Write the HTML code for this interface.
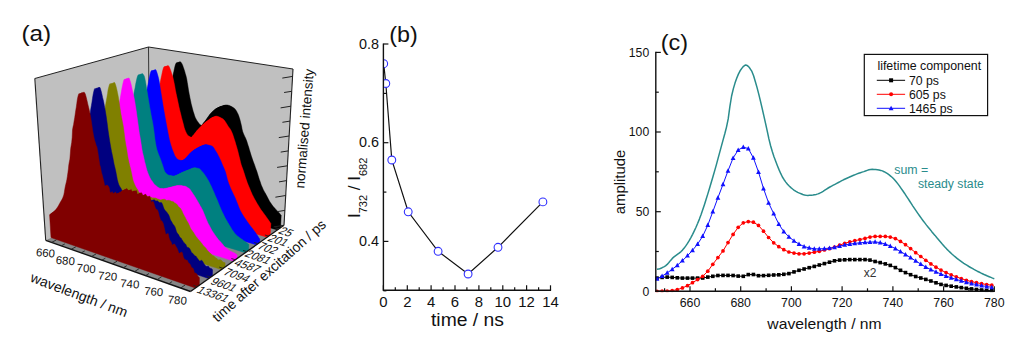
<!DOCTYPE html>
<html><head><meta charset="utf-8"><title>figure</title>
<style>html,body{margin:0;padding:0;background:#fff}svg{display:block}text{font-family:'Liberation Sans', Arial, sans-serif}</style>
</head><body>
<svg width="1024" height="350" viewBox="0 0 1024 350">
<rect width="1024" height="350" fill="#fff"/>
<polygon points="34.8,78.5 148.5,47.0 149.7,188.0 45.7,240.3" fill="#c0c0c0"/>
<polygon points="148.5,47.0 293.0,69.0 284.0,225.3 149.7,188.0" fill="#c0c0c0"/>
<polygon points="45.7,240.3 190.5,291.5 284.0,225.3 149.7,188.0" fill="#868686"/>
<line x1="148.5" y1="47.0" x2="149.7" y2="188.0" stroke="#333" stroke-width="1"/>
<polygon points="145.7,190.0 145.5,169.8 146.1,169.3 146.7,168.9 147.3,168.5 147.9,168.1 148.5,167.7 149.1,167.3 149.7,166.9 150.3,166.4 150.9,165.9 151.6,165.2 152.2,164.6 152.8,163.8 153.4,163.0 154.0,162.2 154.6,161.3 155.2,160.3 155.9,159.4 156.5,158.4 157.1,157.5 157.7,156.6 158.3,155.6 159.0,154.6 159.6,153.3 160.2,151.8 160.8,149.5 161.5,146.6 162.1,144.3 162.7,142.3 163.3,140.3 164.0,137.9 164.6,135.2 165.3,132.1 165.9,128.6 166.5,125.1 167.2,122.5 167.8,119.9 168.5,115.2 169.1,110.5 169.8,107.7 170.4,105.0 171.1,100.5 171.8,94.2 172.4,91.6 173.1,89.2 173.8,86.4 174.5,83.3 175.1,80.2 175.8,77.0 176.5,73.9 177.2,70.5 177.9,67.3 178.6,64.7 179.3,62.7 179.9,61.6 180.6,62.0 181.3,62.8 182.0,63.9 182.7,65.5 183.3,67.3 184.0,69.3 184.7,71.4 185.3,73.7 186.0,76.0 186.7,78.9 187.3,82.7 188.0,86.9 188.6,90.9 189.3,94.4 189.9,97.7 190.6,100.9 191.2,103.9 191.9,106.6 192.5,109.0 193.2,111.4 193.9,113.6 194.5,115.6 195.2,117.4 195.9,118.8 196.5,119.9 197.2,120.9 197.9,121.9 198.5,122.8 199.2,123.7 199.9,124.4 200.6,125.0 201.3,125.4 202.0,125.7 202.6,125.7 203.3,125.4 204.0,124.8 204.8,124.1 205.5,123.2 206.2,122.3 206.9,121.4 207.6,120.5 208.3,119.6 209.0,118.7 209.8,117.7 210.5,116.7 211.2,115.6 211.9,114.6 212.7,113.6 213.4,112.7 214.1,111.9 214.8,111.1 215.6,110.4 216.3,109.7 217.0,109.0 217.8,108.4 218.5,107.8 219.2,107.4 220.0,107.0 220.7,106.7 221.4,106.4 222.1,106.1 222.9,105.9 223.6,105.6 224.3,105.4 225.1,105.2 225.8,105.1 226.5,105.1 227.3,105.1 228.0,105.2 228.7,105.4 229.4,105.6 230.2,105.9 230.9,106.2 231.6,106.6 232.3,107.0 233.1,107.4 233.8,107.9 234.5,108.4 235.2,109.2 235.9,110.2 236.6,111.3 237.3,112.7 238.0,114.1 238.7,115.8 239.4,117.9 240.1,120.3 240.7,122.8 241.4,125.6 242.0,128.9 242.6,131.4 243.3,133.3 244.0,134.9 244.7,136.4 245.4,137.8 246.1,139.4 246.8,141.3 247.4,143.3 248.1,145.4 248.8,147.6 249.4,149.7 250.1,151.9 250.7,154.0 251.4,156.2 252.1,158.2 252.7,160.1 253.4,162.0 254.1,163.8 254.8,165.7 255.4,167.6 256.1,169.4 256.8,171.3 257.4,173.3 258.1,175.5 258.7,177.6 259.4,179.7 260.1,181.6 260.7,183.5 261.4,185.4 262.1,187.0 262.8,188.6 263.4,189.9 264.1,191.2 264.8,192.4 265.5,193.6 266.2,194.9 266.9,196.2 267.6,197.6 268.3,198.9 269.0,200.3 269.7,201.5 270.4,202.6 271.1,203.6 271.8,204.6 272.5,205.5 273.2,206.4 273.9,207.3 274.7,208.1 275.4,208.9 276.1,209.7 276.8,210.5 277.6,211.2 278.3,211.9 279.0,212.7 279.7,213.5 280.4,214.4 281.2,215.2 280.5,227.8" fill="#000000" stroke="#000000" stroke-width="0.5" stroke-linejoin="round"/>
<polygon points="144.9,190.4 144.6,170.1 145.3,169.7 145.9,169.3 146.5,168.9 147.1,168.5 147.7,168.1 148.3,167.7 148.9,167.3 149.5,166.8 150.1,166.2 150.7,165.6 151.3,164.9 152.0,164.2 152.6,163.4 153.2,162.5 153.8,161.6 154.4,160.7 155.0,159.8 155.6,158.8 156.3,157.9 156.9,157.0 157.5,156.0 158.1,154.9 158.8,153.7 159.4,152.2 160.0,149.8 160.6,147.0 161.3,144.6 161.9,142.6 162.5,140.6 163.2,138.3 163.8,135.5 164.4,132.4 165.1,128.9 165.7,125.4 166.3,122.8 167.0,120.2 167.6,115.5 168.3,110.9 168.9,108.1 169.6,105.4 170.3,100.9 170.9,94.5 171.6,91.9 172.3,89.5 172.9,86.6 173.6,83.6 174.3,80.5 175.0,77.3 175.7,74.2 176.3,70.8 177.0,67.6 177.7,65.0 178.4,62.9 179.1,61.9 179.8,62.2 180.5,63.0 181.1,64.2 181.8,65.7 182.5,67.5 183.2,69.5 183.8,71.7 184.5,74.0 185.2,76.3 185.8,79.2 186.5,83.0 187.1,87.2 187.8,91.2 188.4,94.7 189.1,98.0 189.7,101.2 190.4,104.2 191.1,106.9 191.7,109.3 192.4,111.7 193.0,113.9 193.7,116.0 194.4,117.7 195.0,119.1 195.7,120.2 196.4,121.3 197.1,122.3 197.7,123.2 198.4,124.0 199.1,124.8 199.8,125.4 200.5,125.8 201.1,126.0 201.8,126.0 202.5,125.7 203.2,125.2 203.9,124.5 204.6,123.6 205.4,122.7 206.1,121.7 206.8,120.8 207.5,120.0 208.2,119.1 208.9,118.1 209.7,117.0 210.4,116.0 211.1,114.9 211.9,113.9 212.6,113.0 213.3,112.2 214.0,111.5 214.8,110.7 215.5,110.0 216.2,109.3 217.0,108.7 217.7,108.2 218.4,107.7 219.1,107.4 219.9,107.1 220.6,106.8 221.3,106.5 222.1,106.2 222.8,106.0 223.5,105.7 224.3,105.6 225.0,105.5 225.7,105.4 226.4,105.4 227.2,105.5 227.9,105.7 228.6,105.9 229.4,106.2 230.1,106.5 230.8,106.9 231.5,107.3 232.3,107.7 233.0,108.2 233.7,108.7 234.4,109.5 235.1,110.5 235.8,111.7 236.5,113.0 237.2,114.4 237.9,116.1 238.6,118.2 239.3,120.6 239.9,123.2 240.6,126.0 241.2,129.2 241.9,131.8 242.5,133.7 243.2,135.3 243.9,136.7 244.6,138.2 245.3,139.8 246.0,141.7 246.6,143.7 247.3,145.8 248.0,148.0 248.6,150.1 249.3,152.3 250.0,154.4 250.6,156.6 251.3,158.6 252.0,160.6 252.6,162.4 253.3,164.3 254.0,166.1 254.7,168.0 255.3,169.8 256.0,171.7 256.7,173.8 257.3,175.9 258.0,178.1 258.6,180.2 259.3,182.1 260.0,184.0 260.7,185.8 261.3,187.5 262.0,189.0 262.7,190.4 263.4,191.7 264.1,192.9 264.8,194.1 265.5,195.3 266.2,196.7 266.9,198.0 267.6,199.4 268.2,200.7 268.9,202.0 269.7,203.1 270.4,204.1 271.1,205.1 271.8,206.0 272.5,206.9 273.2,207.7 273.9,208.6 274.6,209.4 275.4,210.2 276.1,210.9 276.8,211.7 277.5,212.4 278.3,213.2 279.0,214.0 279.7,214.9 280.4,215.7 279.7,228.3" fill="#000000" stroke="#000000" stroke-width="0.5" stroke-linejoin="round"/>
<polygon points="144.1,190.8 143.8,170.5 144.4,170.1 145.0,169.7 145.6,169.3 146.2,168.9 146.9,168.5 147.5,168.1 148.1,167.6 148.7,167.2 149.3,166.6 149.9,166.0 150.5,165.3 151.1,164.6 151.7,163.8 152.4,162.9 153.0,162.0 153.6,161.1 154.2,160.2 154.8,159.2 155.4,158.2 156.1,157.3 156.7,156.4 157.3,155.3 157.9,154.1 158.6,152.5 159.2,150.2 159.8,147.4 160.4,145.0 161.1,143.0 161.7,141.0 162.3,138.6 163.0,135.9 163.6,132.8 164.2,129.3 164.9,125.7 165.5,123.2 166.2,120.6 166.8,115.9 167.4,111.2 168.1,108.4 168.8,105.7 169.4,101.2 170.1,94.9 170.7,92.2 171.4,89.8 172.1,86.9 172.8,83.9 173.4,80.7 174.1,77.6 174.8,74.5 175.5,71.1 176.2,67.9 176.9,65.3 177.5,63.2 178.2,62.2 178.9,62.5 179.6,63.3 180.3,64.5 181.0,66.0 181.6,67.8 182.3,69.8 183.0,72.0 183.6,74.3 184.3,76.6 185.0,79.5 185.6,83.3 186.3,87.5 186.9,91.5 187.6,95.0 188.3,98.4 188.9,101.6 189.6,104.6 190.2,107.2 190.9,109.7 191.6,112.0 192.2,114.3 192.9,116.3 193.5,118.1 194.2,119.4 194.9,120.5 195.6,121.6 196.2,122.6 196.9,123.5 197.6,124.4 198.3,125.1 199.0,125.7 199.6,126.1 200.3,126.4 201.0,126.4 201.7,126.1 202.4,125.5 203.1,124.8 203.8,123.9 204.5,123.0 205.3,122.1 206.0,121.2 206.7,120.3 207.4,119.4 208.1,118.4 208.9,117.4 209.6,116.3 210.3,115.3 211.0,114.3 211.8,113.4 212.5,112.6 213.2,111.8 214.0,111.1 214.7,110.4 215.4,109.7 216.1,109.1 216.9,108.5 217.6,108.1 218.3,107.7 219.1,107.4 219.8,107.1 220.5,106.8 221.3,106.5 222.0,106.3 222.7,106.1 223.4,105.9 224.2,105.8 224.9,105.8 225.6,105.8 226.4,105.9 227.1,106.0 227.8,106.3 228.6,106.5 229.3,106.9 230.0,107.2 230.7,107.6 231.5,108.1 232.2,108.5 232.9,109.1 233.6,109.9 234.3,110.9 235.0,112.0 235.7,113.3 236.4,114.8 237.1,116.5 237.8,118.6 238.5,121.0 239.1,123.6 239.8,126.3 240.4,129.6 241.1,132.2 241.8,134.1 242.4,135.7 243.1,137.1 243.8,138.6 244.5,140.2 245.2,142.0 245.9,144.1 246.5,146.2 247.2,148.4 247.9,150.5 248.5,152.7 249.2,154.8 249.9,157.0 250.5,159.0 251.2,161.0 251.9,162.8 252.6,164.7 253.2,166.6 253.9,168.4 254.6,170.3 255.2,172.2 255.9,174.2 256.6,176.4 257.2,178.5 257.9,180.6 258.6,182.5 259.2,184.4 259.9,186.3 260.6,187.9 261.3,189.5 262.0,190.8 262.6,192.1 263.3,193.3 264.0,194.5 264.7,195.8 265.4,197.1 266.1,198.5 266.8,199.9 267.5,201.2 268.2,202.4 268.9,203.5 269.6,204.6 270.3,205.5 271.0,206.5 271.8,207.4 272.5,208.2 273.2,209.1 273.9,209.9 274.6,210.7 275.4,211.4 276.1,212.2 276.8,212.9 277.5,213.7 278.3,214.5 279.0,215.4 279.7,216.2 279.0,228.8" fill="#000000" stroke="#000000" stroke-width="0.5" stroke-linejoin="round"/>
<polygon points="143.2,191.3 143.0,170.9 143.6,170.5 144.2,170.1 144.8,169.7 145.4,169.3 146.0,168.9 146.6,168.5 147.2,168.0 147.9,167.6 148.5,167.0 149.1,166.4 149.7,165.7 150.3,165.0 150.9,164.2 151.5,163.3 152.1,162.4 152.8,161.5 153.4,160.5 154.0,159.6 154.6,158.6 155.2,157.7 155.9,156.8 156.5,155.7 157.1,154.4 157.7,152.9 158.3,150.6 159.0,147.7 159.6,145.4 160.2,143.4 160.9,141.3 161.5,139.0 162.1,136.2 162.7,133.1 163.4,129.6 164.0,126.1 164.7,123.5 165.3,120.9 166.0,116.2 166.6,111.5 167.3,108.7 167.9,106.0 168.6,101.5 169.2,95.2 169.9,92.5 170.6,90.1 171.2,87.2 171.9,84.2 172.6,81.0 173.3,77.9 173.9,74.8 174.6,71.4 175.3,68.1 176.0,65.5 176.7,63.5 177.4,62.4 178.1,62.8 178.7,63.6 179.4,64.8 180.1,66.3 180.8,68.1 181.5,70.1 182.1,72.3 182.8,74.6 183.5,76.9 184.1,79.8 184.8,83.6 185.5,87.8 186.1,91.8 186.8,95.3 187.4,98.7 188.1,101.9 188.7,104.9 189.4,107.6 190.1,110.0 190.7,112.4 191.4,114.6 192.1,116.6 192.7,118.4 193.4,119.8 194.1,120.9 194.7,121.9 195.4,123.0 196.1,123.9 196.8,124.7 197.5,125.5 198.1,126.1 198.8,126.5 199.5,126.8 200.2,126.8 200.9,126.4 201.6,125.9 202.3,125.2 203.0,124.3 203.7,123.4 204.4,122.4 205.2,121.5 205.9,120.7 206.6,119.8 207.3,118.8 208.0,117.7 208.8,116.7 209.5,115.6 210.2,114.6 211.0,113.7 211.7,112.9 212.4,112.1 213.1,111.4 213.9,110.7 214.6,110.0 215.3,109.4 216.1,108.9 216.8,108.4 217.5,108.0 218.2,107.7 219.0,107.4 219.7,107.1 220.4,106.9 221.2,106.6 221.9,106.4 222.6,106.3 223.4,106.1 224.1,106.1 224.8,106.1 225.6,106.2 226.3,106.4 227.0,106.6 227.7,106.9 228.5,107.2 229.2,107.6 229.9,108.0 230.7,108.4 231.4,108.9 232.1,109.4 232.8,110.2 233.5,111.2 234.2,112.4 234.9,113.7 235.6,115.1 236.3,116.8 237.0,119.0 237.7,121.4 238.3,123.9 239.0,126.7 239.6,130.0 240.3,132.6 241.0,134.5 241.7,136.1 242.4,137.5 243.0,139.0 243.7,140.6 244.4,142.4 245.1,144.5 245.8,146.6 246.4,148.8 247.1,150.9 247.8,153.1 248.4,155.2 249.1,157.4 249.8,159.4 250.4,161.4 251.1,163.3 251.8,165.1 252.5,167.0 253.1,168.8 253.8,170.7 254.5,172.6 255.2,174.6 255.8,176.8 256.5,179.0 257.1,181.0 257.8,183.0 258.5,184.9 259.1,186.7 259.8,188.4 260.5,189.9 261.2,191.3 261.9,192.6 262.6,193.8 263.3,195.0 264.0,196.3 264.7,197.6 265.4,199.0 266.1,200.4 266.8,201.7 267.5,202.9 268.2,204.0 268.9,205.0 269.6,206.0 270.3,207.0 271.0,207.8 271.7,208.7 272.5,209.6 273.2,210.4 273.9,211.2 274.6,211.9 275.4,212.7 276.1,213.4 276.8,214.2 277.5,215.0 278.3,215.9 279.0,216.7 278.3,229.3" fill="#000000" stroke="#000000" stroke-width="0.5" stroke-linejoin="round"/>
<polygon points="142.4,191.7 142.2,171.3 142.8,170.9 143.4,170.5 144.0,170.1 144.6,169.7 145.2,169.3 145.8,168.9 146.4,168.4 147.0,167.9 147.6,167.4 148.2,166.8 148.9,166.1 149.5,165.3 150.1,164.5 150.7,163.7 151.3,162.8 151.9,161.9 152.5,160.9 153.2,160.0 153.8,159.0 154.4,158.1 155.0,157.1 155.6,156.1 156.3,154.8 156.9,153.3 157.5,151.0 158.1,148.1 158.8,145.7 159.4,143.7 160.0,141.7 160.6,139.3 161.3,136.6 161.9,133.5 162.5,130.0 163.2,126.4 163.8,123.9 164.5,121.3 165.1,116.5 165.8,111.8 166.4,109.0 167.1,106.3 167.7,101.8 168.4,95.5 169.0,92.8 169.7,90.4 170.4,87.5 171.1,84.5 171.7,81.3 172.4,78.2 173.1,75.0 173.8,71.7 174.5,68.4 175.1,65.8 175.8,63.8 176.5,62.7 177.2,63.0 177.9,63.8 178.6,65.0 179.2,66.6 179.9,68.4 180.6,70.4 181.3,72.6 181.9,74.8 182.6,77.2 183.3,80.1 184.0,83.9 184.6,88.1 185.3,92.2 185.9,95.7 186.6,99.0 187.2,102.2 187.9,105.2 188.6,107.9 189.2,110.3 189.9,112.7 190.6,114.9 191.2,117.0 191.9,118.7 192.6,120.1 193.2,121.2 193.9,122.3 194.6,123.3 195.3,124.2 195.9,125.1 196.6,125.8 197.3,126.4 198.0,126.9 198.7,127.1 199.4,127.1 200.1,126.8 200.8,126.3 201.5,125.5 202.2,124.7 202.9,123.7 203.6,122.8 204.3,121.9 205.1,121.0 205.8,120.1 206.5,119.1 207.2,118.1 208.0,117.0 208.7,116.0 209.4,115.0 210.1,114.0 210.9,113.2 211.6,112.5 212.3,111.7 213.1,111.0 213.8,110.4 214.5,109.7 215.2,109.2 216.0,108.7 216.7,108.4 217.4,108.1 218.2,107.8 218.9,107.5 219.6,107.2 220.4,107.0 221.1,106.8 221.8,106.6 222.6,106.5 223.3,106.4 224.0,106.5 224.8,106.5 225.5,106.7 226.2,106.9 226.9,107.2 227.7,107.5 228.4,107.9 229.1,108.3 229.8,108.8 230.6,109.2 231.3,109.8 232.0,110.6 232.7,111.6 233.4,112.7 234.1,114.1 234.8,115.5 235.5,117.2 236.2,119.3 236.9,121.7 237.5,124.3 238.2,127.1 238.8,130.3 239.5,132.9 240.2,134.8 240.9,136.4 241.6,137.9 242.3,139.4 243.0,141.0 243.6,142.8 244.3,144.9 245.0,147.0 245.6,149.2 246.3,151.3 247.0,153.5 247.7,155.7 248.3,157.8 249.0,159.9 249.7,161.8 250.3,163.7 251.0,165.5 251.7,167.4 252.4,169.3 253.0,171.1 253.7,173.0 254.4,175.1 255.0,177.2 255.7,179.4 256.4,181.5 257.0,183.4 257.7,185.3 258.4,187.2 259.1,188.9 259.8,190.4 260.4,191.8 261.1,193.0 261.8,194.3 262.5,195.5 263.2,196.7 263.9,198.1 264.6,199.4 265.3,200.8 266.0,202.2 266.7,203.4 267.4,204.5 268.1,205.5 268.8,206.5 269.6,207.4 270.3,208.3 271.0,209.2 271.7,210.1 272.4,210.9 273.2,211.7 273.9,212.4 274.6,213.2 275.3,213.9 276.1,214.7 276.8,215.5 277.5,216.4 278.2,217.2 277.6,229.9" fill="#000000" stroke="#000000" stroke-width="0.5" stroke-linejoin="round"/>
<polygon points="134.2,195.8 133.8,175.2 134.4,174.8 135.0,174.4 135.6,174.0 136.2,173.6 136.8,173.2 137.5,172.8 138.1,172.3 138.7,171.8 139.3,171.3 139.9,170.7 140.5,170.0 141.1,169.2 141.7,168.4 142.4,167.5 143.0,166.6 143.6,165.7 144.2,164.7 144.8,163.8 145.4,162.8 146.0,161.9 146.7,160.9 147.3,159.8 147.9,158.6 148.5,157.0 149.1,154.7 149.8,151.8 150.4,149.4 151.0,147.4 151.6,145.3 152.2,142.9 152.9,140.1 153.5,137.0 154.1,133.5 154.7,129.9 155.4,127.3 156.0,124.6 156.6,119.9 157.3,115.1 157.9,112.3 158.6,109.5 159.2,105.0 159.8,98.6 160.5,95.8 161.2,93.5 161.8,90.6 162.5,87.5 163.1,84.3 163.8,81.1 164.5,77.9 165.2,74.5 165.8,71.2 166.5,68.6 167.2,66.5 167.9,65.4 168.6,65.9 169.3,66.9 169.9,68.4 170.6,70.2 171.3,72.3 172.0,74.5 172.7,76.7 173.4,79.5 174.1,82.9 174.8,86.5 175.4,90.2 176.1,93.6 176.8,96.8 177.5,100.1 178.2,103.2 178.8,106.3 179.5,109.2 180.2,112.0 180.9,114.8 181.5,117.4 182.2,120.0 182.9,122.6 183.6,125.2 184.2,127.7 184.9,129.8 185.6,131.4 186.3,132.9 187.0,134.2 187.6,135.2 188.3,135.7 189.0,136.2 189.7,136.6 190.4,137.0 191.1,137.3 191.8,137.5 192.5,137.6 193.2,137.3 193.9,136.7 194.6,136.0 195.3,135.2 196.0,134.5 196.7,133.7 197.4,132.8 198.2,131.8 198.9,130.9 199.6,130.0 200.3,129.1 201.0,128.3 201.8,127.6 202.5,126.8 203.2,126.0 204.0,125.3 204.7,124.5 205.4,123.8 206.1,123.1 206.9,122.5 207.6,121.8 208.3,121.2 209.1,120.7 209.8,120.1 210.6,119.6 211.3,119.0 212.0,118.5 212.8,117.9 213.5,117.4 214.3,116.9 215.0,116.6 215.7,116.3 216.5,116.2 217.2,116.3 217.9,116.5 218.7,116.8 219.4,117.1 220.1,117.4 220.9,117.8 221.6,118.2 222.3,118.6 223.1,119.0 223.8,119.7 224.5,120.5 225.2,121.6 226.0,122.7 226.7,123.9 227.4,125.1 228.1,126.2 228.8,127.2 229.6,128.2 230.3,129.2 231.0,130.4 231.7,131.9 232.4,133.6 233.1,135.6 233.8,137.8 234.5,139.9 235.2,142.1 235.8,144.3 236.5,146.5 237.2,148.9 237.9,151.4 238.5,154.1 239.2,156.8 239.9,159.5 240.5,162.2 241.2,164.7 241.9,166.8 242.6,168.6 243.3,170.5 243.9,172.4 244.6,174.6 245.3,176.9 246.0,179.0 246.7,181.0 247.3,182.8 248.0,184.5 248.7,186.2 249.4,187.8 250.1,189.5 250.8,191.2 251.5,192.8 252.2,194.4 252.9,195.8 253.6,197.2 254.3,198.5 255.0,199.8 255.7,201.0 256.4,202.2 257.1,203.5 257.9,204.7 258.6,205.9 259.3,207.1 260.0,208.2 260.7,209.3 261.4,210.3 262.2,211.3 262.9,212.3 263.6,213.2 264.3,214.2 265.1,215.2 265.8,216.2 266.5,217.2 267.2,218.2 267.9,219.2 268.7,220.3 269.4,221.3 270.1,222.4 270.8,223.4 270.2,235.0" fill="#ff0000" stroke="#ff0000" stroke-width="0.5" stroke-linejoin="round"/>
<polygon points="133.3,196.2 133.0,175.6 133.6,175.2 134.2,174.8 134.8,174.4 135.4,174.0 136.0,173.6 136.6,173.2 137.2,172.7 137.8,172.2 138.4,171.7 139.0,171.1 139.7,170.4 140.3,169.6 140.9,168.8 141.5,167.9 142.1,167.0 142.7,166.1 143.3,165.1 144.0,164.2 144.6,163.2 145.2,162.3 145.8,161.3 146.4,160.2 147.1,159.0 147.7,157.4 148.3,155.1 148.9,152.2 149.5,149.8 150.1,147.7 150.8,145.7 151.4,143.3 152.0,140.5 152.6,137.4 153.2,133.8 153.9,130.2 154.5,127.6 155.1,125.0 155.8,120.2 156.4,115.5 157.0,112.6 157.7,109.9 158.3,105.3 159.0,98.9 159.6,96.1 160.3,93.8 160.9,90.9 161.6,87.8 162.3,84.6 162.9,81.4 163.6,78.2 164.3,74.8 164.9,71.5 165.6,68.8 166.3,66.8 167.0,65.7 167.7,66.1 168.4,67.2 169.1,68.7 169.8,70.5 170.4,72.6 171.1,74.8 171.8,77.0 172.5,79.8 173.2,83.2 173.9,86.8 174.6,90.5 175.2,93.9 175.9,97.1 176.6,100.4 177.3,103.6 178.0,106.6 178.6,109.5 179.3,112.4 180.0,115.1 180.7,117.8 181.4,120.4 182.0,122.9 182.7,125.5 183.4,128.0 184.1,130.1 184.7,131.8 185.4,133.3 186.1,134.6 186.8,135.5 187.5,136.1 188.2,136.6 188.9,137.0 189.5,137.4 190.2,137.7 190.9,137.9 191.6,138.0 192.3,137.7 193.0,137.1 193.7,136.4 194.5,135.6 195.2,134.9 195.9,134.1 196.6,133.2 197.3,132.2 198.0,131.2 198.8,130.3 199.5,129.5 200.2,128.7 200.9,127.9 201.7,127.1 202.4,126.4 203.1,125.6 203.8,124.9 204.6,124.2 205.3,123.5 206.0,122.8 206.8,122.2 207.5,121.6 208.2,121.0 209.0,120.5 209.7,120.0 210.5,119.4 211.2,118.8 211.9,118.3 212.7,117.7 213.4,117.3 214.2,116.9 214.9,116.7 215.6,116.6 216.4,116.7 217.1,116.9 217.8,117.1 218.6,117.4 219.3,117.8 220.0,118.1 220.8,118.5 221.5,119.0 222.2,119.4 223.0,120.0 223.7,120.9 224.4,121.9 225.1,123.1 225.9,124.3 226.6,125.4 227.3,126.5 228.0,127.5 228.7,128.5 229.5,129.6 230.2,130.8 230.9,132.2 231.6,134.0 232.3,136.0 233.0,138.2 233.7,140.3 234.3,142.4 235.0,144.7 235.7,147.0 236.4,149.3 237.1,151.8 237.7,154.5 238.4,157.2 239.1,159.9 239.7,162.6 240.4,165.1 241.1,167.2 241.8,169.1 242.5,170.9 243.2,172.9 243.8,175.1 244.5,177.3 245.2,179.5 245.9,181.4 246.6,183.2 247.3,185.0 247.9,186.6 248.6,188.3 249.3,190.0 250.0,191.6 250.7,193.3 251.4,194.8 252.1,196.3 252.8,197.7 253.5,199.0 254.2,200.2 255.0,201.5 255.7,202.7 256.4,204.0 257.1,205.2 257.8,206.4 258.5,207.6 259.2,208.7 259.9,209.8 260.7,210.8 261.4,211.8 262.1,212.8 262.8,213.7 263.6,214.7 264.3,215.7 265.0,216.7 265.7,217.7 266.5,218.7 267.2,219.7 267.9,220.8 268.6,221.8 269.4,222.9 270.1,223.9 269.5,235.6" fill="#ff0000" stroke="#ff0000" stroke-width="0.5" stroke-linejoin="round"/>
<polygon points="132.5,196.7 132.1,176.0 132.7,175.6 133.3,175.2 133.9,174.8 134.5,174.4 135.1,174.0 135.7,173.6 136.4,173.1 137.0,172.6 137.6,172.1 138.2,171.5 138.8,170.8 139.4,170.0 140.0,169.2 140.6,168.3 141.3,167.4 141.9,166.5 142.5,165.5 143.1,164.6 143.7,163.6 144.3,162.7 145.0,161.7 145.6,160.6 146.2,159.4 146.8,157.8 147.4,155.4 148.0,152.5 148.7,150.2 149.3,148.1 149.9,146.1 150.5,143.7 151.1,140.9 151.8,137.7 152.4,134.2 153.0,130.6 153.6,128.0 154.3,125.3 154.9,120.6 155.5,115.8 156.2,113.0 156.8,110.2 157.4,105.6 158.1,99.2 158.7,96.5 159.4,94.1 160.1,91.2 160.7,88.1 161.4,84.9 162.0,81.7 162.7,78.5 163.4,75.1 164.1,71.8 164.7,69.1 165.4,67.0 166.1,66.0 166.8,66.4 167.5,67.5 168.2,68.9 168.9,70.8 169.6,72.9 170.3,75.0 170.9,77.3 171.6,80.1 172.3,83.5 173.0,87.1 173.7,90.8 174.4,94.2 175.1,97.5 175.7,100.7 176.4,103.9 177.1,106.9 177.8,109.9 178.5,112.7 179.1,115.4 179.8,118.1 180.5,120.7 181.2,123.3 181.9,125.9 182.5,128.4 183.2,130.5 183.9,132.1 184.6,133.7 185.3,134.9 185.9,135.9 186.6,136.5 187.3,137.0 188.0,137.4 188.7,137.8 189.4,138.1 190.1,138.3 190.8,138.4 191.5,138.1 192.2,137.5 192.9,136.8 193.6,136.0 194.3,135.2 195.0,134.5 195.8,133.6 196.5,132.6 197.2,131.6 197.9,130.7 198.6,129.9 199.4,129.1 200.1,128.3 200.8,127.5 201.5,126.7 202.3,126.0 203.0,125.3 203.7,124.5 204.5,123.9 205.2,123.2 205.9,122.6 206.7,121.9 207.4,121.4 208.1,120.8 208.9,120.3 209.6,119.8 210.4,119.2 211.1,118.6 211.8,118.1 212.6,117.6 213.3,117.3 214.1,117.0 214.8,117.0 215.5,117.1 216.3,117.3 217.0,117.5 217.7,117.8 218.5,118.1 219.2,118.5 219.9,118.9 220.7,119.3 221.4,119.8 222.1,120.4 222.9,121.3 223.6,122.3 224.3,123.5 225.0,124.6 225.7,125.8 226.5,126.9 227.2,127.9 227.9,128.9 228.6,130.0 229.4,131.2 230.1,132.6 230.8,134.4 231.5,136.4 232.2,138.6 232.8,140.7 233.5,142.8 234.2,145.1 234.9,147.4 235.6,149.7 236.3,152.2 236.9,154.9 237.6,157.7 238.3,160.3 238.9,163.0 239.6,165.5 240.3,167.6 241.0,169.5 241.7,171.4 242.4,173.3 243.0,175.5 243.7,177.8 244.4,179.9 245.1,181.9 245.8,183.7 246.5,185.4 247.2,187.1 247.9,188.7 248.5,190.4 249.2,192.1 249.9,193.7 250.6,195.3 251.3,196.8 252.0,198.1 252.8,199.4 253.5,200.7 254.2,202.0 254.9,203.2 255.6,204.5 256.3,205.7 257.0,206.9 257.7,208.1 258.5,209.2 259.2,210.3 259.9,211.3 260.6,212.3 261.4,213.3 262.1,214.2 262.8,215.2 263.5,216.2 264.3,217.2 265.0,218.2 265.7,219.2 266.4,220.3 267.2,221.3 267.9,222.3 268.6,223.4 269.3,224.5 268.7,236.1" fill="#ff0000" stroke="#ff0000" stroke-width="0.5" stroke-linejoin="round"/>
<polygon points="131.6,197.1 131.2,176.4 131.8,176.0 132.4,175.6 133.1,175.2 133.7,174.8 134.3,174.4 134.9,174.0 135.5,173.5 136.1,173.0 136.7,172.5 137.3,171.9 137.9,171.2 138.6,170.4 139.2,169.6 139.8,168.7 140.4,167.8 141.0,166.9 141.6,165.9 142.2,165.0 142.9,164.0 143.5,163.1 144.1,162.1 144.7,161.0 145.3,159.7 146.0,158.2 146.6,155.8 147.2,152.9 147.8,150.5 148.4,148.5 149.0,146.4 149.7,144.1 150.3,141.2 150.9,138.1 151.5,134.5 152.1,130.9 152.8,128.3 153.4,125.7 154.0,120.9 154.6,116.1 155.3,113.3 155.9,110.5 156.6,106.0 157.2,99.5 157.8,96.8 158.5,94.4 159.2,91.5 159.8,88.4 160.5,85.2 161.2,82.0 161.8,78.8 162.5,75.4 163.2,72.1 163.8,69.4 164.5,67.3 165.2,66.3 165.9,66.7 166.6,67.7 167.3,69.2 168.0,71.1 168.7,73.2 169.4,75.3 170.1,77.6 170.7,80.4 171.4,83.8 172.1,87.4 172.8,91.1 173.5,94.5 174.2,97.8 174.9,101.0 175.6,104.2 176.2,107.3 176.9,110.2 177.6,113.0 178.3,115.8 179.0,118.5 179.6,121.1 180.3,123.7 181.0,126.2 181.7,128.8 182.4,130.9 183.0,132.5 183.7,134.0 184.4,135.3 185.1,136.3 185.8,136.9 186.5,137.3 187.2,137.8 187.9,138.1 188.5,138.5 189.2,138.7 189.9,138.7 190.6,138.4 191.4,137.9 192.1,137.1 192.8,136.4 193.5,135.6 194.2,134.8 194.9,133.9 195.6,133.0 196.4,132.0 197.1,131.1 197.8,130.2 198.5,129.5 199.2,128.7 200.0,127.9 200.7,127.1 201.4,126.4 202.2,125.6 202.9,124.9 203.6,124.2 204.4,123.6 205.1,122.9 205.8,122.3 206.6,121.7 207.3,121.2 208.0,120.7 208.8,120.1 209.5,119.6 210.3,119.0 211.0,118.5 211.7,118.0 212.5,117.6 213.2,117.4 214.0,117.3 214.7,117.4 215.4,117.6 216.2,117.9 216.9,118.2 217.6,118.5 218.4,118.9 219.1,119.3 219.8,119.7 220.6,120.1 221.3,120.8 222.0,121.6 222.8,122.7 223.5,123.8 224.2,125.0 224.9,126.2 225.6,127.3 226.4,128.3 227.1,129.3 227.8,130.4 228.5,131.6 229.2,133.0 230.0,134.8 230.6,136.8 231.3,139.0 232.0,141.1 232.7,143.2 233.4,145.5 234.1,147.8 234.8,150.1 235.5,152.7 236.1,155.3 236.8,158.1 237.5,160.8 238.1,163.5 238.8,166.0 239.5,168.1 240.2,170.0 240.9,171.8 241.6,173.8 242.2,176.0 242.9,178.2 243.6,180.4 244.3,182.3 245.0,184.1 245.7,185.9 246.4,187.5 247.1,189.2 247.8,190.9 248.5,192.6 249.2,194.2 249.9,195.8 250.6,197.2 251.3,198.6 252.0,199.9 252.7,201.2 253.4,202.4 254.1,203.7 254.8,204.9 255.5,206.2 256.3,207.4 257.0,208.6 257.7,209.7 258.4,210.8 259.1,211.8 259.9,212.8 260.6,213.8 261.3,214.7 262.0,215.7 262.8,216.7 263.5,217.7 264.2,218.7 264.9,219.7 265.7,220.8 266.4,221.8 267.1,222.9 267.8,223.9 268.6,225.0 268.0,236.6" fill="#ff0000" stroke="#ff0000" stroke-width="0.5" stroke-linejoin="round"/>
<polygon points="130.8,197.5 130.4,176.8 131.0,176.4 131.6,176.0 132.2,175.6 132.8,175.2 133.4,174.8 134.0,174.4 134.6,173.9 135.2,173.4 135.9,172.9 136.5,172.3 137.1,171.6 137.7,170.8 138.3,170.0 138.9,169.1 139.5,168.2 140.1,167.3 140.8,166.3 141.4,165.3 142.0,164.4 142.6,163.5 143.2,162.5 143.8,161.4 144.5,160.1 145.1,158.6 145.7,156.2 146.3,153.3 146.9,150.9 147.5,148.9 148.2,146.8 148.8,144.4 149.4,141.6 150.0,138.5 150.6,134.9 151.3,131.3 151.9,128.7 152.5,126.0 153.1,121.3 153.8,116.5 154.4,113.6 155.0,110.9 155.7,106.3 156.3,99.8 157.0,97.1 157.6,94.7 158.3,91.8 158.9,88.7 159.6,85.5 160.3,82.3 160.9,79.1 161.6,75.7 162.3,72.4 162.9,69.7 163.6,67.6 164.3,66.5 165.0,67.0 165.7,68.0 166.4,69.5 167.1,71.4 167.8,73.4 168.5,75.6 169.2,77.9 169.9,80.7 170.6,84.1 171.2,87.8 171.9,91.4 172.6,94.8 173.3,98.1 174.0,101.4 174.7,104.6 175.4,107.6 176.1,110.5 176.7,113.4 177.4,116.1 178.1,118.8 178.8,121.5 179.5,124.0 180.1,126.6 180.8,129.1 181.5,131.2 182.2,132.9 182.9,134.4 183.5,135.7 184.2,136.7 184.9,137.2 185.6,137.7 186.3,138.1 187.0,138.5 187.7,138.8 188.4,139.1 189.1,139.1 189.8,138.8 190.5,138.3 191.2,137.5 191.9,136.7 192.6,136.0 193.3,135.2 194.1,134.3 194.8,133.3 195.5,132.4 196.2,131.4 197.0,130.6 197.7,129.8 198.4,129.0 199.1,128.3 199.9,127.5 200.6,126.7 201.3,126.0 202.0,125.3 202.8,124.6 203.5,123.9 204.2,123.3 205.0,122.7 205.7,122.1 206.5,121.6 207.2,121.1 207.9,120.5 208.7,119.9 209.4,119.3 210.2,118.8 210.9,118.4 211.6,118.0 212.4,117.8 213.1,117.7 213.9,117.8 214.6,118.0 215.3,118.2 216.1,118.5 216.8,118.8 217.5,119.2 218.3,119.6 219.0,120.1 219.7,120.5 220.5,121.1 221.2,122.0 221.9,123.0 222.6,124.2 223.4,125.4 224.1,126.6 224.8,127.7 225.5,128.7 226.3,129.7 227.0,130.8 227.7,132.0 228.4,133.4 229.1,135.2 229.8,137.2 230.5,139.3 231.2,141.5 231.9,143.6 232.6,145.9 233.3,148.2 234.0,150.6 234.6,153.1 235.3,155.8 236.0,158.5 236.7,161.2 237.3,163.9 238.0,166.4 238.7,168.5 239.4,170.4 240.1,172.2 240.8,174.2 241.4,176.4 242.1,178.7 242.8,180.8 243.5,182.8 244.2,184.6 244.9,186.3 245.6,188.0 246.3,189.7 247.0,191.4 247.7,193.0 248.4,194.7 249.1,196.3 249.8,197.7 250.5,199.1 251.2,200.4 251.9,201.7 252.6,202.9 253.3,204.2 254.0,205.4 254.8,206.7 255.5,207.9 256.2,209.1 256.9,210.2 257.6,211.3 258.4,212.3 259.1,213.3 259.8,214.3 260.5,215.2 261.3,216.2 262.0,217.2 262.7,218.2 263.4,219.2 264.2,220.2 264.9,221.3 265.6,222.3 266.4,223.4 267.1,224.4 267.8,225.5 267.2,237.2" fill="#ff0000" stroke="#ff0000" stroke-width="0.5" stroke-linejoin="round"/>
<polygon points="122.2,201.8 121.7,180.9 122.3,180.5 122.9,180.0 123.5,179.6 124.1,179.2 124.8,178.8 125.4,178.4 126.0,178.0 126.6,177.5 127.2,176.9 127.8,176.3 128.4,175.6 129.0,174.8 129.6,174.0 130.3,173.1 130.9,172.2 131.5,171.3 132.1,170.3 132.7,169.3 133.3,168.3 133.9,167.4 134.6,166.4 135.2,165.3 135.8,164.0 136.4,162.5 137.0,160.1 137.6,157.1 138.2,154.7 138.8,152.6 139.4,150.6 140.1,148.2 140.7,145.3 141.3,142.1 141.9,138.5 142.5,134.9 143.1,132.3 143.7,129.6 144.3,124.7 144.9,119.9 145.6,117.0 146.2,114.2 146.8,109.6 147.4,103.1 148.1,100.3 148.7,97.9 149.4,94.9 150.0,91.8 150.7,88.5 151.3,85.3 152.0,82.1 152.6,78.6 153.3,75.3 154.0,72.6 154.6,70.5 155.3,69.4 156.0,70.1 156.7,71.8 157.4,74.1 158.1,76.5 158.9,79.8 159.6,84.0 160.3,88.6 161.0,93.0 161.7,97.3 162.4,101.6 163.1,105.9 163.8,110.1 164.5,114.1 165.2,118.0 165.9,121.8 166.6,125.5 167.3,129.2 168.0,132.9 168.7,136.5 169.4,139.7 170.1,142.4 170.8,144.9 171.5,147.1 172.2,149.2 172.9,151.0 173.6,152.7 174.3,154.4 174.9,155.9 175.6,157.1 176.3,158.0 177.0,158.7 177.7,159.3 178.4,159.8 179.1,160.0 179.8,160.2 180.5,160.3 181.2,160.5 181.9,160.6 182.6,160.6 183.3,160.4 184.0,160.1 184.7,159.7 185.4,159.4 186.1,159.0 186.8,158.5 187.5,158.0 188.2,157.4 189.0,156.7 189.7,155.9 190.4,155.1 191.1,154.3 191.8,153.5 192.6,152.7 193.3,151.9 194.0,151.2 194.7,150.5 195.5,149.9 196.2,149.4 196.9,148.9 197.7,148.4 198.4,147.9 199.1,147.4 199.9,147.0 200.6,146.7 201.3,146.4 202.1,146.0 202.8,145.6 203.5,145.3 204.3,145.0 205.0,144.8 205.8,144.6 206.5,144.6 207.2,144.8 208.0,144.9 208.7,145.1 209.4,145.3 210.2,145.5 210.9,145.7 211.7,145.9 212.4,146.2 213.1,147.0 213.9,148.1 214.6,149.3 215.3,150.5 216.0,151.6 216.8,152.8 217.5,154.1 218.2,155.4 218.9,156.8 219.6,158.3 220.4,159.9 221.1,161.5 221.8,163.3 222.5,165.0 223.2,166.5 223.9,168.1 224.6,169.7 225.3,171.5 226.0,173.9 226.7,176.8 227.4,179.6 228.1,181.8 228.8,183.7 229.5,185.5 230.2,187.3 230.9,188.9 231.6,190.4 232.3,191.9 233.0,193.4 233.7,194.9 234.5,196.5 235.2,198.1 235.9,199.8 236.6,201.5 237.3,203.2 238.0,205.0 238.7,206.9 239.4,208.6 240.1,210.2 240.8,211.5 241.5,212.8 242.2,214.1 243.0,215.3 243.7,216.4 244.4,217.5 245.1,218.6 245.9,219.6 246.6,220.7 247.3,221.7 248.1,222.8 248.8,223.8 249.5,224.8 250.2,225.7 251.0,226.7 251.7,227.6 252.5,228.6 253.2,229.5 253.9,230.5 254.7,231.5 255.4,232.5 256.1,233.6 256.9,234.7 257.6,235.8 258.3,236.8 259.0,238.0 259.8,239.1 259.6,242.6" fill="#0000ff" stroke="#0000ff" stroke-width="0.5" stroke-linejoin="round"/>
<polygon points="121.3,202.3 120.8,181.3 121.4,180.9 122.0,180.5 122.6,180.0 123.3,179.6 123.9,179.2 124.5,178.8 125.1,178.4 125.7,177.9 126.3,177.3 126.9,176.7 127.5,176.0 128.1,175.2 128.8,174.4 129.4,173.5 130.0,172.6 130.6,171.7 131.2,170.7 131.8,169.7 132.4,168.7 133.1,167.8 133.7,166.8 134.3,165.7 134.9,164.4 135.5,162.9 136.1,160.5 136.7,157.5 137.3,155.1 137.9,153.0 138.5,151.0 139.2,148.5 139.8,145.7 140.4,142.5 141.0,138.9 141.6,135.3 142.2,132.6 142.8,129.9 143.4,125.1 144.0,120.2 144.7,117.4 145.3,114.6 145.9,109.9 146.5,103.4 147.1,100.6 147.8,98.2 148.4,95.2 149.1,92.1 149.7,88.8 150.4,85.6 151.0,82.4 151.7,78.9 152.4,75.6 153.0,72.9 153.7,70.8 154.4,69.7 155.1,70.4 155.8,72.1 156.5,74.4 157.2,76.8 157.9,80.1 158.7,84.4 159.4,88.9 160.1,93.4 160.8,97.6 161.5,101.9 162.2,106.3 162.9,110.4 163.6,114.4 164.4,118.3 165.1,122.2 165.8,125.9 166.5,129.6 167.2,133.2 167.8,136.9 168.5,140.1 169.2,142.8 169.9,145.3 170.6,147.5 171.3,149.6 172.0,151.4 172.7,153.1 173.4,154.8 174.1,156.3 174.8,157.5 175.5,158.4 176.1,159.1 176.8,159.7 177.5,160.2 178.2,160.4 178.9,160.6 179.6,160.7 180.3,160.9 181.0,161.0 181.7,161.0 182.4,160.8 183.1,160.5 183.8,160.2 184.5,159.8 185.2,159.4 186.0,158.9 186.7,158.4 187.4,157.8 188.1,157.1 188.8,156.3 189.5,155.5 190.3,154.7 191.0,153.9 191.7,153.1 192.4,152.3 193.2,151.6 193.9,150.9 194.6,150.3 195.3,149.8 196.1,149.3 196.8,148.8 197.5,148.3 198.3,147.8 199.0,147.4 199.7,147.1 200.5,146.8 201.2,146.4 201.9,146.1 202.7,145.7 203.4,145.4 204.2,145.2 204.9,145.0 205.6,145.0 206.4,145.2 207.1,145.3 207.9,145.5 208.6,145.7 209.3,145.9 210.1,146.1 210.8,146.3 211.6,146.6 212.3,147.4 213.0,148.5 213.7,149.8 214.5,150.9 215.2,152.0 215.9,153.3 216.6,154.5 217.4,155.9 218.1,157.3 218.8,158.7 219.5,160.3 220.2,162.0 220.9,163.7 221.6,165.4 222.4,167.0 223.1,168.5 223.8,170.1 224.5,172.0 225.2,174.3 225.9,177.3 226.5,180.0 227.2,182.2 227.9,184.2 228.7,186.0 229.4,187.7 230.1,189.4 230.8,190.9 231.5,192.4 232.2,193.8 232.9,195.4 233.6,197.0 234.3,198.6 235.1,200.3 235.8,201.9 236.5,203.7 237.2,205.5 237.9,207.4 238.6,209.1 239.3,210.7 240.0,212.1 240.7,213.4 241.4,214.6 242.2,215.8 242.9,216.9 243.6,218.0 244.3,219.1 245.1,220.2 245.8,221.2 246.5,222.3 247.3,223.3 248.0,224.3 248.7,225.3 249.5,226.3 250.2,227.2 250.9,228.2 251.7,229.1 252.4,230.1 253.1,231.1 253.9,232.1 254.6,233.1 255.3,234.1 256.1,235.2 256.8,236.3 257.5,237.4 258.3,238.5 259.0,239.6 258.8,243.1" fill="#0000ff" stroke="#0000ff" stroke-width="0.5" stroke-linejoin="round"/>
<polygon points="120.4,202.7 119.9,181.7 120.5,181.3 121.2,180.9 121.8,180.5 122.4,180.0 123.0,179.6 123.6,179.2 124.2,178.8 124.8,178.3 125.4,177.7 126.0,177.1 126.6,176.4 127.3,175.6 127.9,174.8 128.5,173.9 129.1,173.0 129.7,172.1 130.3,171.1 130.9,170.1 131.5,169.1 132.2,168.2 132.8,167.2 133.4,166.1 134.0,164.8 134.6,163.3 135.2,160.9 135.8,157.9 136.4,155.5 137.0,153.4 137.7,151.3 138.3,148.9 138.9,146.1 139.5,142.9 140.1,139.3 140.7,135.6 141.3,133.0 141.9,130.3 142.5,125.4 143.1,120.6 143.7,117.7 144.4,114.9 145.0,110.3 145.6,103.7 146.2,100.9 146.9,98.5 147.5,95.6 148.2,92.4 148.8,89.2 149.5,85.9 150.1,82.7 150.8,79.2 151.4,75.9 152.1,73.2 152.8,71.0 153.5,70.0 154.2,70.7 154.9,72.4 155.6,74.7 156.3,77.1 157.0,80.4 157.7,84.7 158.5,89.3 159.2,93.7 159.9,97.9 160.6,102.3 161.3,106.6 162.0,110.8 162.7,114.8 163.5,118.7 164.2,122.5 164.9,126.3 165.6,129.9 166.3,133.6 167.0,137.2 167.7,140.5 168.4,143.2 169.0,145.7 169.7,147.9 170.4,150.0 171.1,151.8 171.8,153.5 172.5,155.2 173.2,156.7 173.9,158.0 174.6,158.8 175.3,159.5 176.0,160.1 176.7,160.6 177.4,160.8 178.0,161.0 178.7,161.2 179.4,161.3 180.1,161.4 180.8,161.4 181.5,161.2 182.3,160.9 183.0,160.6 183.7,160.2 184.4,159.8 185.1,159.3 185.8,158.8 186.5,158.2 187.2,157.5 187.9,156.8 188.7,156.0 189.4,155.1 190.1,154.3 190.8,153.5 191.6,152.7 192.3,152.0 193.0,151.3 193.7,150.7 194.5,150.2 195.2,149.7 195.9,149.2 196.7,148.7 197.4,148.3 198.1,147.8 198.9,147.5 199.6,147.2 200.3,146.8 201.1,146.5 201.8,146.1 202.6,145.8 203.3,145.6 204.0,145.4 204.8,145.4 205.5,145.6 206.3,145.7 207.0,145.9 207.7,146.1 208.5,146.3 209.2,146.5 210.0,146.7 210.7,147.0 211.4,147.8 212.2,148.9 212.9,150.2 213.6,151.3 214.3,152.5 215.1,153.7 215.8,155.0 216.5,156.3 217.2,157.7 217.9,159.1 218.7,160.7 219.4,162.4 220.1,164.1 220.8,165.8 221.5,167.4 222.2,169.0 223.0,170.6 223.7,172.4 224.4,174.8 225.0,177.7 225.7,180.5 226.4,182.7 227.1,184.7 227.8,186.5 228.5,188.2 229.2,189.8 230.0,191.4 230.7,192.8 231.4,194.3 232.1,195.8 232.8,197.4 233.5,199.1 234.2,200.7 234.9,202.4 235.6,204.2 236.4,206.0 237.1,207.9 237.8,209.6 238.5,211.2 239.2,212.6 239.9,213.9 240.6,215.1 241.4,216.3 242.1,217.4 242.8,218.5 243.5,219.6 244.3,220.7 245.0,221.7 245.7,222.8 246.5,223.8 247.2,224.9 247.9,225.8 248.7,226.8 249.4,227.8 250.1,228.7 250.9,229.7 251.6,230.6 252.3,231.6 253.1,232.6 253.8,233.6 254.5,234.7 255.3,235.8 256.0,236.8 256.7,237.9 257.5,239.1 258.2,240.2 258.0,243.7" fill="#0000ff" stroke="#0000ff" stroke-width="0.5" stroke-linejoin="round"/>
<polygon points="119.6,203.2 119.0,182.1 119.7,181.7 120.3,181.3 120.9,180.9 121.5,180.5 122.1,180.1 122.7,179.6 123.3,179.2 123.9,178.7 124.5,178.2 125.1,177.5 125.8,176.8 126.4,176.1 127.0,175.2 127.6,174.4 128.2,173.4 128.8,172.5 129.4,171.5 130.0,170.5 130.7,169.6 131.3,168.6 131.9,167.6 132.5,166.5 133.1,165.2 133.7,163.7 134.3,161.3 134.9,158.3 135.5,155.9 136.1,153.8 136.8,151.7 137.4,149.3 138.0,146.4 138.6,143.3 139.2,139.7 139.8,136.0 140.4,133.3 141.0,130.7 141.6,125.8 142.2,120.9 142.8,118.1 143.5,115.3 144.1,110.6 144.7,104.1 145.3,101.3 146.0,98.8 146.6,95.9 147.2,92.7 147.9,89.5 148.5,86.2 149.2,83.0 149.9,79.5 150.5,76.2 151.2,73.5 151.9,71.3 152.5,70.3 153.2,71.0 153.9,72.7 154.7,75.0 155.4,77.4 156.1,80.8 156.8,85.0 157.5,89.6 158.3,94.0 159.0,98.3 159.7,102.6 160.4,106.9 161.1,111.1 161.8,115.1 162.6,119.1 163.3,122.9 164.0,126.6 164.7,130.3 165.4,134.0 166.1,137.6 166.8,140.9 167.5,143.6 168.2,146.1 168.9,148.3 169.5,150.4 170.2,152.2 170.9,154.0 171.6,155.6 172.3,157.1 173.0,158.4 173.7,159.3 174.4,159.9 175.1,160.5 175.8,161.0 176.5,161.3 177.2,161.4 177.9,161.6 178.6,161.7 179.3,161.8 180.0,161.9 180.7,161.7 181.4,161.4 182.1,161.0 182.8,160.6 183.5,160.2 184.2,159.8 184.9,159.2 185.6,158.6 186.4,157.9 187.1,157.2 187.8,156.4 188.5,155.5 189.2,154.7 190.0,153.9 190.7,153.1 191.4,152.4 192.1,151.7 192.9,151.2 193.6,150.6 194.3,150.1 195.1,149.6 195.8,149.1 196.5,148.7 197.3,148.3 198.0,147.9 198.7,147.6 199.5,147.2 200.2,146.9 201.0,146.5 201.7,146.2 202.4,146.0 203.2,145.9 203.9,145.8 204.7,146.0 205.4,146.1 206.1,146.3 206.9,146.5 207.6,146.7 208.4,146.9 209.1,147.1 209.8,147.4 210.6,148.2 211.3,149.4 212.0,150.6 212.8,151.7 213.5,152.9 214.2,154.1 214.9,155.4 215.7,156.7 216.4,158.1 217.1,159.6 217.8,161.1 218.5,162.8 219.2,164.6 220.0,166.3 220.7,167.9 221.4,169.4 222.1,171.0 222.8,172.9 223.5,175.2 224.2,178.2 224.9,181.0 225.6,183.1 226.3,185.1 227.0,186.9 227.7,188.7 228.4,190.3 229.1,191.9 229.8,193.3 230.6,194.8 231.3,196.3 232.0,197.9 232.7,199.6 233.4,201.2 234.1,202.9 234.8,204.7 235.5,206.5 236.2,208.4 236.9,210.1 237.7,211.7 238.4,213.1 239.1,214.4 239.8,215.6 240.5,216.8 241.3,217.9 242.0,219.1 242.7,220.1 243.5,221.2 244.2,222.3 244.9,223.3 245.7,224.4 246.4,225.4 247.1,226.4 247.9,227.3 248.6,228.3 249.3,229.2 250.1,230.2 250.8,231.1 251.5,232.1 252.3,233.1 253.0,234.2 253.7,235.2 254.5,236.3 255.2,237.4 256.0,238.5 256.7,239.6 257.4,240.7 257.3,244.2" fill="#0000ff" stroke="#0000ff" stroke-width="0.5" stroke-linejoin="round"/>
<polygon points="118.7,203.6 118.1,182.6 118.8,182.1 119.4,181.7 120.0,181.3 120.6,180.9 121.2,180.5 121.8,180.1 122.4,179.6 123.0,179.1 123.6,178.6 124.2,177.9 124.9,177.2 125.5,176.5 126.1,175.6 126.7,174.8 127.3,173.8 127.9,172.9 128.5,171.9 129.1,170.9 129.8,170.0 130.4,169.0 131.0,168.0 131.6,166.9 132.2,165.6 132.8,164.1 133.4,161.7 134.0,158.7 134.6,156.3 135.2,154.2 135.8,152.1 136.5,149.7 137.1,146.8 137.7,143.6 138.3,140.0 138.9,136.4 139.5,133.7 140.1,131.0 140.7,126.2 141.3,121.3 141.9,118.4 142.6,115.6 143.2,110.9 143.7,104.4 144.4,101.6 145.0,99.2 145.7,96.2 146.3,93.0 147.0,89.8 147.6,86.5 148.3,83.3 148.9,79.8 149.6,76.5 150.2,73.8 150.9,71.6 151.6,70.5 152.3,71.3 153.0,73.0 153.7,75.3 154.4,77.7 155.2,81.1 155.9,85.3 156.6,89.9 157.3,94.3 158.1,98.6 158.8,102.9 159.5,107.3 160.2,111.5 160.9,115.5 161.6,119.4 162.4,123.2 163.1,127.0 163.8,130.7 164.5,134.4 165.2,138.0 165.9,141.2 166.6,144.0 167.3,146.5 168.0,148.7 168.7,150.8 169.4,152.6 170.0,154.4 170.7,156.0 171.4,157.5 172.1,158.8 172.8,159.7 173.5,160.3 174.2,161.0 174.9,161.4 175.6,161.7 176.3,161.8 177.0,162.0 177.7,162.1 178.4,162.2 179.1,162.3 179.8,162.1 180.5,161.8 181.2,161.4 181.9,161.1 182.6,160.7 183.3,160.2 184.1,159.6 184.8,159.0 185.5,158.3 186.2,157.6 186.9,156.8 187.6,156.0 188.4,155.1 189.1,154.3 189.8,153.5 190.5,152.8 191.3,152.1 192.0,151.6 192.7,151.0 193.5,150.5 194.2,150.0 194.9,149.5 195.7,149.1 196.4,148.7 197.1,148.3 197.9,148.0 198.6,147.6 199.3,147.3 200.1,146.9 200.8,146.6 201.6,146.4 202.3,146.3 203.1,146.2 203.8,146.4 204.5,146.5 205.3,146.7 206.0,146.9 206.8,147.1 207.5,147.3 208.2,147.5 209.0,147.9 209.7,148.7 210.4,149.8 211.2,151.0 211.9,152.1 212.6,153.3 213.3,154.5 214.1,155.8 214.8,157.1 215.5,158.5 216.2,160.0 217.0,161.6 217.7,163.3 218.4,165.0 219.1,166.7 219.8,168.3 220.6,169.8 221.3,171.5 222.0,173.3 222.7,175.7 223.4,178.6 224.0,181.4 224.7,183.6 225.5,185.6 226.2,187.4 226.9,189.1 227.6,190.8 228.3,192.3 229.0,193.8 229.7,195.3 230.5,196.8 231.2,198.4 231.9,200.0 232.6,201.7 233.3,203.4 234.0,205.2 234.7,207.0 235.4,208.9 236.1,210.7 236.8,212.2 237.6,213.6 238.3,214.9 239.0,216.1 239.7,217.3 240.5,218.5 241.2,219.6 241.9,220.7 242.7,221.7 243.4,222.8 244.1,223.8 244.8,224.9 245.6,225.9 246.3,226.9 247.1,227.9 247.8,228.8 248.5,229.8 249.3,230.7 250.0,231.7 250.7,232.7 251.5,233.7 252.2,234.7 253.0,235.8 253.7,236.8 254.4,237.9 255.2,239.0 255.9,240.2 256.6,241.3 256.5,244.8" fill="#0000ff" stroke="#0000ff" stroke-width="0.5" stroke-linejoin="round"/>
<polygon points="109.8,208.1 109.2,186.8 109.8,186.3 110.4,185.9 111.0,185.5 111.6,185.1 112.2,184.7 112.8,184.3 113.4,183.8 114.0,183.3 114.7,182.8 115.3,182.1 115.9,181.4 116.5,180.6 117.1,179.8 117.7,178.9 118.3,178.0 118.9,177.0 119.5,176.0 120.1,175.0 120.8,174.1 121.4,173.1 122.0,172.1 122.6,171.0 123.2,169.7 123.8,168.1 124.4,165.7 125.0,162.7 125.6,160.2 126.2,158.1 126.8,156.0 127.4,153.6 128.0,150.7 128.6,147.5 129.2,143.8 129.7,140.1 130.3,137.4 131.0,134.7 131.5,129.8 132.1,124.8 132.7,121.9 133.3,119.1 133.9,114.4 134.5,107.7 135.1,104.9 135.8,102.5 136.4,99.5 137.0,96.3 137.7,93.0 138.3,89.7 138.9,86.4 139.6,82.9 140.2,79.5 140.9,76.7 141.5,74.6 142.2,73.5 142.9,74.0 143.6,74.9 144.4,76.4 145.1,79.6 145.9,84.1 146.6,88.8 147.4,93.1 148.1,97.6 148.9,102.2 149.6,106.7 150.4,111.0 151.1,114.9 151.8,118.6 152.6,122.4 153.3,126.7 154.0,131.8 154.8,138.4 155.5,143.1 156.2,146.8 156.9,149.8 157.7,152.1 158.4,154.0 159.1,155.7 159.8,157.4 160.5,159.3 161.2,161.3 161.9,163.3 162.6,165.3 163.3,167.5 164.0,169.8 164.7,171.6 165.4,172.5 166.1,173.2 166.8,173.9 167.5,174.5 168.2,174.9 168.9,175.2 169.6,175.4 170.3,175.5 171.0,175.6 171.7,175.8 172.4,175.9 173.1,176.0 173.8,176.0 174.6,176.0 175.3,175.8 176.0,175.6 176.7,175.3 177.4,175.0 178.1,174.8 178.8,174.4 179.6,174.1 180.3,173.7 181.0,173.3 181.7,172.9 182.4,172.5 183.2,172.2 183.9,171.9 184.6,171.6 185.3,171.3 186.1,171.0 186.8,170.7 187.5,170.4 188.3,170.1 189.0,169.9 189.7,169.6 190.5,169.3 191.2,169.0 191.9,168.6 192.7,168.3 193.4,168.0 194.2,167.8 194.9,167.7 195.6,167.8 196.4,168.0 197.1,168.2 197.9,168.3 198.6,168.5 199.3,168.7 200.1,169.2 200.8,170.0 201.5,170.9 202.3,171.8 203.0,172.6 203.8,173.5 204.5,174.5 205.2,175.6 206.0,176.7 206.7,177.8 207.4,179.0 208.2,180.3 208.9,181.6 209.6,183.0 210.3,184.5 211.1,186.0 211.8,187.6 212.5,189.2 213.2,190.8 214.0,192.6 214.7,194.3 215.4,196.0 216.1,197.6 216.9,199.3 217.6,201.0 218.3,202.7 219.0,204.5 219.7,206.3 220.5,208.1 221.2,209.7 221.9,211.3 222.6,212.8 223.4,214.3 224.1,215.8 224.8,217.2 225.5,218.5 226.3,219.9 227.0,221.1 227.7,222.4 228.5,223.6 229.2,224.9 229.9,226.1 230.7,227.3 231.4,228.5 232.1,229.7 232.9,230.8 233.6,231.8 234.3,232.8 235.1,233.7 235.8,234.5 236.6,235.3 237.3,235.9 238.1,236.6 238.9,237.1 239.6,237.7 240.4,238.2 241.1,238.8 241.9,239.3 242.7,239.8 243.4,240.4 244.2,240.9 245.0,241.5 245.7,242.1 246.5,242.6 247.3,243.2 248.0,243.8 248.8,244.3 248.5,250.4" fill="#008080" stroke="#008080" stroke-width="0.5" stroke-linejoin="round"/>
<polygon points="108.9,208.5 108.2,187.2 108.9,186.8 109.5,186.3 110.1,185.9 110.7,185.5 111.3,185.1 111.9,184.7 112.5,184.2 113.1,183.7 113.7,183.2 114.3,182.5 115.0,181.8 115.6,181.1 116.2,180.2 116.8,179.3 117.4,178.4 118.0,177.5 118.6,176.5 119.2,175.5 119.8,174.5 120.4,173.5 121.1,172.5 121.7,171.4 122.3,170.1 122.9,168.5 123.5,166.1 124.1,163.1 124.7,160.6 125.3,158.5 125.9,156.4 126.5,154.0 127.1,151.1 127.6,147.8 128.2,144.2 128.8,140.5 129.4,137.8 130.0,135.1 130.6,130.1 131.2,125.2 131.8,122.3 132.4,119.4 133.0,114.7 133.5,108.1 134.2,105.3 134.8,102.8 135.4,99.8 136.1,96.6 136.7,93.3 137.3,90.0 138.0,86.7 138.6,83.2 139.3,79.8 139.9,77.1 140.6,74.9 141.3,73.8 142.0,74.3 142.7,75.2 143.4,76.7 144.1,80.0 144.9,84.4 145.7,89.1 146.4,93.4 147.2,97.9 147.9,102.5 148.7,107.1 149.4,111.3 150.2,115.2 150.9,118.9 151.6,122.8 152.4,127.0 153.1,132.2 153.9,138.8 154.6,143.5 155.3,147.3 156.0,150.2 156.7,152.5 157.5,154.4 158.2,156.1 158.9,157.8 159.6,159.7 160.3,161.7 161.0,163.7 161.7,165.7 162.4,168.0 163.1,170.2 163.8,172.0 164.5,172.9 165.2,173.7 165.9,174.3 166.6,174.9 167.3,175.3 168.0,175.6 168.7,175.8 169.4,175.9 170.1,176.1 170.8,176.2 171.5,176.3 172.2,176.4 173.0,176.5 173.7,176.4 174.4,176.3 175.1,176.0 175.8,175.8 176.5,175.5 177.2,175.2 177.9,174.9 178.7,174.5 179.4,174.1 180.1,173.7 180.8,173.3 181.5,173.0 182.3,172.6 183.0,172.3 183.7,172.0 184.4,171.7 185.2,171.4 185.9,171.1 186.6,170.8 187.4,170.6 188.1,170.3 188.8,170.0 189.6,169.8 190.3,169.4 191.0,169.1 191.8,168.7 192.5,168.4 193.3,168.2 194.0,168.2 194.7,168.3 195.5,168.4 196.2,168.6 197.0,168.8 197.7,168.9 198.5,169.2 199.2,169.7 199.9,170.4 200.7,171.3 201.4,172.2 202.1,173.1 202.9,174.0 203.6,175.0 204.4,176.0 205.1,177.1 205.8,178.3 206.6,179.5 207.3,180.7 208.0,182.1 208.7,183.5 209.5,184.9 210.2,186.5 210.9,188.0 211.7,189.6 212.4,191.3 213.1,193.0 213.8,194.8 214.6,196.5 215.3,198.1 216.0,199.8 216.7,201.5 217.4,203.2 218.2,205.0 218.9,206.8 219.6,208.6 220.3,210.2 221.1,211.8 221.8,213.3 222.5,214.8 223.2,216.3 224.0,217.7 224.7,219.1 225.4,220.4 226.2,221.7 226.9,222.9 227.6,224.2 228.4,225.4 229.1,226.6 229.8,227.9 230.6,229.1 231.3,230.2 232.0,231.3 232.8,232.4 233.5,233.4 234.3,234.3 235.0,235.1 235.8,235.8 236.5,236.5 237.3,237.1 238.0,237.7 238.8,238.3 239.6,238.8 240.3,239.3 241.1,239.9 241.8,240.4 242.6,240.9 243.4,241.5 244.1,242.1 244.9,242.6 245.7,243.2 246.4,243.8 247.2,244.3 248.0,244.9 247.7,251.0" fill="#008080" stroke="#008080" stroke-width="0.5" stroke-linejoin="round"/>
<polygon points="108.0,209.0 107.3,187.6 107.9,187.2 108.5,186.8 109.1,186.3 109.8,185.9 110.4,185.5 111.0,185.1 111.6,184.7 112.2,184.2 112.8,183.6 113.4,183.0 114.0,182.3 114.6,181.5 115.2,180.6 115.9,179.8 116.5,178.8 117.1,177.9 117.7,176.9 118.3,175.9 118.9,174.9 119.5,173.9 120.1,173.0 120.7,171.8 121.4,170.5 122.0,169.0 122.6,166.5 123.1,163.5 123.7,161.1 124.3,158.9 124.9,156.8 125.5,154.4 126.1,151.5 126.7,148.2 127.3,144.6 127.9,140.9 128.5,138.2 129.1,135.4 129.6,130.5 130.2,125.6 130.8,122.6 131.4,119.8 132.0,115.1 132.6,108.4 133.2,105.6 133.9,103.1 134.5,100.1 135.1,96.9 135.7,93.6 136.4,90.3 137.0,87.0 137.6,83.5 138.3,80.1 138.9,77.4 139.6,75.2 140.3,74.1 141.0,74.6 141.7,75.5 142.4,77.0 143.2,80.3 143.9,84.7 144.7,89.4 145.5,93.7 146.2,98.2 147.0,102.9 147.7,107.4 148.5,111.7 149.2,115.6 149.9,119.3 150.7,123.2 151.4,127.4 152.2,132.5 152.9,139.2 153.7,143.9 154.4,147.7 155.1,150.6 155.8,152.9 156.5,154.8 157.2,156.5 157.9,158.2 158.7,160.2 159.4,162.1 160.1,164.1 160.8,166.1 161.5,168.4 162.2,170.7 162.9,172.4 163.6,173.4 164.3,174.1 165.0,174.8 165.7,175.3 166.4,175.8 167.1,176.1 167.8,176.2 168.5,176.4 169.2,176.5 169.9,176.6 170.6,176.8 171.3,176.8 172.1,176.9 172.8,176.9 173.5,176.7 174.2,176.5 174.9,176.2 175.6,175.9 176.3,175.6 177.0,175.3 177.8,175.0 178.5,174.6 179.2,174.2 179.9,173.8 180.6,173.4 181.4,173.1 182.1,172.8 182.8,172.5 183.5,172.2 184.3,171.9 185.0,171.6 185.7,171.3 186.5,171.0 187.2,170.7 187.9,170.5 188.7,170.2 189.4,169.9 190.2,169.5 190.9,169.2 191.6,168.9 192.4,168.7 193.1,168.6 193.9,168.7 194.6,168.9 195.3,169.0 196.1,169.2 196.8,169.4 197.6,169.6 198.3,170.1 199.0,170.9 199.8,171.8 200.5,172.7 201.3,173.5 202.0,174.4 202.7,175.4 203.5,176.5 204.2,177.6 204.9,178.8 205.7,180.0 206.4,181.2 207.1,182.5 207.9,183.9 208.6,185.4 209.3,187.0 210.1,188.5 210.8,190.1 211.5,191.8 212.2,193.5 213.0,195.3 213.7,196.9 214.4,198.6 215.1,200.3 215.9,202.0 216.6,203.7 217.3,205.5 218.0,207.3 218.8,209.1 219.5,210.8 220.2,212.3 220.9,213.8 221.7,215.3 222.4,216.8 223.1,218.2 223.8,219.6 224.6,220.9 225.3,222.2 226.0,223.4 226.8,224.7 227.5,225.9 228.2,227.2 229.0,228.4 229.7,229.6 230.5,230.8 231.2,231.9 231.9,232.9 232.7,233.9 233.4,234.8 234.2,235.6 234.9,236.4 235.7,237.0 236.4,237.7 237.2,238.3 238.0,238.8 238.7,239.4 239.5,239.9 240.3,240.4 241.0,240.9 241.8,241.5 242.5,242.0 243.3,242.6 244.1,243.2 244.8,243.8 245.6,244.3 246.4,244.9 247.2,245.5 246.9,251.6" fill="#008080" stroke="#008080" stroke-width="0.5" stroke-linejoin="round"/>
<polygon points="107.1,209.4 106.4,188.1 107.0,187.6 107.6,187.2 108.2,186.8 108.8,186.4 109.4,186.0 110.1,185.5 110.7,185.1 111.3,184.6 111.9,184.0 112.5,183.4 113.1,182.7 113.7,181.9 114.3,181.1 114.9,180.2 115.5,179.3 116.1,178.3 116.8,177.3 117.4,176.3 118.0,175.3 118.6,174.4 119.2,173.4 119.8,172.3 120.4,171.0 121.0,169.4 121.6,166.9 122.2,163.9 122.8,161.5 123.4,159.4 124.0,157.2 124.6,154.8 125.2,151.9 125.8,148.6 126.3,145.0 126.9,141.2 127.5,138.6 128.1,135.8 128.7,130.9 129.3,125.9 129.9,123.0 130.5,120.2 131.1,115.4 131.6,108.8 132.3,105.9 132.9,103.5 133.5,100.5 134.2,97.3 134.8,93.9 135.4,90.6 136.0,87.4 136.7,83.8 137.3,80.4 138.0,77.7 138.6,75.5 139.3,74.4 140.0,74.9 140.7,75.8 141.5,77.3 142.2,80.6 143.0,85.0 143.7,89.7 144.5,94.1 145.3,98.6 146.0,103.2 146.8,107.8 147.5,112.1 148.3,115.9 149.0,119.7 149.7,123.5 150.5,127.8 151.2,132.9 152.0,139.6 152.7,144.3 153.5,148.1 154.2,151.0 154.9,153.3 155.6,155.2 156.3,156.9 157.0,158.7 157.7,160.6 158.4,162.6 159.2,164.6 159.9,166.6 160.6,168.8 161.3,171.1 162.0,172.9 162.7,173.8 163.4,174.6 164.1,175.2 164.8,175.8 165.5,176.2 166.2,176.5 166.9,176.7 167.6,176.8 168.3,177.0 169.0,177.1 169.7,177.2 170.4,177.3 171.2,177.4 171.9,177.3 172.6,177.2 173.3,176.9 174.0,176.7 174.7,176.4 175.4,176.1 176.1,175.8 176.9,175.4 177.6,175.0 178.3,174.6 179.0,174.2 179.7,173.9 180.5,173.5 181.2,173.2 181.9,172.9 182.7,172.6 183.4,172.3 184.1,172.0 184.8,171.7 185.6,171.5 186.3,171.2 187.0,170.9 187.8,170.7 188.5,170.3 189.3,170.0 190.0,169.6 190.7,169.3 191.5,169.1 192.2,169.1 193.0,169.2 193.7,169.3 194.4,169.5 195.2,169.7 195.9,169.8 196.7,170.1 197.4,170.6 198.2,171.3 198.9,172.2 199.6,173.1 200.4,174.0 201.1,174.9 201.9,175.9 202.6,177.0 203.3,178.1 204.1,179.2 204.8,180.4 205.5,181.7 206.3,183.0 207.0,184.4 207.7,185.9 208.5,187.4 209.2,189.0 209.9,190.6 210.6,192.3 211.4,194.0 212.1,195.7 212.8,197.4 213.6,199.1 214.3,200.8 215.0,202.5 215.7,204.2 216.4,206.0 217.2,207.8 217.9,209.6 218.6,211.3 219.3,212.8 220.1,214.4 220.8,215.9 221.5,217.3 222.3,218.7 223.0,220.1 223.7,221.4 224.5,222.7 225.2,224.0 225.9,225.2 226.7,226.5 227.4,227.7 228.1,228.9 228.9,230.1 229.6,231.3 230.4,232.4 231.1,233.5 231.8,234.5 232.6,235.4 233.3,236.2 234.1,236.9 234.8,237.6 235.6,238.2 236.4,238.8 237.1,239.4 237.9,239.9 238.7,240.5 239.4,241.0 240.2,241.5 241.0,242.1 241.7,242.6 242.5,243.2 243.3,243.8 244.0,244.3 244.8,244.9 245.6,245.5 246.3,246.1 246.1,252.1" fill="#008080" stroke="#008080" stroke-width="0.5" stroke-linejoin="round"/>
<polygon points="106.1,209.9 105.5,188.5 106.1,188.1 106.7,187.6 107.3,187.2 107.9,186.8 108.5,186.4 109.1,186.0 109.7,185.5 110.3,185.0 111.0,184.5 111.6,183.8 112.2,183.1 112.8,182.3 113.4,181.5 114.0,180.6 114.6,179.7 115.2,178.7 115.8,177.7 116.4,176.7 117.0,175.7 117.7,174.8 118.3,173.8 118.9,172.7 119.5,171.4 120.1,169.8 120.7,167.3 121.3,164.3 121.8,161.9 122.4,159.8 123.1,157.6 123.6,155.2 124.2,152.3 124.8,149.0 125.4,145.3 126.0,141.6 126.6,138.9 127.2,136.2 127.7,131.2 128.3,126.3 128.9,123.4 129.5,120.5 130.1,115.8 130.7,109.1 131.3,106.3 131.9,103.8 132.6,100.8 133.2,97.6 133.8,94.3 134.4,91.0 135.1,87.7 135.7,84.1 136.4,80.7 137.0,78.0 137.7,75.8 138.4,74.7 139.1,75.2 139.8,76.1 140.5,77.6 141.3,80.9 142.0,85.3 142.8,90.1 143.5,94.4 144.3,98.9 145.1,103.6 145.8,108.1 146.6,112.4 147.3,116.3 148.1,120.0 148.8,123.9 149.5,128.2 150.3,133.3 151.1,140.0 151.8,144.7 152.5,148.5 153.3,151.4 154.0,153.7 154.7,155.6 155.4,157.3 156.1,159.1 156.8,161.0 157.5,163.0 158.2,165.0 159.0,167.0 159.7,169.3 160.4,171.5 161.1,173.3 161.8,174.2 162.5,175.0 163.2,175.7 163.9,176.2 164.6,176.7 165.3,177.0 166.0,177.1 166.7,177.3 167.4,177.4 168.1,177.5 168.8,177.6 169.5,177.7 170.2,177.8 171.0,177.8 171.7,177.6 172.4,177.4 173.1,177.1 173.8,176.8 174.5,176.5 175.2,176.2 176.0,175.9 176.7,175.5 177.4,175.1 178.1,174.7 178.8,174.3 179.6,174.0 180.3,173.7 181.0,173.4 181.8,173.1 182.5,172.8 183.2,172.5 183.9,172.2 184.7,171.9 185.4,171.6 186.1,171.4 186.9,171.1 187.6,170.8 188.4,170.4 189.1,170.1 189.8,169.8 190.6,169.6 191.3,169.5 192.1,169.6 192.8,169.8 193.6,169.9 194.3,170.1 195.0,170.3 195.8,170.5 196.5,171.0 197.3,171.8 198.0,172.7 198.7,173.6 199.5,174.4 200.2,175.4 201.0,176.4 201.7,177.4 202.4,178.5 203.2,179.7 203.9,180.9 204.7,182.1 205.4,183.5 206.1,184.9 206.9,186.4 207.6,187.9 208.3,189.5 209.0,191.1 209.8,192.8 210.5,194.5 211.2,196.2 212.0,197.9 212.7,199.6 213.4,201.3 214.1,203.0 214.9,204.7 215.6,206.5 216.3,208.3 217.0,210.1 217.8,211.8 218.5,213.4 219.2,214.9 219.9,216.4 220.7,217.8 221.4,219.3 222.1,220.6 222.9,222.0 223.6,223.3 224.3,224.5 225.1,225.8 225.8,227.0 226.6,228.3 227.3,229.5 228.0,230.7 228.8,231.8 229.5,233.0 230.3,234.0 231.0,235.0 231.8,235.9 232.5,236.7 233.3,237.5 234.0,238.2 234.8,238.8 235.5,239.4 236.3,239.9 237.1,240.5 237.8,241.0 238.6,241.5 239.4,242.1 240.1,242.6 240.9,243.2 241.7,243.8 242.4,244.3 243.2,244.9 244.0,245.5 244.7,246.1 245.5,246.6 245.3,252.7" fill="#008080" stroke="#008080" stroke-width="0.5" stroke-linejoin="round"/>
<polygon points="96.9,214.5 96.1,192.9 96.7,192.4 97.4,192.0 98.0,191.6 98.6,191.2 99.2,190.7 99.8,190.3 100.4,189.9 101.0,189.4 101.6,188.8 102.2,188.2 102.8,187.5 103.5,186.7 104.1,185.8 104.7,184.9 105.3,184.0 105.9,183.0 106.5,182.0 107.1,181.0 107.7,180.0 108.3,179.0 108.9,178.0 109.5,176.9 110.1,175.6 110.7,174.0 111.3,171.5 111.9,168.5 112.4,166.0 113.0,163.8 113.6,161.7 114.2,159.2 114.8,156.3 115.4,153.0 115.9,149.3 116.5,145.5 117.1,142.8 117.7,140.0 118.2,135.0 118.7,130.0 119.3,127.0 120.0,124.2 120.5,119.3 121.0,112.6 121.6,109.7 122.3,107.2 122.9,104.2 123.5,100.9 124.1,97.6 124.7,94.2 125.3,90.9 126.0,87.3 126.6,83.9 127.2,81.1 127.9,78.9 128.6,77.8 129.3,78.6 130.0,80.6 130.8,83.3 131.6,86.6 132.3,90.1 133.1,93.5 133.9,97.0 134.7,101.1 135.4,105.6 136.2,110.5 137.0,116.5 137.9,123.0 138.7,129.0 139.4,133.8 140.2,138.1 141.0,143.2 141.8,148.6 142.5,152.4 143.3,155.6 144.0,158.7 144.7,161.9 145.5,164.8 146.2,167.7 146.9,170.3 147.7,172.5 148.4,174.3 149.1,176.0 149.8,177.4 150.5,178.8 151.2,179.9 152.0,180.9 152.7,181.9 153.4,183.1 154.1,184.0 154.8,184.7 155.5,185.2 156.2,185.8 156.9,186.4 157.6,187.0 158.4,187.5 159.1,187.9 159.8,188.2 160.5,188.5 161.2,188.5 161.9,188.4 162.6,188.5 163.3,188.7 164.1,188.8 164.8,188.5 165.5,188.4 166.2,188.3 166.9,188.2 167.6,188.0 168.4,187.8 169.1,187.6 169.8,187.5 170.5,187.3 171.3,187.1 172.0,186.9 172.7,186.7 173.4,186.5 174.2,186.2 174.9,186.2 175.6,186.0 176.4,185.8 177.1,185.6 177.8,185.5 178.6,185.5 179.3,185.4 180.1,185.4 180.8,185.4 181.5,185.5 182.3,185.7 183.0,185.9 183.8,186.1 184.5,186.1 185.2,186.2 186.0,186.5 186.7,186.9 187.5,187.4 188.2,187.9 189.0,188.3 189.7,189.0 190.5,190.0 191.2,191.2 192.0,192.3 192.7,193.3 193.4,194.4 194.2,195.5 194.9,196.7 195.7,198.0 196.4,199.2 197.2,200.5 197.9,201.7 198.6,203.1 199.4,204.3 200.1,205.7 200.9,206.9 201.6,208.3 202.4,209.7 203.1,211.3 203.8,213.1 204.6,214.9 205.3,216.7 206.0,218.6 206.8,220.4 207.5,222.1 208.2,223.6 209.0,224.9 209.7,226.2 210.5,227.7 211.2,229.1 211.9,230.4 212.7,231.6 213.4,232.7 214.2,233.8 214.9,234.9 215.7,236.0 216.4,237.0 217.2,238.0 217.9,239.1 218.7,240.0 219.4,240.8 220.2,241.5 221.0,242.3 221.7,243.2 222.5,244.1 223.2,245.1 224.0,246.1 224.7,246.9 225.5,247.6 226.3,248.2 227.0,248.7 227.8,249.2 228.6,249.9 229.3,250.6 230.1,251.0 230.9,251.4 231.7,251.7 232.5,252.2 233.2,252.5 234.0,252.8 234.8,253.2 235.6,253.8 236.4,254.4 237.1,254.8 237.0,258.6" fill="#ff00ff" stroke="#ff00ff" stroke-width="0.5" stroke-linejoin="round"/>
<polygon points="96.0,215.0 95.2,193.3 95.8,192.9 96.4,192.5 97.0,192.0 97.6,191.6 98.2,191.2 98.8,190.8 99.5,190.3 100.1,189.8 100.7,189.3 101.3,188.6 101.9,187.9 102.5,187.1 103.1,186.3 103.7,185.4 104.3,184.4 104.9,183.5 105.5,182.5 106.1,181.4 106.7,180.4 107.3,179.5 108.0,178.5 108.6,177.4 109.2,176.0 109.8,174.4 110.3,171.9 110.9,168.9 111.5,166.4 112.1,164.3 112.7,162.1 113.2,159.6 113.8,156.7 114.4,153.4 114.9,149.7 115.5,145.9 116.1,143.2 116.7,140.4 117.2,135.4 117.8,130.4 118.4,127.4 119.0,124.5 119.5,119.7 120.0,113.0 120.6,110.1 121.3,107.6 121.9,104.5 122.5,101.3 123.1,97.9 123.7,94.6 124.3,91.3 125.0,87.7 125.6,84.2 126.2,81.4 126.9,79.2 127.6,78.1 128.3,78.9 129.0,80.9 129.8,83.7 130.6,86.9 131.3,90.4 132.1,93.8 132.9,97.4 133.7,101.4 134.5,105.9 135.2,110.9 136.1,116.9 136.9,123.4 137.7,129.4 138.5,134.2 139.2,138.5 140.0,143.6 140.8,149.0 141.6,152.8 142.3,156.0 143.0,159.1 143.8,162.3 144.5,165.2 145.3,168.2 146.0,170.8 146.7,172.9 147.4,174.7 148.2,176.4 148.9,177.9 149.6,179.2 150.3,180.3 151.0,181.3 151.7,182.4 152.4,183.5 153.2,184.5 153.9,185.1 154.6,185.7 155.3,186.3 156.0,186.9 156.7,187.4 157.4,188.0 158.1,188.4 158.8,188.7 159.6,188.9 160.3,189.0 161.0,188.9 161.7,189.0 162.4,189.2 163.1,189.2 163.8,189.0 164.6,188.8 165.3,188.8 166.0,188.7 166.7,188.5 167.4,188.3 168.2,188.1 168.9,188.0 169.6,187.8 170.3,187.6 171.1,187.4 171.8,187.2 172.5,187.0 173.2,186.7 174.0,186.7 174.7,186.5 175.4,186.3 176.2,186.1 176.9,186.0 177.7,185.9 178.4,185.9 179.1,185.9 179.9,185.9 180.6,186.0 181.4,186.2 182.1,186.4 182.8,186.6 183.6,186.6 184.3,186.6 185.1,187.0 185.8,187.4 186.6,187.9 187.3,188.4 188.1,188.8 188.8,189.5 189.6,190.5 190.3,191.7 191.0,192.7 191.8,193.8 192.5,194.8 193.3,196.0 194.0,197.2 194.8,198.5 195.5,199.7 196.3,201.0 197.0,202.2 197.7,203.6 198.5,204.8 199.2,206.2 200.0,207.5 200.7,208.9 201.5,210.2 202.2,211.8 202.9,213.6 203.7,215.5 204.4,217.2 205.1,219.1 205.9,220.9 206.6,222.6 207.4,224.1 208.1,225.4 208.8,226.8 209.6,228.2 210.3,229.6 211.1,230.9 211.8,232.1 212.6,233.3 213.3,234.4 214.1,235.5 214.8,236.6 215.6,237.6 216.3,238.6 217.1,239.7 217.8,240.6 218.6,241.3 219.3,242.1 220.1,242.9 220.8,243.8 221.6,244.7 222.4,245.7 223.1,246.6 223.9,247.5 224.6,248.2 225.4,248.8 226.2,249.3 226.9,249.8 227.7,250.5 228.5,251.1 229.3,251.6 230.0,252.0 230.8,252.3 231.6,252.7 232.4,253.1 233.2,253.4 233.9,253.8 234.7,254.4 235.5,255.0 236.3,255.4 236.2,259.2" fill="#ff00ff" stroke="#ff00ff" stroke-width="0.5" stroke-linejoin="round"/>
<polygon points="95.1,215.5 94.2,193.8 94.8,193.3 95.4,192.9 96.0,192.5 96.7,192.1 97.3,191.6 97.9,191.2 98.5,190.8 99.1,190.3 99.7,189.7 100.3,189.1 100.9,188.3 101.5,187.6 102.1,186.7 102.7,185.8 103.3,184.9 104.0,183.9 104.6,182.9 105.2,181.9 105.8,180.9 106.4,179.9 107.0,178.9 107.6,177.8 108.2,176.5 108.8,174.9 109.4,172.4 109.9,169.3 110.5,166.8 111.1,164.7 111.7,162.5 112.3,160.0 112.8,157.1 113.4,153.8 114.0,150.1 114.5,146.3 115.1,143.6 115.7,140.8 116.2,135.8 116.8,130.7 117.4,127.8 118.0,124.9 118.5,120.1 119.0,113.3 119.7,110.4 120.3,108.0 120.9,104.9 121.5,101.6 122.1,98.3 122.7,94.9 123.3,91.6 124.0,88.0 124.6,84.5 125.2,81.7 125.9,79.6 126.6,78.4 127.3,79.3 128.0,81.2 128.8,84.0 129.6,87.3 130.3,90.8 131.1,94.1 131.9,97.7 132.7,101.8 133.5,106.3 134.3,111.2 135.1,117.3 135.9,123.8 136.7,129.8 137.5,134.6 138.3,138.9 139.0,144.0 139.8,149.4 140.6,153.3 141.3,156.4 142.1,159.5 142.8,162.7 143.6,165.7 144.3,168.6 145.0,171.2 145.8,173.4 146.5,175.2 147.2,176.9 147.9,178.3 148.7,179.7 149.4,180.8 150.1,181.8 150.8,182.8 151.5,184.0 152.2,184.9 152.9,185.6 153.6,186.1 154.4,186.8 155.1,187.3 155.8,187.9 156.5,188.4 157.2,188.8 157.9,189.2 158.6,189.4 159.3,189.4 160.0,189.4 160.8,189.5 161.5,189.7 162.2,189.7 162.9,189.5 163.6,189.3 164.3,189.2 165.1,189.2 165.8,189.0 166.5,188.7 167.2,188.5 168.0,188.4 168.7,188.3 169.4,188.0 170.1,187.9 170.9,187.7 171.6,187.4 172.3,187.2 173.1,187.1 173.8,187.0 174.5,186.8 175.3,186.5 176.0,186.4 176.7,186.4 177.5,186.4 178.2,186.3 178.9,186.3 179.7,186.5 180.4,186.7 181.2,186.9 181.9,187.1 182.7,187.1 183.4,187.1 184.2,187.4 184.9,187.9 185.7,188.4 186.4,188.8 187.1,189.3 187.9,190.0 188.6,191.0 189.4,192.1 190.1,193.2 190.9,194.3 191.6,195.3 192.4,196.5 193.1,197.7 193.9,199.0 194.6,200.2 195.3,201.5 196.1,202.7 196.8,204.1 197.6,205.3 198.3,206.7 199.1,208.0 199.8,209.4 200.6,210.7 201.3,212.3 202.0,214.1 202.8,216.0 203.5,217.8 204.3,219.7 205.0,221.5 205.7,223.1 206.5,224.7 207.2,226.0 208.0,227.3 208.7,228.7 209.4,230.2 210.2,231.5 210.9,232.7 211.7,233.8 212.4,234.9 213.2,236.1 213.9,237.1 214.7,238.1 215.4,239.2 216.2,240.2 216.9,241.2 217.7,241.9 218.5,242.7 219.2,243.5 220.0,244.3 220.7,245.3 221.5,246.3 222.2,247.2 223.0,248.0 223.8,248.8 224.5,249.3 225.3,249.9 226.1,250.4 226.9,251.1 227.6,251.7 228.4,252.2 229.2,252.6 230.0,252.9 230.7,253.3 231.5,253.7 232.3,254.0 233.1,254.4 233.9,255.0 234.6,255.6 235.4,256.0 235.3,259.8" fill="#ff00ff" stroke="#ff00ff" stroke-width="0.5" stroke-linejoin="round"/>
<polygon points="94.1,216.0 93.3,194.2 93.9,193.8 94.5,193.4 95.1,192.9 95.7,192.5 96.3,192.1 96.9,191.7 97.5,191.2 98.1,190.7 98.7,190.2 99.4,189.5 100.0,188.8 100.6,188.0 101.2,187.2 101.8,186.3 102.4,185.3 103.0,184.3 103.6,183.3 104.2,182.3 104.8,181.3 105.4,180.4 106.0,179.3 106.6,178.2 107.2,176.9 107.8,175.3 108.4,172.8 109.0,169.8 109.5,167.2 110.1,165.1 110.7,162.9 111.3,160.5 111.9,157.5 112.4,154.2 113.0,150.5 113.5,146.7 114.1,144.0 114.7,141.2 115.3,136.2 115.8,131.1 116.4,128.2 117.0,125.3 117.5,120.4 118.0,113.7 118.7,110.8 119.3,108.3 119.9,105.2 120.5,102.0 121.1,98.6 121.7,95.3 122.3,91.9 122.9,88.3 123.6,84.9 124.2,82.1 124.9,79.9 125.5,78.8 126.3,79.6 127.0,81.5 127.8,84.3 128.6,87.6 129.3,91.1 130.1,94.5 130.9,98.1 131.7,102.1 132.5,106.6 133.3,111.6 134.1,117.6 134.9,124.2 135.7,130.2 136.5,134.9 137.3,139.3 138.1,144.4 138.9,149.8 139.6,153.7 140.4,156.9 141.1,160.0 141.9,163.2 142.6,166.1 143.4,169.1 144.1,171.7 144.8,173.8 145.5,175.6 146.3,177.3 147.0,178.8 147.7,180.1 148.4,181.3 149.1,182.2 149.8,183.3 150.6,184.5 151.3,185.4 152.0,186.1 152.7,186.6 153.4,187.2 154.1,187.8 154.8,188.4 155.6,188.9 156.3,189.3 157.0,189.7 157.7,189.9 158.4,189.9 159.1,189.8 159.8,190.0 160.5,190.2 161.3,190.2 162.0,190.0 162.7,189.8 163.4,189.7 164.1,189.6 164.9,189.4 165.6,189.2 166.3,189.0 167.0,188.9 167.7,188.8 168.5,188.5 169.2,188.3 169.9,188.1 170.7,187.9 171.4,187.7 172.1,187.6 172.9,187.4 173.6,187.3 174.3,187.0 175.1,186.9 175.8,186.9 176.5,186.9 177.3,186.8 178.0,186.8 178.8,187.0 179.5,187.1 180.3,187.4 181.0,187.5 181.7,187.6 182.5,187.6 183.2,187.9 184.0,188.4 184.7,188.9 185.5,189.3 186.2,189.8 187.0,190.4 187.7,191.4 188.5,192.6 189.2,193.7 190.0,194.8 190.7,195.8 191.5,197.0 192.2,198.2 192.9,199.5 193.7,200.7 194.4,202.0 195.2,203.3 195.9,204.6 196.7,205.9 197.4,207.2 198.2,208.5 198.9,209.9 199.7,211.2 200.4,212.9 201.1,214.6 201.9,216.5 202.6,218.3 203.4,220.2 204.1,222.0 204.8,223.7 205.6,225.2 206.3,226.5 207.1,227.8 207.8,229.3 208.6,230.7 209.3,232.0 210.0,233.2 210.8,234.4 211.5,235.5 212.3,236.6 213.0,237.7 213.8,238.7 214.6,239.7 215.3,240.8 216.1,241.7 216.8,242.5 217.6,243.3 218.3,244.0 219.1,244.9 219.9,245.9 220.6,246.8 221.4,247.8 222.1,248.6 222.9,249.4 223.7,249.9 224.4,250.4 225.2,251.0 226.0,251.7 226.8,252.3 227.5,252.8 228.3,253.2 229.1,253.5 229.9,253.9 230.7,254.3 231.4,254.6 232.2,255.0 233.0,255.6 233.8,256.2 234.6,256.6 234.4,260.4" fill="#ff00ff" stroke="#ff00ff" stroke-width="0.5" stroke-linejoin="round"/>
<polygon points="93.2,216.4 92.3,194.7 92.9,194.2 93.5,193.8 94.1,193.4 94.7,193.0 95.3,192.5 96.0,192.1 96.6,191.7 97.2,191.2 97.8,190.6 98.4,190.0 99.0,189.2 99.6,188.4 100.2,187.6 100.8,186.7 101.4,185.8 102.0,184.8 102.6,183.8 103.2,182.8 103.8,181.8 104.4,180.8 105.1,179.8 105.7,178.7 106.3,177.3 106.9,175.7 107.4,173.2 108.0,170.2 108.6,167.7 109.2,165.5 109.7,163.4 110.3,160.9 110.9,157.9 111.5,154.6 112.0,150.9 112.6,147.1 113.1,144.4 113.7,141.6 114.3,136.5 114.8,131.5 115.4,128.5 116.0,125.6 116.5,120.8 117.0,114.0 117.7,111.2 118.3,108.7 118.9,105.6 119.5,102.3 120.1,99.0 120.7,95.6 121.3,92.3 121.9,88.6 122.6,85.2 123.2,82.4 123.8,80.2 124.5,79.1 125.2,79.9 126.0,81.9 126.8,84.6 127.5,87.9 128.3,91.4 129.1,94.8 129.9,98.4 130.7,102.5 131.5,107.0 132.3,112.0 133.1,118.0 133.9,124.5 134.7,130.6 135.5,135.3 136.3,139.7 137.1,144.8 137.9,150.2 138.7,154.1 139.4,157.3 140.2,160.4 140.9,163.6 141.7,166.5 142.4,169.5 143.1,172.1 143.9,174.3 144.6,176.1 145.3,177.8 146.0,179.2 146.8,180.6 147.5,181.7 148.2,182.7 148.9,183.7 149.6,184.9 150.3,185.8 151.0,186.5 151.8,187.1 152.5,187.7 153.2,188.3 153.9,188.8 154.6,189.4 155.3,189.8 156.0,190.1 156.7,190.4 157.5,190.4 158.2,190.3 158.9,190.4 159.6,190.6 160.3,190.7 161.0,190.4 161.8,190.3 162.5,190.2 163.2,190.1 163.9,189.9 164.6,189.7 165.4,189.5 166.1,189.4 166.8,189.3 167.5,189.0 168.3,188.8 169.0,188.6 169.7,188.4 170.5,188.2 171.2,188.1 171.9,187.9 172.7,187.7 173.4,187.5 174.1,187.4 174.9,187.4 175.6,187.3 176.4,187.3 177.1,187.3 177.8,187.4 178.6,187.6 179.3,187.8 180.1,188.0 180.8,188.0 181.6,188.1 182.3,188.4 183.1,188.9 183.8,189.3 184.6,189.8 185.3,190.3 186.1,190.9 186.8,191.9 187.5,193.1 188.3,194.2 189.0,195.3 189.8,196.3 190.5,197.5 191.3,198.7 192.0,200.0 192.8,201.2 193.5,202.5 194.3,203.8 195.0,205.1 195.8,206.4 196.5,207.7 197.3,209.0 198.0,210.4 198.8,211.8 199.5,213.4 200.2,215.2 201.0,217.0 201.7,218.8 202.5,220.7 203.2,222.5 203.9,224.2 204.7,225.8 205.4,227.1 206.2,228.4 206.9,229.8 207.7,231.3 208.4,232.6 209.2,233.8 209.9,235.0 210.7,236.0 211.4,237.2 212.2,238.3 212.9,239.2 213.7,240.3 214.4,241.4 215.2,242.3 215.9,243.1 216.7,243.8 217.5,244.6 218.2,245.5 219.0,246.4 219.7,247.4 220.5,248.4 221.3,249.2 222.0,250.0 222.8,250.5 223.6,251.0 224.4,251.6 225.1,252.2 225.9,252.9 226.7,253.4 227.5,253.8 228.2,254.1 229.0,254.5 229.8,254.9 230.6,255.2 231.4,255.6 232.1,256.2 232.9,256.8 233.7,257.2 233.6,261.0" fill="#ff00ff" stroke="#ff00ff" stroke-width="0.5" stroke-linejoin="round"/>
<polygon points="83.6,221.2 82.6,199.2 83.2,198.8 83.8,198.3 84.4,197.9 85.0,197.5 85.6,197.1 86.3,196.6 86.9,196.2 87.5,195.7 88.1,195.1 88.7,194.5 89.3,193.7 89.9,192.9 90.5,192.1 91.1,191.2 91.7,190.2 92.3,189.2 92.9,188.2 93.5,187.2 94.1,186.2 94.7,185.2 95.3,184.2 95.9,183.1 96.5,181.7 97.1,180.1 97.7,177.6 98.2,174.5 98.8,171.9 99.4,169.8 99.9,167.6 100.5,165.1 101.1,162.1 101.6,158.7 102.1,155.0 102.7,151.1 103.2,148.4 103.8,145.5 104.3,140.5 104.8,135.4 105.4,132.3 106.0,129.4 106.5,124.5 107.0,117.7 107.6,114.8 108.2,112.2 108.8,109.1 109.4,105.8 110.0,102.4 110.6,99.0 111.2,95.6 111.8,92.0 112.4,88.5 113.0,85.6 113.6,83.4 114.3,82.3 115.0,83.2 115.8,85.5 116.6,88.6 117.4,92.3 118.2,96.2 119.1,101.8 120.0,108.1 120.8,113.4 121.6,117.6 122.4,121.8 123.3,126.5 124.1,132.4 125.0,139.9 125.8,144.7 126.6,148.9 127.4,154.2 128.2,159.1 129.0,162.6 129.8,166.0 130.6,168.9 131.3,172.2 132.1,176.2 132.9,180.0 133.6,182.0 134.4,184.0 135.1,185.5 135.8,187.1 136.6,188.3 137.3,189.2 138.0,190.3 138.7,191.9 139.5,193.0 140.2,193.4 140.9,193.5 141.6,194.1 142.3,194.9 143.0,195.7 143.8,196.1 144.5,196.5 145.2,196.5 145.9,196.6 146.6,196.4 147.3,196.3 148.0,196.4 148.8,197.1 149.5,197.5 150.2,197.2 150.9,197.2 151.7,197.6 152.4,198.0 153.1,197.9 153.8,197.9 154.5,197.9 155.3,198.0 156.0,198.0 156.7,198.6 157.5,198.9 158.2,199.1 158.9,199.5 159.7,199.7 160.4,200.0 161.1,199.8 161.9,200.1 162.6,199.6 163.3,199.4 164.1,199.2 164.8,199.4 165.5,199.7 166.3,200.4 167.0,200.8 167.8,200.5 168.5,200.3 169.3,200.4 170.0,200.5 170.8,201.0 171.5,201.4 172.3,201.4 173.0,201.4 173.8,202.1 174.5,202.9 175.3,203.2 176.0,203.5 176.8,204.3 177.5,205.1 178.3,206.4 179.0,207.2 179.8,207.8 180.5,208.3 181.3,209.7 182.1,211.2 182.8,213.1 183.6,214.5 184.3,215.9 185.1,217.2 185.8,218.8 186.6,220.3 187.3,221.5 188.1,222.8 188.8,224.3 189.6,226.1 190.3,227.8 191.1,229.3 191.9,230.2 192.6,231.3 193.4,232.2 194.1,233.5 194.9,234.8 195.6,236.1 196.4,237.0 197.2,237.9 197.9,239.0 198.7,239.8 199.5,240.8 200.2,241.5 201.0,242.6 201.7,243.3 202.5,244.5 203.3,245.5 204.0,246.5 204.8,247.1 205.6,247.8 206.3,248.7 207.1,249.9 207.9,251.0 208.6,251.6 209.4,252.4 210.2,253.1 211.0,254.0 211.7,254.6 212.5,255.4 213.3,255.8 214.1,256.3 214.8,257.0 215.6,257.7 216.4,258.1 217.2,259.0 218.0,259.7 218.7,260.0 219.6,259.8 220.4,259.8 221.1,260.1 221.9,260.8 222.7,261.7 223.5,262.3 224.3,262.5 225.1,262.7 225.0,267.1" fill="#808000" stroke="#808000" stroke-width="0.5" stroke-linejoin="round"/>
<polygon points="82.6,221.7 81.6,199.7 82.2,199.2 82.8,198.8 83.4,198.4 84.0,197.9 84.7,197.5 85.3,197.1 85.9,196.7 86.5,196.1 87.1,195.6 87.7,194.9 88.3,194.2 88.9,193.4 89.5,192.5 90.1,191.6 90.7,190.7 91.3,189.7 91.9,188.7 92.5,187.7 93.1,186.6 93.7,185.7 94.3,184.6 94.9,183.5 95.5,182.2 96.1,180.5 96.7,178.0 97.2,174.9 97.8,172.4 98.3,170.2 98.9,168.0 99.5,165.5 100.0,162.5 100.6,159.2 101.1,155.4 101.7,151.5 102.2,148.8 102.8,146.0 103.3,140.9 103.8,135.8 104.4,132.7 105.0,129.8 105.5,124.9 106.0,118.1 106.5,115.1 107.2,112.6 107.7,109.5 108.3,106.2 108.9,102.8 109.5,99.4 110.1,96.0 110.7,92.3 111.3,88.8 111.9,86.0 112.6,83.8 113.3,82.6 114.0,83.6 114.8,85.8 115.6,89.0 116.4,92.6 117.2,96.6 118.1,102.2 118.9,108.5 119.8,113.7 120.6,118.0 121.4,122.2 122.2,126.8 123.1,132.8 124.0,140.4 124.8,145.1 125.6,149.3 126.4,154.6 127.2,159.6 128.0,163.1 128.8,166.5 129.6,169.3 130.3,172.7 131.1,176.7 131.9,180.4 132.7,182.5 133.4,184.5 134.1,186.0 134.9,187.6 135.6,188.8 136.3,189.7 137.0,190.8 137.8,192.3 138.5,193.5 139.2,193.8 139.9,194.0 140.6,194.6 141.4,195.4 142.1,196.2 142.8,196.6 143.5,197.0 144.2,197.0 144.9,197.1 145.6,196.8 146.4,196.8 147.1,196.9 147.8,197.6 148.5,198.0 149.2,197.7 150.0,197.7 150.7,198.1 151.4,198.5 152.1,198.4 152.9,198.4 153.6,198.4 154.3,198.5 155.0,198.5 155.8,199.1 156.5,199.4 157.2,199.6 158.0,200.0 158.7,200.2 159.4,200.5 160.2,200.3 160.9,200.6 161.6,200.1 162.4,199.9 163.1,199.7 163.8,199.9 164.6,200.2 165.3,201.0 166.1,201.3 166.8,201.0 167.6,200.8 168.3,200.9 169.1,201.0 169.8,201.5 170.6,201.9 171.3,201.9 172.1,201.9 172.8,202.6 173.6,203.4 174.3,203.7 175.1,204.0 175.8,204.8 176.6,205.6 177.3,206.9 178.1,207.7 178.8,208.4 179.6,208.8 180.4,210.2 181.1,211.7 181.9,213.6 182.6,215.0 183.4,216.4 184.1,217.7 184.9,219.4 185.6,220.8 186.4,222.0 187.2,223.4 187.9,224.8 188.7,226.7 189.4,228.4 190.2,229.8 190.9,230.8 191.7,231.8 192.5,232.8 193.2,234.1 194.0,235.4 194.7,236.6 195.5,237.6 196.3,238.5 197.0,239.6 197.8,240.4 198.5,241.4 199.3,242.1 200.1,243.2 200.8,243.9 201.6,245.1 202.4,246.0 203.1,247.1 203.9,247.7 204.7,248.4 205.4,249.3 206.2,250.5 207.0,251.6 207.7,252.2 208.5,253.0 209.3,253.7 210.1,254.6 210.8,255.2 211.6,256.0 212.4,256.4 213.2,256.9 213.9,257.6 214.7,258.3 215.5,258.7 216.3,259.6 217.1,260.3 217.9,260.6 218.7,260.4 219.5,260.4 220.3,260.7 221.0,261.4 221.8,262.4 222.6,262.9 223.4,263.1 224.2,263.3 224.1,267.7" fill="#808000" stroke="#808000" stroke-width="0.5" stroke-linejoin="round"/>
<polygon points="81.6,222.2 80.6,200.1 81.2,199.7 81.8,199.3 82.4,198.8 83.0,198.4 83.7,198.0 84.3,197.6 84.9,197.1 85.5,196.6 86.1,196.0 86.7,195.4 87.3,194.7 87.9,193.9 88.5,193.0 89.1,192.1 89.7,191.1 90.3,190.2 90.9,189.1 91.5,188.1 92.1,187.1 92.7,186.1 93.3,185.1 93.9,184.0 94.5,182.6 95.1,181.0 95.7,178.5 96.2,175.4 96.8,172.8 97.3,170.6 97.9,168.5 98.5,165.9 99.0,162.9 99.6,159.6 100.1,155.8 100.6,152.0 101.2,149.2 101.8,146.4 102.3,141.3 102.8,136.1 103.4,133.1 103.9,130.2 104.5,125.3 104.9,118.4 105.5,115.5 106.1,113.0 106.7,109.9 107.3,106.5 107.9,103.1 108.5,99.7 109.1,96.3 109.7,92.7 110.3,89.1 110.9,86.3 111.5,84.1 112.2,83.0 112.9,83.9 113.7,86.1 114.5,89.3 115.3,93.0 116.2,96.9 117.0,102.5 117.9,108.9 118.7,114.1 119.6,118.4 120.4,122.6 121.2,127.2 122.1,133.2 123.0,140.8 123.8,145.5 124.6,149.8 125.4,155.0 126.2,160.0 127.0,163.5 127.8,166.9 128.6,169.8 129.3,173.1 130.1,177.2 130.9,180.9 131.7,183.0 132.4,184.9 133.1,186.5 133.9,188.1 134.6,189.2 135.3,190.2 136.0,191.3 136.8,192.8 137.5,194.0 138.2,194.3 138.9,194.4 139.7,195.1 140.4,195.9 141.1,196.7 141.8,197.0 142.5,197.5 143.2,197.5 144.0,197.6 144.7,197.3 145.4,197.3 146.1,197.4 146.8,198.1 147.6,198.5 148.3,198.2 149.0,198.2 149.7,198.6 150.4,199.0 151.2,198.9 151.9,198.9 152.6,198.9 153.3,199.0 154.1,199.0 154.8,199.6 155.5,199.9 156.3,200.1 157.0,200.5 157.7,200.7 158.5,201.0 159.2,200.8 159.9,201.1 160.7,200.6 161.4,200.4 162.1,200.2 162.9,200.4 163.6,200.7 164.4,201.5 165.1,201.8 165.9,201.5 166.6,201.3 167.4,201.4 168.1,201.6 168.8,202.0 169.6,202.5 170.3,202.4 171.1,202.4 171.9,203.1 172.6,203.9 173.4,204.3 174.1,204.5 174.9,205.3 175.6,206.1 176.4,207.4 177.1,208.3 177.9,208.9 178.7,209.3 179.4,210.8 180.2,212.3 180.9,214.2 181.7,215.5 182.4,217.0 183.2,218.3 184.0,219.9 184.7,221.4 185.5,222.5 186.2,223.9 187.0,225.4 187.7,227.2 188.5,228.9 189.2,230.4 190.0,231.3 190.8,232.4 191.5,233.4 192.3,234.7 193.0,236.0 193.8,237.2 194.6,238.1 195.3,239.1 196.1,240.2 196.9,240.9 197.6,241.9 198.4,242.7 199.2,243.8 199.9,244.5 200.7,245.7 201.4,246.6 202.2,247.7 203.0,248.3 203.8,249.0 204.5,249.9 205.3,251.1 206.1,252.2 206.8,252.8 207.6,253.6 208.4,254.3 209.1,255.2 209.9,255.8 210.7,256.6 211.5,257.0 212.3,257.5 213.0,258.2 213.8,258.9 214.6,259.3 215.4,260.2 216.2,260.9 217.0,261.2 217.8,261.1 218.6,261.0 219.4,261.3 220.1,262.0 220.9,263.0 221.7,263.5 222.5,263.8 223.3,263.9 223.2,268.4" fill="#808000" stroke="#808000" stroke-width="0.5" stroke-linejoin="round"/>
<polygon points="80.6,222.7 79.6,200.6 80.2,200.2 80.8,199.7 81.4,199.3 82.0,198.9 82.7,198.5 83.3,198.0 83.9,197.6 84.5,197.1 85.1,196.5 85.7,195.9 86.3,195.1 86.9,194.3 87.5,193.5 88.1,192.6 88.7,191.6 89.3,190.6 89.9,189.6 90.5,188.6 91.1,187.6 91.7,186.6 92.3,185.6 92.9,184.4 93.5,183.1 94.1,181.4 94.7,178.9 95.2,175.8 95.7,173.3 96.3,171.1 96.9,168.9 97.5,166.4 98.0,163.4 98.6,160.0 99.1,156.2 99.6,152.4 100.2,149.6 100.8,146.8 101.2,141.7 101.7,136.5 102.3,133.5 102.9,130.6 103.4,125.7 103.9,118.8 104.5,115.9 105.1,113.3 105.7,110.2 106.2,106.9 106.8,103.5 107.4,100.1 108.0,96.7 108.6,93.0 109.2,89.5 109.8,86.7 110.5,84.4 111.1,83.3 111.9,84.2 112.7,86.5 113.5,89.7 114.3,93.3 115.1,97.3 116.0,102.9 116.9,109.2 117.7,114.5 118.5,118.8 119.4,123.0 120.2,127.6 121.0,133.6 121.9,141.2 122.8,146.0 123.6,150.2 124.4,155.5 125.2,160.4 126.0,164.0 126.8,167.4 127.6,170.2 128.4,173.6 129.1,177.6 129.9,181.4 130.7,183.4 131.4,185.4 132.2,186.9 132.9,188.6 133.6,189.7 134.3,190.6 135.1,191.8 135.8,193.3 136.5,194.5 137.2,194.8 138.0,194.9 138.7,195.6 139.4,196.4 140.1,197.2 140.8,197.5 141.6,198.0 142.3,198.0 143.0,198.1 143.7,197.8 144.4,197.8 145.1,197.9 145.9,198.6 146.6,199.0 147.3,198.7 148.0,198.7 148.7,199.1 149.5,199.5 150.2,199.4 150.9,199.4 151.6,199.4 152.4,199.5 153.1,199.5 153.8,200.1 154.6,200.4 155.3,200.6 156.0,201.0 156.8,201.2 157.5,201.5 158.2,201.3 159.0,201.6 159.7,201.1 160.4,200.9 161.2,200.7 161.9,200.9 162.7,201.2 163.4,202.0 164.2,202.4 164.9,202.1 165.6,201.8 166.4,201.9 167.1,202.1 167.9,202.5 168.6,203.0 169.4,202.9 170.1,202.9 170.9,203.7 171.7,204.4 172.4,204.8 173.2,205.0 173.9,205.8 174.7,206.7 175.4,208.0 176.2,208.8 176.9,209.4 177.7,209.9 178.5,211.3 179.2,212.8 180.0,214.7 180.7,216.1 181.5,217.5 182.3,218.8 183.0,220.5 183.8,221.9 184.5,223.1 185.3,224.5 186.0,225.9 186.8,227.8 187.6,229.5 188.3,231.0 189.1,231.9 189.8,233.0 190.6,233.9 191.4,235.2 192.1,236.5 192.9,237.8 193.6,238.7 194.4,239.6 195.2,240.8 195.9,241.5 196.7,242.5 197.5,243.3 198.2,244.4 199.0,245.1 199.8,246.3 200.5,247.2 201.3,248.3 202.1,248.9 202.8,249.6 203.6,250.5 204.4,251.7 205.1,252.8 205.9,253.4 206.7,254.2 207.5,254.9 208.2,255.8 209.0,256.5 209.8,257.2 210.6,257.6 211.4,258.1 212.1,258.8 212.9,259.5 213.7,260.0 214.5,260.9 215.3,261.6 216.1,261.9 216.9,261.7 217.7,261.7 218.5,262.0 219.2,262.6 220.0,263.6 220.8,264.2 221.6,264.4 222.4,264.6 222.3,269.0" fill="#808000" stroke="#808000" stroke-width="0.5" stroke-linejoin="round"/>
<polygon points="79.7,223.2 78.6,201.1 79.2,200.6 79.8,200.2 80.4,199.8 81.0,199.3 81.6,198.9 82.3,198.5 82.9,198.1 83.5,197.5 84.1,197.0 84.7,196.3 85.3,195.6 85.9,194.8 86.5,193.9 87.1,193.0 87.7,192.1 88.3,191.1 88.9,190.1 89.5,189.0 90.1,188.0 90.7,187.0 91.3,186.0 91.9,184.9 92.5,183.5 93.1,181.9 93.6,179.4 94.2,176.3 94.7,173.7 95.3,171.5 95.9,169.3 96.4,166.8 97.0,163.8 97.5,160.4 98.1,156.6 98.6,152.8 99.2,150.0 99.7,147.2 100.2,142.1 100.7,136.9 101.3,133.9 101.9,131.0 102.4,126.1 102.8,119.2 103.4,116.2 104.0,113.7 104.6,110.6 105.2,107.3 105.8,103.8 106.4,100.4 107.0,97.0 107.6,93.4 108.1,89.8 108.8,87.0 109.4,84.8 110.1,83.6 110.8,84.6 111.6,86.8 112.4,90.0 113.2,93.7 114.1,97.6 114.9,103.3 115.8,109.6 116.7,114.9 117.5,119.2 118.3,123.4 119.2,128.0 120.0,134.0 120.9,141.6 121.7,146.4 122.6,150.6 123.4,155.9 124.2,160.9 125.0,164.4 125.8,167.8 126.6,170.7 127.3,174.0 128.1,178.1 128.9,181.8 129.7,183.9 130.4,185.9 131.2,187.4 131.9,189.1 132.6,190.2 133.4,191.1 134.1,192.3 134.8,193.8 135.5,195.0 136.3,195.3 137.0,195.4 137.7,196.1 138.4,196.9 139.1,197.7 139.9,198.0 140.6,198.5 141.3,198.5 142.0,198.6 142.7,198.3 143.4,198.3 144.1,198.4 144.9,199.1 145.6,199.5 146.3,199.2 147.0,199.2 147.8,199.6 148.5,200.0 149.2,199.9 149.9,199.9 150.7,199.9 151.4,200.0 152.1,200.0 152.9,200.6 153.6,200.9 154.3,201.1 155.1,201.5 155.8,201.7 156.5,202.0 157.3,201.8 158.0,202.1 158.7,201.6 159.5,201.5 160.2,201.2 161.0,201.4 161.7,201.8 162.4,202.5 163.2,202.9 163.9,202.6 164.7,202.3 165.4,202.4 166.2,202.6 166.9,203.1 167.7,203.5 168.4,203.4 169.2,203.4 169.9,204.2 170.7,204.9 171.4,205.3 172.2,205.5 173.0,206.3 173.7,207.2 174.5,208.5 175.2,209.3 176.0,209.9 176.8,210.4 177.5,211.8 178.3,213.3 179.0,215.3 179.8,216.6 180.5,218.1 181.3,219.4 182.1,221.0 182.8,222.5 183.6,223.6 184.3,225.0 185.1,226.5 185.9,228.3 186.6,230.1 187.4,231.5 188.1,232.5 188.9,233.5 189.7,234.5 190.4,235.8 191.2,237.1 191.9,238.4 192.7,239.3 193.5,240.2 194.2,241.3 195.0,242.1 195.8,243.1 196.5,243.9 197.3,245.0 198.1,245.6 198.8,246.9 199.6,247.8 200.4,248.9 201.2,249.5 201.9,250.2 202.7,251.1 203.5,252.3 204.2,253.4 205.0,254.0 205.8,254.8 206.6,255.5 207.3,256.4 208.1,257.1 208.9,257.8 209.7,258.2 210.5,258.7 211.2,259.4 212.0,260.1 212.8,260.6 213.6,261.5 214.4,262.2 215.2,262.5 216.0,262.3 216.8,262.3 217.6,262.6 218.3,263.3 219.1,264.2 219.9,264.8 220.7,265.0 221.5,265.2 221.4,269.6" fill="#808000" stroke="#808000" stroke-width="0.5" stroke-linejoin="round"/>
<polygon points="69.7,228.2 68.5,205.8 69.1,205.3 69.7,204.9 70.4,204.5 71.0,204.0 71.6,203.6 72.2,203.2 72.8,202.7 73.4,202.2 74.0,201.7 74.6,201.0 75.2,200.3 75.8,199.5 76.4,198.6 77.0,197.7 77.6,196.7 78.2,195.7 78.8,194.7 79.4,193.7 80.0,192.6 80.6,191.6 81.2,190.6 81.8,189.4 82.4,188.1 82.9,186.4 83.5,183.9 84.0,180.7 84.5,178.2 85.1,175.9 85.7,173.7 86.2,171.2 86.7,168.1 87.3,164.7 87.8,160.9 88.3,157.0 88.8,154.2 89.4,151.3 89.8,146.1 90.3,141.0 90.9,137.9 91.4,134.9 91.9,129.9 92.3,123.0 92.9,120.0 93.5,117.4 94.1,114.3 94.6,110.9 95.2,107.4 95.8,104.0 96.3,100.5 96.9,96.8 97.5,93.3 98.1,90.4 98.7,88.1 99.4,87.0 100.2,88.0 101.0,90.5 101.8,93.8 102.6,97.4 103.5,101.1 104.3,105.3 105.2,110.2 106.1,115.8 107.1,122.8 108.0,129.9 108.9,136.1 109.8,141.8 110.7,146.9 111.5,151.4 112.4,155.4 113.2,159.5 114.0,163.9 114.9,167.6 115.7,171.0 116.5,175.2 117.3,179.6 118.1,182.6 118.9,184.9 119.6,186.2 120.4,187.5 121.1,188.6 121.9,190.5 122.6,192.7 123.4,193.9 124.1,193.8 124.8,194.2 125.5,195.2 126.2,195.4 127.0,195.6 127.7,195.6 128.4,196.1 129.1,196.7 129.9,197.1 130.6,196.8 131.3,197.0 132.0,197.4 132.8,198.1 133.5,197.7 134.2,197.9 134.9,197.6 135.7,198.3 136.4,198.0 137.1,197.8 137.8,198.0 138.6,198.1 139.3,198.4 140.0,198.6 140.8,199.1 141.5,199.3 142.2,199.5 143.0,199.2 143.7,198.9 144.4,198.4 145.2,198.5 145.9,199.0 146.7,200.2 147.4,200.8 148.2,200.4 148.9,199.7 149.7,199.9 150.4,199.8 151.2,200.3 151.9,200.9 152.7,201.3 153.4,200.0 154.1,199.4 154.9,200.2 155.7,201.1 156.4,201.1 157.2,200.7 157.9,201.2 158.7,202.1 159.5,202.7 160.2,202.7 161.0,202.5 161.7,202.8 162.5,204.4 163.3,206.8 164.1,208.9 164.8,210.0 165.6,210.9 166.4,211.8 167.2,212.8 167.9,213.8 168.7,215.0 169.5,216.9 170.2,219.2 171.0,220.8 171.8,222.1 172.6,223.5 173.3,224.6 174.1,225.5 174.9,226.7 175.7,229.1 176.4,231.4 177.2,233.3 178.0,233.8 178.7,235.1 179.5,236.5 180.3,237.8 181.1,238.1 181.8,239.4 182.6,240.6 183.4,241.9 184.2,242.9 184.9,243.5 185.7,244.3 186.5,246.1 187.3,247.4 188.0,247.6 188.8,247.7 189.6,248.4 190.4,249.9 191.2,251.8 191.9,252.9 192.7,253.3 193.5,254.2 194.3,255.3 195.1,256.0 195.9,256.1 196.6,257.2 197.4,258.2 198.2,259.5 199.0,260.3 199.8,261.2 200.6,261.0 201.4,260.3 202.2,260.7 203.0,262.1 203.8,263.5 204.5,264.6 205.3,265.5 206.1,266.6 206.9,266.4 207.7,266.3 208.5,266.3 209.3,267.7 210.1,268.2 210.9,268.5 211.7,268.7 212.5,269.7 212.4,276.0" fill="#000080" stroke="#000080" stroke-width="0.5" stroke-linejoin="round"/>
<polygon points="68.7,228.7 67.5,206.3 68.1,205.8 68.7,205.4 69.3,205.0 69.9,204.5 70.5,204.1 71.1,203.7 71.8,203.2 72.4,202.7 73.0,202.1 73.6,201.5 74.2,200.7 74.8,199.9 75.4,199.1 76.0,198.2 76.6,197.2 77.1,196.2 77.7,195.2 78.3,194.1 78.9,193.1 79.5,192.1 80.1,191.1 80.7,189.9 81.3,188.6 81.9,186.9 82.4,184.3 82.9,181.2 83.5,178.6 84.1,176.4 84.6,174.2 85.2,171.6 85.7,168.6 86.2,165.2 86.7,161.3 87.2,157.4 87.8,154.6 88.3,151.7 88.8,146.6 89.2,141.4 89.8,138.3 90.4,135.3 90.8,130.3 91.3,123.4 91.8,120.4 92.4,117.8 93.0,114.7 93.6,111.3 94.1,107.8 94.7,104.4 95.3,100.9 95.8,97.2 96.4,93.6 97.0,90.7 97.6,88.5 98.3,87.3 99.1,88.4 99.9,90.8 100.7,94.2 101.5,97.8 102.4,101.4 103.2,105.7 104.1,110.6 105.0,116.2 106.0,123.2 106.9,130.3 107.9,136.5 108.7,142.3 109.6,147.3 110.5,151.8 111.3,155.8 112.1,159.9 113.0,164.4 113.8,168.1 114.6,171.4 115.4,175.6 116.3,180.1 117.1,183.1 117.9,185.4 118.6,186.7 119.3,188.0 120.1,189.0 120.8,191.0 121.6,193.2 122.3,194.4 123.1,194.3 123.8,194.7 124.5,195.7 125.2,195.9 125.9,196.1 126.7,196.1 127.4,196.7 128.1,197.2 128.8,197.6 129.6,197.3 130.3,197.5 131.0,197.9 131.7,198.6 132.5,198.2 133.2,198.5 133.9,198.1 134.6,198.8 135.4,198.5 136.1,198.3 136.8,198.5 137.5,198.6 138.3,198.9 139.0,199.1 139.8,199.6 140.5,199.9 141.2,200.1 142.0,199.7 142.7,199.4 143.4,198.9 144.2,199.1 144.9,199.5 145.7,200.8 146.4,201.3 147.2,200.9 147.9,200.2 148.6,200.4 149.4,200.4 150.1,200.8 150.9,201.4 151.7,201.8 152.4,200.5 153.1,199.9 153.9,200.7 154.7,201.6 155.4,201.6 156.2,201.2 156.9,201.8 157.7,202.7 158.5,203.3 159.2,203.2 160.0,203.0 160.7,203.3 161.5,204.9 162.3,207.3 163.1,209.4 163.9,210.6 164.6,211.5 165.4,212.4 166.2,213.4 166.9,214.3 167.7,215.6 168.5,217.4 169.3,219.7 170.0,221.3 170.8,222.6 171.6,224.1 172.4,225.1 173.1,226.0 173.9,227.3 174.7,229.6 175.5,232.0 176.2,233.9 177.0,234.4 177.8,235.7 178.5,237.1 179.3,238.4 180.1,238.7 180.9,240.0 181.6,241.2 182.4,242.5 183.2,243.5 184.0,244.1 184.8,244.9 185.5,246.7 186.3,248.0 187.1,248.2 187.9,248.3 188.7,249.0 189.4,250.5 190.2,252.4 191.0,253.5 191.8,253.9 192.6,254.8 193.3,255.9 194.1,256.6 194.9,256.7 195.7,257.8 196.5,258.8 197.3,260.2 198.1,261.0 198.8,261.8 199.6,261.6 200.5,260.9 201.2,261.3 202.0,262.7 202.8,264.1 203.6,265.3 204.4,266.1 205.2,267.2 206.0,267.0 206.8,267.0 207.6,266.9 208.4,268.3 209.2,268.9 210.0,269.1 210.8,269.4 211.6,270.3 211.5,276.6" fill="#000080" stroke="#000080" stroke-width="0.5" stroke-linejoin="round"/>
<polygon points="67.7,229.2 66.5,206.7 67.1,206.3 67.7,205.9 68.3,205.4 68.9,205.0 69.5,204.6 70.1,204.2 70.7,203.7 71.3,203.2 71.9,202.6 72.5,202.0 73.1,201.2 73.7,200.4 74.3,199.6 74.9,198.6 75.5,197.7 76.1,196.7 76.7,195.6 77.3,194.6 77.9,193.6 78.5,192.6 79.1,191.5 79.7,190.4 80.3,189.0 80.9,187.4 81.4,184.8 81.9,181.7 82.4,179.1 83.0,176.9 83.6,174.6 84.1,172.1 84.6,169.0 85.2,165.6 85.7,161.8 86.2,157.9 86.7,155.0 87.3,152.2 87.7,147.0 88.2,141.8 88.7,138.7 89.3,135.7 89.8,130.7 90.2,123.7 90.7,120.8 91.3,118.2 91.9,115.0 92.5,111.7 93.0,108.2 93.6,104.7 94.2,101.3 94.7,97.5 95.3,94.0 95.9,91.1 96.5,88.8 97.2,87.7 98.0,88.7 98.8,91.2 99.6,94.5 100.4,98.2 101.3,101.8 102.2,106.0 103.0,111.0 104.0,116.6 104.9,123.6 105.9,130.7 106.8,136.9 107.7,142.7 108.6,147.8 109.4,152.2 110.3,156.3 111.1,160.4 111.9,164.8 112.8,168.5 113.6,171.9 114.4,176.1 115.2,180.6 116.0,183.6 116.8,185.9 117.6,187.2 118.3,188.4 119.0,189.5 119.8,191.5 120.6,193.7 121.3,194.9 122.0,194.8 122.7,195.2 123.5,196.2 124.2,196.4 124.9,196.6 125.6,196.6 126.4,197.2 127.1,197.7 127.8,198.1 128.5,197.8 129.3,198.0 130.0,198.4 130.7,199.1 131.4,198.7 132.2,199.0 132.9,198.6 133.6,199.3 134.3,199.0 135.1,198.8 135.8,199.0 136.5,199.2 137.3,199.5 138.0,199.6 138.7,200.1 139.5,200.4 140.2,200.6 141.0,200.3 141.7,199.9 142.4,199.5 143.2,199.6 143.9,200.0 144.7,201.3 145.4,201.8 146.2,201.4 146.9,200.8 147.6,200.9 148.4,200.9 149.1,201.4 149.9,201.9 150.6,202.3 151.4,201.0 152.1,200.4 152.9,201.2 153.7,202.1 154.4,202.1 155.2,201.7 155.9,202.3 156.7,203.2 157.5,203.8 158.2,203.7 159.0,203.6 159.7,203.8 160.5,205.4 161.3,207.9 162.1,210.0 162.9,211.1 163.6,212.0 164.4,212.9 165.2,213.9 165.9,214.9 166.7,216.1 167.5,218.0 168.3,220.3 169.1,221.9 169.8,223.2 170.6,224.7 171.4,225.7 172.1,226.6 172.9,227.9 173.7,230.2 174.5,232.6 175.2,234.4 176.0,235.0 176.8,236.3 177.6,237.6 178.4,239.0 179.1,239.3 179.9,240.6 180.7,241.8 181.5,243.1 182.2,244.1 183.0,244.7 183.8,245.5 184.6,247.3 185.3,248.6 186.1,248.8 186.9,248.9 187.7,249.6 188.5,251.1 189.3,253.0 190.0,254.1 190.8,254.5 191.6,255.4 192.4,256.5 193.2,257.2 194.0,257.3 194.8,258.4 195.5,259.4 196.3,260.8 197.1,261.6 197.9,262.5 198.7,262.3 199.5,261.5 200.3,261.9 201.1,263.3 201.9,264.8 202.7,265.9 203.5,266.7 204.2,267.9 205.1,267.6 205.9,267.6 206.7,267.5 207.5,269.0 208.3,269.5 209.1,269.8 209.9,270.0 210.7,271.0 210.6,277.3" fill="#000080" stroke="#000080" stroke-width="0.5" stroke-linejoin="round"/>
<polygon points="66.7,229.8 65.4,207.2 66.0,206.8 66.6,206.4 67.2,205.9 67.8,205.5 68.5,205.1 69.1,204.7 69.7,204.2 70.3,203.7 70.9,203.1 71.5,202.5 72.1,201.7 72.7,200.9 73.3,200.0 73.9,199.1 74.5,198.1 75.1,197.1 75.7,196.1 76.3,195.1 76.8,194.0 77.4,193.1 78.0,192.0 78.6,190.9 79.2,189.5 79.8,187.8 80.3,185.3 80.8,182.1 81.4,179.5 81.9,177.3 82.5,175.1 83.0,172.5 83.6,169.5 84.1,166.1 84.6,162.2 85.1,158.3 85.6,155.5 86.2,152.6 86.6,147.4 87.1,142.2 87.6,139.1 88.2,136.1 88.7,131.1 89.1,124.1 89.6,121.2 90.2,118.6 90.8,115.4 91.4,112.0 91.9,108.6 92.5,105.1 93.1,101.6 93.6,97.9 94.2,94.3 94.8,91.4 95.4,89.2 96.1,88.0 96.9,89.1 97.7,91.5 98.5,94.9 99.3,98.5 100.2,102.2 101.1,106.4 102.0,111.4 102.9,117.0 103.8,124.0 104.8,131.1 105.7,137.4 106.6,143.1 107.5,148.2 108.4,152.7 109.2,156.7 110.0,160.8 110.9,165.3 111.7,169.0 112.5,172.4 113.4,176.6 114.2,181.0 115.0,184.0 115.8,186.4 116.5,187.6 117.3,188.9 118.0,190.0 118.8,192.0 119.5,194.2 120.3,195.4 121.0,195.3 121.7,195.7 122.5,196.7 123.2,196.9 123.9,197.1 124.6,197.2 125.3,197.7 126.1,198.2 126.8,198.6 127.5,198.3 128.2,198.5 129.0,198.9 129.7,199.6 130.4,199.2 131.1,199.5 131.9,199.1 132.6,199.8 133.3,199.6 134.0,199.3 134.8,199.5 135.5,199.7 136.3,200.0 137.0,200.1 137.7,200.6 138.5,200.9 139.2,201.1 139.9,200.8 140.7,200.4 141.4,200.0 142.1,200.1 142.9,200.5 143.7,201.8 144.4,202.4 145.1,201.9 145.9,201.3 146.6,201.5 147.4,201.4 148.1,201.9 148.9,202.4 149.6,202.8 150.4,201.5 151.1,201.0 151.9,201.8 152.7,202.7 153.4,202.7 154.2,202.3 154.9,202.8 155.7,203.7 156.5,204.3 157.2,204.3 158.0,204.1 158.7,204.4 159.5,206.0 160.3,208.4 161.1,210.5 161.9,211.7 162.6,212.5 163.4,213.5 164.2,214.5 165.0,215.4 165.7,216.7 166.5,218.5 167.3,220.8 168.1,222.5 168.8,223.7 169.6,225.2 170.4,226.2 171.2,227.2 171.9,228.4 172.7,230.8 173.5,233.1 174.3,235.0 175.0,235.6 175.8,236.9 176.6,238.2 177.4,239.5 178.2,239.9 178.9,241.2 179.7,242.4 180.5,243.7 181.3,244.7 182.0,245.3 182.8,246.1 183.6,247.9 184.4,249.2 185.2,249.4 186.0,249.5 186.7,250.2 187.5,251.7 188.3,253.6 189.1,254.8 189.9,255.1 190.6,256.0 191.4,257.1 192.2,257.9 193.0,258.0 193.8,259.1 194.6,260.0 195.4,261.4 196.2,262.2 196.9,263.1 197.7,262.9 198.6,262.2 199.4,262.6 200.1,264.0 200.9,265.4 201.7,266.6 202.5,267.4 203.3,268.5 204.1,268.3 204.9,268.3 205.7,268.2 206.5,269.6 207.3,270.2 208.1,270.4 208.9,270.7 209.7,271.6 209.6,278.0" fill="#000080" stroke="#000080" stroke-width="0.5" stroke-linejoin="round"/>
<polygon points="65.6,230.3 64.4,207.7 65.0,207.3 65.6,206.9 66.2,206.4 66.8,206.0 67.4,205.6 68.0,205.1 68.6,204.7 69.2,204.2 69.8,203.6 70.4,202.9 71.0,202.2 71.6,201.4 72.2,200.5 72.8,199.6 73.4,198.6 74.0,197.6 74.6,196.6 75.2,195.6 75.8,194.5 76.4,193.5 77.0,192.5 77.6,191.3 78.2,190.0 78.8,188.3 79.3,185.7 79.8,182.6 80.3,180.0 80.9,177.8 81.4,175.5 82.0,173.0 82.5,169.9 83.0,166.5 83.5,162.6 84.0,158.7 84.6,155.9 85.1,153.0 85.6,147.8 86.0,142.6 86.6,139.5 87.1,136.5 87.6,131.5 88.0,124.5 88.6,121.6 89.1,119.0 89.7,115.8 90.3,112.4 90.8,108.9 91.4,105.5 92.0,102.0 92.5,98.3 93.1,94.7 93.7,91.8 94.3,89.5 95.0,88.4 95.7,89.4 96.6,91.9 97.4,95.2 98.2,98.9 99.1,102.5 100.0,106.8 100.9,111.8 101.8,117.4 102.7,124.4 103.7,131.5 104.6,137.8 105.5,143.5 106.4,148.6 107.3,153.1 108.1,157.2 109.0,161.3 109.8,165.8 110.7,169.5 111.5,172.8 112.3,177.0 113.2,181.5 114.0,184.5 114.7,186.9 115.5,188.1 116.2,189.4 117.0,190.5 117.7,192.5 118.5,194.7 119.3,195.9 120.0,195.8 120.7,196.2 121.4,197.2 122.1,197.4 122.9,197.6 123.6,197.7 124.3,198.2 125.0,198.7 125.8,199.1 126.5,198.8 127.2,199.0 127.9,199.4 128.7,200.1 129.4,199.7 130.1,200.0 130.8,199.6 131.6,200.3 132.3,200.1 133.0,199.9 133.8,200.0 134.5,200.2 135.2,200.5 136.0,200.7 136.7,201.1 137.4,201.4 138.2,201.6 138.9,201.3 139.7,200.9 140.4,200.5 141.1,200.6 141.9,201.1 142.6,202.3 143.4,202.9 144.1,202.4 144.9,201.8 145.6,202.0 146.4,201.9 147.1,202.4 147.9,203.0 148.6,203.3 149.4,202.1 150.1,201.5 150.9,202.3 151.6,203.2 152.4,203.2 153.1,202.8 153.9,203.3 154.7,204.3 155.4,204.9 156.2,204.8 157.0,204.6 157.7,204.9 158.5,206.5 159.3,208.9 160.1,211.1 160.9,212.2 161.6,213.1 162.4,214.0 163.2,215.0 164.0,216.0 164.7,217.2 165.5,219.1 166.3,221.4 167.1,223.0 167.8,224.3 168.6,225.8 169.4,226.8 170.2,227.7 171.0,229.0 171.7,231.3 172.5,233.7 173.3,235.6 174.1,236.2 174.8,237.5 175.6,238.8 176.4,240.1 177.2,240.4 178.0,241.8 178.7,242.9 179.5,244.3 180.3,245.3 181.1,245.9 181.9,246.7 182.6,248.5 183.4,249.8 184.2,250.0 185.0,250.1 185.8,250.8 186.6,252.4 187.3,254.3 188.1,255.4 188.9,255.8 189.7,256.6 190.5,257.7 191.3,258.5 192.1,258.6 192.8,259.7 193.6,260.7 194.4,262.1 195.2,262.8 196.0,263.7 196.8,263.5 197.6,262.8 198.4,263.2 199.2,264.6 200.0,266.0 200.8,267.2 201.6,268.0 202.4,269.2 203.2,268.9 204.0,268.9 204.8,268.8 205.6,270.3 206.4,270.8 207.2,271.1 208.0,271.3 208.8,272.3 208.7,278.6" fill="#000080" stroke="#000080" stroke-width="0.5" stroke-linejoin="round"/>
<polygon points="55.3,235.5 53.9,212.6 54.5,212.2 55.1,211.8 55.7,211.3 56.3,210.9 56.9,210.5 57.5,210.0 58.1,209.6 58.7,209.1 59.3,208.5 59.9,207.8 60.5,207.1 61.1,206.3 61.7,205.4 62.3,204.4 62.9,203.5 63.5,202.5 64.1,201.4 64.7,200.4 65.3,199.3 65.8,198.3 66.4,197.3 67.0,196.1 67.6,194.7 68.2,193.0 68.7,190.4 69.2,187.2 69.7,184.6 70.2,182.4 70.8,180.1 71.3,177.5 71.8,174.4 72.3,171.0 72.8,167.1 73.3,163.1 73.8,160.2 74.3,157.3 74.7,152.1 75.2,146.8 75.7,143.7 76.2,140.7 76.7,135.6 77.0,128.5 77.6,125.5 78.1,122.9 78.7,119.7 79.2,116.2 79.8,112.7 80.3,109.2 80.9,105.7 81.4,101.9 81.9,98.3 82.5,95.4 83.1,93.1 83.8,91.9 84.6,92.7 85.4,94.3 86.2,97.2 87.1,101.0 88.0,104.9 88.9,108.6 89.7,112.3 90.6,116.8 91.6,123.3 92.7,131.0 93.6,136.0 94.5,140.1 95.3,142.5 96.1,145.3 96.9,146.9 97.8,152.0 98.7,157.9 99.7,164.7 100.5,167.2 101.4,172.3 102.2,174.9 103.1,178.6 103.9,181.7 104.8,186.7 105.5,187.1 106.2,185.4 106.9,185.2 107.6,185.3 108.4,186.3 109.2,187.9 110.0,192.5 110.8,194.1 111.5,193.1 112.2,191.6 113.0,194.6 113.8,197.6 114.4,195.0 115.1,192.4 115.8,192.3 116.6,194.9 117.3,193.6 118.0,193.0 118.8,193.6 119.6,196.2 120.3,196.0 121.0,193.6 121.6,191.8 122.4,191.1 123.1,191.2 123.8,190.6 124.6,190.7 125.3,190.3 126.0,189.2 126.7,188.4 127.5,189.3 128.3,190.6 129.0,191.0 129.8,190.0 130.5,189.9 131.3,189.6 132.1,191.8 132.8,192.5 133.5,191.1 134.3,190.9 135.1,190.8 135.8,191.1 136.6,190.6 137.4,194.7 138.2,194.7 138.9,194.4 139.7,193.3 140.4,193.2 141.2,192.5 142.0,193.5 142.8,196.0 143.5,196.4 144.3,195.6 145.1,194.3 145.8,194.3 146.6,195.8 147.4,196.8 148.2,198.3 149.0,196.5 149.7,196.0 150.5,198.6 151.4,203.3 152.1,202.1 152.9,201.2 153.7,202.6 154.5,205.4 155.3,207.8 156.1,209.5 156.9,209.3 157.7,210.4 158.5,212.8 159.3,216.3 160.1,218.6 160.9,221.0 161.7,220.8 162.5,222.1 163.3,223.7 164.1,227.2 164.9,230.6 165.7,234.8 166.5,234.5 167.3,233.8 168.1,233.4 168.9,237.2 169.7,240.0 170.5,241.0 171.3,242.4 172.1,245.5 172.9,246.1 173.7,244.1 174.5,244.0 175.3,245.3 176.1,246.7 176.9,247.9 177.7,249.8 178.5,252.2 179.3,254.0 180.1,255.1 180.9,252.5 181.7,251.9 182.5,253.2 183.3,257.1 184.1,258.5 184.9,259.7 185.7,259.8 186.5,260.3 187.3,260.3 188.1,262.3 188.9,263.3 189.7,263.8 190.5,265.0 191.3,266.9 192.1,268.0 192.9,268.0 193.7,269.9 194.5,273.2 195.3,273.0 196.1,273.3 197.0,274.3 197.8,275.9 198.6,277.1 199.4,277.6 199.3,285.3" fill="#800000" stroke="#800000" stroke-width="0.5" stroke-linejoin="round"/>
<polygon points="54.2,236.0 52.8,213.1 53.4,212.7 54.0,212.3 54.6,211.8 55.2,211.4 55.8,211.0 56.4,210.5 57.1,210.1 57.7,209.6 58.3,209.0 58.9,208.3 59.5,207.6 60.0,206.8 60.6,205.9 61.2,204.9 61.8,204.0 62.4,202.9 63.0,201.9 63.6,200.9 64.2,199.8 64.8,198.8 65.4,197.8 65.9,196.6 66.5,195.2 67.1,193.5 67.6,190.9 68.1,187.7 68.6,185.1 69.1,182.9 69.7,180.6 70.2,178.0 70.7,174.9 71.2,171.4 71.7,167.5 72.2,163.6 72.7,160.7 73.2,157.8 73.6,152.5 74.0,147.2 74.6,144.1 75.1,141.1 75.5,136.0 75.9,128.9 76.4,125.9 77.0,123.3 77.6,120.0 78.1,116.6 78.6,113.1 79.2,109.6 79.7,106.1 80.3,102.3 80.8,98.6 81.4,95.7 82.0,93.4 82.7,92.3 83.4,93.1 84.2,94.7 85.1,97.6 85.9,101.4 86.8,105.3 87.7,108.9 88.6,112.6 89.5,117.2 90.5,123.7 91.5,131.4 92.5,136.5 93.4,140.5 94.2,142.9 95.0,145.7 95.8,147.3 96.7,152.4 97.6,158.3 98.6,165.1 99.4,167.6 100.3,172.8 101.2,175.4 102.0,179.1 102.8,182.2 103.7,187.2 104.5,187.6 105.1,185.9 105.8,185.7 106.5,185.8 107.3,186.8 108.1,188.4 109.0,193.0 109.7,194.6 110.4,193.7 111.1,192.1 111.9,195.1 112.7,198.1 113.4,195.5 114.0,192.9 114.7,192.8 115.5,195.4 116.2,194.1 116.9,193.5 117.7,194.2 118.5,196.7 119.2,196.5 119.9,194.1 120.6,192.4 121.3,191.6 122.0,191.8 122.8,191.1 123.5,191.2 124.2,190.8 124.9,189.7 125.7,188.9 126.4,189.8 127.2,191.1 128.0,191.5 128.7,190.5 129.4,190.4 130.2,190.1 131.0,192.3 131.8,193.0 132.5,191.6 133.2,191.4 134.0,191.3 134.8,191.7 135.5,191.2 136.4,195.3 137.1,195.2 137.9,194.9 138.6,193.8 139.4,193.8 140.1,193.0 140.9,194.1 141.7,196.6 142.5,197.0 143.2,196.1 144.0,194.8 144.8,194.9 145.6,196.3 146.4,197.3 147.2,198.8 147.9,197.0 148.7,196.5 149.5,199.1 150.3,203.8 151.1,202.6 151.9,201.8 152.7,203.1 153.5,205.9 154.3,208.3 155.1,210.1 155.9,209.8 156.7,211.0 157.5,213.3 158.3,216.9 159.1,219.2 159.9,221.6 160.7,221.4 161.5,222.6 162.3,224.2 163.1,227.8 163.9,231.2 164.7,235.4 165.5,235.1 166.3,234.4 167.1,234.0 167.9,237.8 168.7,240.6 169.5,241.6 170.3,243.1 171.1,246.1 171.9,246.7 172.7,244.7 173.5,244.6 174.3,245.9 175.1,247.3 175.9,248.5 176.7,250.4 177.5,252.9 178.3,254.6 179.1,255.7 179.9,253.2 180.7,252.6 181.5,253.8 182.3,257.7 183.1,259.2 183.9,260.3 184.7,260.5 185.5,261.0 186.3,260.9 187.1,262.9 187.9,264.0 188.7,264.5 189.5,265.7 190.3,267.6 191.1,268.7 191.9,268.7 192.7,270.5 193.5,273.9 194.4,273.6 195.2,273.9 196.0,274.9 196.8,276.6 197.6,277.8 198.4,278.3 198.3,286.0" fill="#800000" stroke="#800000" stroke-width="0.5" stroke-linejoin="round"/>
<polygon points="53.2,236.5 51.7,213.6 52.3,213.2 52.9,212.8 53.5,212.3 54.1,211.9 54.8,211.5 55.4,211.0 56.0,210.6 56.6,210.1 57.2,209.5 57.8,208.8 58.4,208.1 59.0,207.3 59.6,206.4 60.1,205.4 60.7,204.5 61.3,203.4 61.9,202.4 62.5,201.4 63.1,200.3 63.7,199.3 64.3,198.3 64.9,197.1 65.4,195.7 66.0,194.0 66.5,191.4 67.0,188.2 67.5,185.6 68.1,183.3 68.6,181.1 69.1,178.5 69.6,175.4 70.1,171.9 70.6,168.0 71.0,164.0 71.6,161.1 72.1,158.2 72.5,152.9 72.9,147.7 73.4,144.5 74.0,141.5 74.4,136.4 74.8,129.3 75.3,126.3 75.9,123.7 76.4,120.4 77.0,117.0 77.5,113.5 78.0,110.0 78.6,106.4 79.1,102.7 79.6,99.0 80.2,96.1 80.8,93.8 81.5,92.6 82.3,93.5 83.1,95.1 83.9,98.0 84.8,101.8 85.7,105.7 86.6,109.3 87.5,113.0 88.4,117.6 89.4,124.1 90.4,131.9 91.3,136.9 92.2,141.0 93.1,143.4 93.9,146.1 94.7,147.8 95.6,152.9 96.5,158.8 97.5,165.6 98.3,168.1 99.3,173.3 100.1,175.9 100.9,179.5 101.8,182.7 102.7,187.7 103.4,188.1 104.0,186.3 104.7,186.2 105.5,186.3 106.2,187.3 107.0,188.9 107.9,193.5 108.7,195.2 109.3,194.2 110.0,192.6 110.8,195.7 111.7,198.6 112.3,196.0 112.9,193.4 113.7,193.3 114.5,195.9 115.2,194.6 115.9,194.1 116.6,194.7 117.4,197.2 118.2,197.1 118.8,194.7 119.5,192.9 120.2,192.2 121.0,192.3 121.7,191.6 122.4,191.7 123.2,191.3 123.9,190.2 124.6,189.5 125.4,190.3 126.1,191.7 126.9,192.0 127.6,191.0 128.4,190.9 129.1,190.6 129.9,192.8 130.7,193.5 131.4,192.2 132.2,191.9 132.9,191.9 133.7,192.2 134.4,191.7 135.3,195.8 136.0,195.7 136.8,195.4 137.5,194.4 138.3,194.3 139.1,193.6 139.8,194.6 140.7,197.1 141.4,197.5 142.2,196.6 142.9,195.3 143.7,195.4 144.5,196.9 145.3,197.9 146.1,199.3 146.9,197.5 147.6,197.0 148.4,199.6 149.3,204.4 150.0,203.2 150.8,202.3 151.6,203.7 152.4,206.5 153.2,208.9 154.0,210.6 154.8,210.4 155.6,211.5 156.4,213.9 157.3,217.4 158.1,219.7 158.9,222.2 159.7,222.0 160.5,223.2 161.3,224.8 162.1,228.4 162.9,231.8 163.7,236.0 164.5,235.7 165.3,235.0 166.1,234.6 166.9,238.4 167.7,241.2 168.5,242.2 169.3,243.7 170.1,246.7 170.9,247.3 171.7,245.3 172.5,245.2 173.3,246.5 174.1,247.9 174.9,249.2 175.7,251.0 176.5,253.5 177.3,255.2 178.1,256.3 178.9,253.8 179.7,253.2 180.5,254.5 181.3,258.4 182.1,259.8 182.9,261.0 183.7,261.1 184.5,261.6 185.3,261.6 186.1,263.6 186.9,264.6 187.7,265.1 188.5,266.3 189.3,268.2 190.1,269.4 191.0,269.3 191.8,271.2 192.5,274.5 193.4,274.3 194.2,274.6 195.0,275.6 195.8,277.2 196.6,278.5 197.4,278.9 197.3,286.7" fill="#800000" stroke="#800000" stroke-width="0.5" stroke-linejoin="round"/>
<polygon points="52.1,237.1 50.7,214.1 51.3,213.7 51.9,213.3 52.5,212.8 53.1,212.4 53.7,212.0 54.3,211.5 54.9,211.1 55.5,210.6 56.1,210.0 56.7,209.3 57.3,208.6 57.9,207.8 58.5,206.9 59.1,205.9 59.6,205.0 60.2,203.9 60.8,202.9 61.4,201.8 62.0,200.8 62.6,199.8 63.2,198.7 63.8,197.6 64.3,196.2 64.9,194.5 65.4,191.9 65.9,188.7 66.4,186.1 67.0,183.8 67.5,181.5 68.0,178.9 68.5,175.8 69.0,172.4 69.5,168.4 69.9,164.5 70.5,161.6 71.0,158.7 71.4,153.4 71.8,148.1 72.3,145.0 72.9,141.9 73.3,136.8 73.6,129.7 74.2,126.7 74.7,124.1 75.3,120.8 75.8,117.4 76.3,113.9 76.9,110.3 77.4,106.8 78.0,103.0 78.5,99.4 79.1,96.5 79.7,94.2 80.3,93.0 81.1,93.8 81.9,95.4 82.8,98.3 83.6,102.1 84.5,106.0 85.4,109.7 86.3,113.4 87.2,118.0 88.2,124.5 89.3,132.3 90.2,137.3 91.1,141.4 91.9,143.8 92.8,146.6 93.5,148.2 94.5,153.3 95.4,159.3 96.4,166.1 97.2,168.6 98.2,173.7 99.0,176.3 99.8,180.0 100.7,183.2 101.6,188.2 102.3,188.6 103.0,186.8 103.7,186.7 104.4,186.8 105.1,187.8 105.9,189.4 106.8,194.0 107.6,195.7 108.3,194.7 108.9,193.1 109.8,196.2 110.6,199.1 111.2,196.5 111.9,193.9 112.6,193.8 113.4,196.4 114.1,195.1 114.8,194.6 115.5,195.2 116.4,197.8 117.1,197.6 117.7,195.2 118.4,193.4 119.1,192.7 119.9,192.8 120.6,192.1 121.4,192.2 122.1,191.8 122.8,190.7 123.5,190.0 124.3,190.8 125.1,192.2 125.8,192.6 126.6,191.6 127.3,191.4 128.1,191.1 128.9,193.4 129.6,194.1 130.4,192.7 131.1,192.5 131.9,192.4 132.6,192.7 133.4,192.2 134.2,196.3 135.0,196.3 135.7,195.9 136.5,194.9 137.2,194.8 138.0,194.1 138.8,195.1 139.6,197.6 140.4,198.0 141.1,197.2 141.9,195.9 142.7,195.9 143.5,197.4 144.2,198.4 145.0,199.9 145.8,198.1 146.6,197.6 147.4,200.2 148.2,204.9 149.0,203.7 149.8,202.9 150.6,204.2 151.4,207.0 152.2,209.4 153.0,211.2 153.8,211.0 154.6,212.1 155.4,214.5 156.2,218.0 157.0,220.3 157.8,222.7 158.6,222.6 159.4,223.8 160.2,225.4 161.0,229.0 161.9,232.4 162.7,236.6 163.5,236.3 164.3,235.6 165.0,235.2 165.9,239.0 166.7,241.8 167.5,242.8 168.3,244.3 169.1,247.3 169.9,248.0 170.7,245.9 171.4,245.8 172.2,247.2 173.1,248.5 173.9,249.8 174.7,251.6 175.5,254.1 176.3,255.9 177.1,257.0 177.9,254.4 178.7,253.8 179.5,255.1 180.3,259.0 181.1,260.4 181.9,261.6 182.7,261.7 183.5,262.3 184.3,262.2 185.1,264.2 185.9,265.3 186.7,265.8 187.5,267.0 188.3,268.9 189.2,270.0 190.0,270.0 190.8,271.9 191.6,275.2 192.4,275.0 193.2,275.3 194.0,276.3 194.8,277.9 195.6,279.1 196.5,279.6 196.4,287.4" fill="#800000" stroke="#800000" stroke-width="0.5" stroke-linejoin="round"/>
<polygon points="51.0,237.6 49.6,214.7 50.2,214.2 50.8,213.8 51.4,213.3 52.0,212.9 52.6,212.5 53.2,212.1 53.8,211.6 54.4,211.1 55.0,210.5 55.6,209.8 56.2,209.1 56.8,208.3 57.4,207.4 58.0,206.4 58.6,205.5 59.1,204.4 59.7,203.4 60.3,202.3 60.9,201.3 61.5,200.3 62.1,199.2 62.7,198.1 63.2,196.7 63.8,195.0 64.3,192.4 64.8,189.2 65.3,186.5 65.8,184.3 66.4,182.0 66.9,179.4 67.4,176.3 67.9,172.8 68.4,168.9 68.8,164.9 69.3,162.0 69.9,159.1 70.3,153.8 70.7,148.5 71.2,145.4 71.7,142.4 72.2,137.3 72.5,130.1 73.0,127.1 73.6,124.5 74.1,121.2 74.7,117.8 75.2,114.3 75.7,110.7 76.3,107.2 76.8,103.4 77.3,99.8 77.9,96.8 78.5,94.5 79.2,93.4 79.9,94.2 80.7,95.8 81.6,98.7 82.5,102.5 83.4,106.4 84.3,110.1 85.2,113.8 86.1,118.4 87.1,124.9 88.2,132.7 89.1,137.7 90.0,141.8 90.8,144.3 91.6,147.0 92.4,148.6 93.4,153.8 94.3,159.7 95.3,166.6 96.1,169.1 97.1,174.2 97.9,176.8 98.7,180.5 99.6,183.7 100.5,188.7 101.2,189.1 101.9,187.3 102.6,187.2 103.3,187.3 104.1,188.3 104.8,189.9 105.7,194.6 106.5,196.2 107.2,195.2 107.8,193.6 108.7,196.7 109.5,199.6 110.1,197.1 110.8,194.4 111.5,194.3 112.3,196.9 113.0,195.6 113.7,195.1 114.5,195.7 115.3,198.3 116.0,198.1 116.7,195.7 117.3,193.9 118.1,193.2 118.8,193.3 119.5,192.6 120.3,192.7 121.0,192.3 121.7,191.2 122.4,190.5 123.2,191.3 124.0,192.7 124.8,193.1 125.5,192.1 126.2,191.9 127.0,191.7 127.8,193.9 128.6,194.6 129.3,193.2 130.0,193.0 130.8,192.9 131.6,193.2 132.3,192.7 133.2,196.9 133.9,196.8 134.7,196.5 135.4,195.4 136.2,195.3 136.9,194.6 137.7,195.7 138.5,198.2 139.3,198.6 140.1,197.7 140.8,196.4 141.6,196.5 142.4,198.0 143.2,199.0 144.0,200.4 144.7,198.6 145.5,198.1 146.3,200.7 147.2,205.5 147.9,204.3 148.7,203.4 149.5,204.8 150.3,207.6 151.1,210.0 152.0,211.8 152.7,211.5 153.5,212.7 154.4,215.0 155.2,218.6 156.0,220.9 156.8,223.3 157.6,223.1 158.4,224.4 159.2,226.0 160.0,229.5 160.8,233.0 161.6,237.2 162.4,236.9 163.2,236.2 164.0,235.8 164.8,239.6 165.6,242.4 166.4,243.4 167.2,244.9 168.0,247.9 168.8,248.6 169.6,246.6 170.4,246.4 171.2,247.8 172.0,249.2 172.8,250.4 173.6,252.3 174.4,254.8 175.3,256.5 176.1,257.6 176.9,255.1 177.7,254.4 178.5,255.7 179.3,259.6 180.1,261.1 180.9,262.3 181.7,262.4 182.5,262.9 183.3,262.9 184.1,264.9 184.9,266.0 185.7,266.4 186.5,267.7 187.4,269.5 188.2,270.7 189.0,270.6 189.8,272.5 190.6,275.9 191.4,275.6 192.2,275.9 193.0,277.0 193.8,278.6 194.6,279.8 195.5,280.3 195.4,288.0" fill="#800000" stroke="#800000" stroke-width="0.5" stroke-linejoin="round"/>
<line x1="34.8" y1="78.5" x2="148.5" y2="47.0" stroke="#222" stroke-width="1.0"/>
<line x1="148.5" y1="47.0" x2="293.0" y2="69.0" stroke="#222" stroke-width="1.0"/>
<line x1="34.8" y1="78.5" x2="45.7" y2="240.3" stroke="#222" stroke-width="1.1"/>
<line x1="293.0" y1="69.0" x2="284.0" y2="225.3" stroke="#222" stroke-width="1.1"/>
<line x1="45.7" y1="240.3" x2="190.5" y2="291.5" stroke="#111" stroke-width="1.35"/>
<line x1="190.5" y1="291.5" x2="284.0" y2="225.3" stroke="#111" stroke-width="1.35"/>
<line x1="284.0" y1="225.3" x2="273.7" y2="226.9" stroke="#222" stroke-width="1.0"/>
<line x1="284.9" y1="210.4" x2="277.3" y2="211.6" stroke="#222" stroke-width="1.0"/>
<line x1="285.7" y1="195.5" x2="275.4" y2="197.2" stroke="#222" stroke-width="1.0"/>
<line x1="286.6" y1="180.6" x2="279.0" y2="181.9" stroke="#222" stroke-width="1.0"/>
<line x1="287.4" y1="165.8" x2="277.1" y2="167.4" stroke="#222" stroke-width="1.0"/>
<line x1="288.3" y1="150.9" x2="280.7" y2="152.1" stroke="#222" stroke-width="1.0"/>
<line x1="289.1" y1="136.0" x2="278.8" y2="137.6" stroke="#222" stroke-width="1.0"/>
<line x1="290.0" y1="121.1" x2="282.4" y2="122.3" stroke="#222" stroke-width="1.0"/>
<line x1="290.9" y1="106.2" x2="280.6" y2="107.9" stroke="#222" stroke-width="1.0"/>
<line x1="291.7" y1="91.3" x2="284.1" y2="92.5" stroke="#222" stroke-width="1.0"/>
<line x1="292.6" y1="76.4" x2="282.3" y2="78.1" stroke="#222" stroke-width="1.0"/>
<line x1="51.6" y1="242.4" x2="56.4" y2="239.9" stroke="#222" stroke-width="0.9"/>
<line x1="61.3" y1="245.8" x2="64.9" y2="243.9" stroke="#222" stroke-width="0.9"/>
<line x1="71.2" y1="249.3" x2="75.9" y2="246.8" stroke="#222" stroke-width="0.9"/>
<line x1="81.2" y1="252.9" x2="84.8" y2="250.9" stroke="#222" stroke-width="0.9"/>
<line x1="91.5" y1="256.5" x2="96.1" y2="253.9" stroke="#222" stroke-width="0.9"/>
<line x1="101.9" y1="260.2" x2="105.4" y2="258.2" stroke="#222" stroke-width="0.9"/>
<line x1="112.5" y1="263.9" x2="117.1" y2="261.2" stroke="#222" stroke-width="0.9"/>
<line x1="123.3" y1="267.7" x2="126.8" y2="265.7" stroke="#222" stroke-width="0.9"/>
<line x1="134.4" y1="271.7" x2="138.9" y2="268.8" stroke="#222" stroke-width="0.9"/>
<line x1="145.6" y1="275.6" x2="149.0" y2="273.5" stroke="#222" stroke-width="0.9"/>
<line x1="157.1" y1="279.7" x2="161.6" y2="276.7" stroke="#222" stroke-width="0.9"/>
<line x1="168.8" y1="283.8" x2="172.1" y2="281.6" stroke="#222" stroke-width="0.9"/>
<line x1="180.7" y1="288.0" x2="185.1" y2="285.0" stroke="#222" stroke-width="0.9"/>
<line x1="197.3" y1="286.7" x2="193.3" y2="285.2" stroke="#222" stroke-width="0.9"/>
<line x1="210.6" y1="277.3" x2="206.5" y2="275.9" stroke="#222" stroke-width="0.9"/>
<line x1="223.2" y1="268.4" x2="219.2" y2="267.1" stroke="#222" stroke-width="0.9"/>
<line x1="235.3" y1="259.8" x2="231.4" y2="258.5" stroke="#222" stroke-width="0.9"/>
<line x1="246.9" y1="251.6" x2="243.0" y2="250.4" stroke="#222" stroke-width="0.9"/>
<line x1="258.0" y1="243.7" x2="254.2" y2="242.5" stroke="#222" stroke-width="0.9"/>
<line x1="268.7" y1="236.1" x2="264.9" y2="235.0" stroke="#222" stroke-width="0.9"/>
<line x1="279.0" y1="228.8" x2="275.3" y2="227.8" stroke="#222" stroke-width="0.9"/>
<text x="45.2" y="256.8" font-size="11.3" text-anchor="middle" fill="#111" transform="rotate(5 45.2 256.8)" textLength="19.0" lengthAdjust="spacingAndGlyphs">660</text>
<text x="65.0" y="264.6" font-size="11.3" text-anchor="middle" fill="#111" transform="rotate(5 65.0 264.6)" textLength="19.0" lengthAdjust="spacingAndGlyphs">680</text>
<text x="85.8" y="272.4" font-size="11.3" text-anchor="middle" fill="#111" transform="rotate(5 85.8 272.4)" textLength="19.0" lengthAdjust="spacingAndGlyphs">700</text>
<text x="107.3" y="280.1" font-size="11.3" text-anchor="middle" fill="#111" transform="rotate(5 107.3 280.1)" textLength="19.0" lengthAdjust="spacingAndGlyphs">720</text>
<text x="129.5" y="287.8" font-size="11.3" text-anchor="middle" fill="#111" transform="rotate(5 129.5 287.8)" textLength="19.0" lengthAdjust="spacingAndGlyphs">740</text>
<text x="153.4" y="295.5" font-size="11.3" text-anchor="middle" fill="#111" transform="rotate(5 153.4 295.5)" textLength="19.0" lengthAdjust="spacingAndGlyphs">760</text>
<text x="177.0" y="304.0" font-size="11.3" text-anchor="middle" fill="#111" transform="rotate(5 177.0 304.0)" textLength="19.0" lengthAdjust="spacingAndGlyphs">780</text>
<text font-size="11.3" text-anchor="middle" fill="#111" transform="translate(283.5 235.0) rotate(19) skewX(-22)">25</text>
<text font-size="11.3" text-anchor="middle" fill="#111" transform="translate(275.7 243.5) rotate(19) skewX(-22)">201</text>
<text font-size="11.3" text-anchor="middle" fill="#111" transform="translate(265.3 251.4) rotate(19) skewX(-22)">702</text>
<text font-size="11.3" text-anchor="middle" fill="#111" transform="translate(255.6 260.2) rotate(19) skewX(-22)">2081</text>
<text font-size="11.3" text-anchor="middle" fill="#111" transform="translate(244.9 269.0) rotate(19) skewX(-22)">4587</text>
<text font-size="11.3" text-anchor="middle" fill="#111" transform="translate(234.2 278.4) rotate(19) skewX(-22)">7094</text>
<text font-size="11.3" text-anchor="middle" fill="#111" transform="translate(221.3 287.8) rotate(19) skewX(-22)">9601</text>
<text font-size="11.3" text-anchor="middle" fill="#111" transform="translate(210.6 297.3) rotate(19) skewX(-22)">13361</text>
<text x="77.4" y="299.4" font-size="14" text-anchor="middle" fill="#111" transform="rotate(20.6 77.4 299.4)" textLength="102.5" lengthAdjust="spacingAndGlyphs">wavelength / nm</text>
<text x="272.3" y="274.3" font-size="14" text-anchor="middle" fill="#111" transform="rotate(-41.5 272.3 274.3)" textLength="146.0" lengthAdjust="spacingAndGlyphs">time after excitation / ps</text>
<text x="309.0" y="129.0" font-size="13.5" text-anchor="middle" fill="#111" transform="rotate(-85.4 309.0 129.0)" textLength="120.0" lengthAdjust="spacingAndGlyphs">normalised intensity</text>
<text x="21.4" y="40.8" font-size="22" text-anchor="start" fill="#111" textLength="29.7" lengthAdjust="spacingAndGlyphs">(a)</text>
<clipPath id="cb"><rect x="383.4" y="30" width="200" height="270"/></clipPath><g clip-path="url(#cb)">
<polyline points="383.7,63.7 385.8,83.5 391.8,160.0 408.2,211.8 438.1,251.3 468.1,274.0 498.0,247.3 542.9,201.9" fill="none" stroke="#111" stroke-width="1.2"/>
<circle cx="383.7" cy="63.7" r="3.9" fill="#fff" stroke="#3030ff" stroke-width="1.1"/>
<circle cx="385.8" cy="83.5" r="3.9" fill="#fff" stroke="#3030ff" stroke-width="1.1"/>
<circle cx="391.8" cy="160.0" r="3.9" fill="#fff" stroke="#3030ff" stroke-width="1.1"/>
<circle cx="408.2" cy="211.8" r="3.9" fill="#fff" stroke="#3030ff" stroke-width="1.1"/>
<circle cx="438.1" cy="251.3" r="3.9" fill="#fff" stroke="#3030ff" stroke-width="1.1"/>
<circle cx="468.1" cy="274.0" r="3.9" fill="#fff" stroke="#3030ff" stroke-width="1.1"/>
<circle cx="498.0" cy="247.3" r="3.9" fill="#fff" stroke="#3030ff" stroke-width="1.1"/>
<circle cx="542.9" cy="201.9" r="3.9" fill="#fff" stroke="#3030ff" stroke-width="1.1"/>
</g>
<path d="M383.4 43.4 V290.3 H551.1" fill="none" stroke="#111" stroke-width="1.4"/>
<line x1="383.4" y1="290.3" x2="383.4" y2="285.3" stroke="#111" stroke-width="1.2"/>
<text x="383.4" y="306.6" font-size="14" text-anchor="middle" fill="#111" textLength="8.3" lengthAdjust="spacingAndGlyphs">0</text>
<line x1="395.3" y1="290.3" x2="395.3" y2="287.3" stroke="#111" stroke-width="1.2"/>
<line x1="407.3" y1="290.3" x2="407.3" y2="285.3" stroke="#111" stroke-width="1.2"/>
<text x="407.3" y="306.6" font-size="14" text-anchor="middle" fill="#111" textLength="8.3" lengthAdjust="spacingAndGlyphs">2</text>
<line x1="419.2" y1="290.3" x2="419.2" y2="287.3" stroke="#111" stroke-width="1.2"/>
<line x1="431.1" y1="290.3" x2="431.1" y2="285.3" stroke="#111" stroke-width="1.2"/>
<text x="431.1" y="306.6" font-size="14" text-anchor="middle" fill="#111" textLength="8.3" lengthAdjust="spacingAndGlyphs">4</text>
<line x1="443.1" y1="290.3" x2="443.1" y2="287.3" stroke="#111" stroke-width="1.2"/>
<line x1="455.0" y1="290.3" x2="455.0" y2="285.3" stroke="#111" stroke-width="1.2"/>
<text x="455.0" y="306.6" font-size="14" text-anchor="middle" fill="#111" textLength="8.3" lengthAdjust="spacingAndGlyphs">6</text>
<line x1="466.9" y1="290.3" x2="466.9" y2="287.3" stroke="#111" stroke-width="1.2"/>
<line x1="478.9" y1="290.3" x2="478.9" y2="285.3" stroke="#111" stroke-width="1.2"/>
<text x="478.9" y="306.6" font-size="14" text-anchor="middle" fill="#111" textLength="8.3" lengthAdjust="spacingAndGlyphs">8</text>
<line x1="490.8" y1="290.3" x2="490.8" y2="287.3" stroke="#111" stroke-width="1.2"/>
<line x1="502.8" y1="290.3" x2="502.8" y2="285.3" stroke="#111" stroke-width="1.2"/>
<text x="502.8" y="306.6" font-size="14" text-anchor="middle" fill="#111" textLength="16.6" lengthAdjust="spacingAndGlyphs">10</text>
<line x1="514.7" y1="290.3" x2="514.7" y2="287.3" stroke="#111" stroke-width="1.2"/>
<line x1="526.6" y1="290.3" x2="526.6" y2="285.3" stroke="#111" stroke-width="1.2"/>
<text x="526.6" y="306.6" font-size="14" text-anchor="middle" fill="#111" textLength="16.6" lengthAdjust="spacingAndGlyphs">12</text>
<line x1="538.6" y1="290.3" x2="538.6" y2="287.3" stroke="#111" stroke-width="1.2"/>
<line x1="550.5" y1="290.3" x2="550.5" y2="285.3" stroke="#111" stroke-width="1.2"/>
<text x="550.5" y="306.6" font-size="14" text-anchor="middle" fill="#111" textLength="16.6" lengthAdjust="spacingAndGlyphs">14</text>
<line x1="383.4" y1="290.8" x2="386.4" y2="290.8" stroke="#111" stroke-width="1.2"/>
<line x1="383.4" y1="241.4" x2="388.4" y2="241.4" stroke="#111" stroke-width="1.2"/>
<text x="378.9" y="246.0" font-size="14" text-anchor="end" fill="#111" textLength="20.0" lengthAdjust="spacingAndGlyphs">0.4</text>
<line x1="383.4" y1="192.1" x2="386.4" y2="192.1" stroke="#111" stroke-width="1.2"/>
<line x1="383.4" y1="142.7" x2="388.4" y2="142.7" stroke="#111" stroke-width="1.2"/>
<text x="378.9" y="147.3" font-size="14" text-anchor="end" fill="#111" textLength="20.0" lengthAdjust="spacingAndGlyphs">0.6</text>
<line x1="383.4" y1="93.4" x2="386.4" y2="93.4" stroke="#111" stroke-width="1.2"/>
<line x1="383.4" y1="44.0" x2="388.4" y2="44.0" stroke="#111" stroke-width="1.2"/>
<text x="378.9" y="48.6" font-size="14" text-anchor="end" fill="#111" textLength="20.0" lengthAdjust="spacingAndGlyphs">0.8</text>
<text x="467.5" y="326.0" font-size="17.5" text-anchor="middle" fill="#111" textLength="73.0" lengthAdjust="spacingAndGlyphs">time / ns</text>
<text x="389.3" y="42.1" font-size="21.5" text-anchor="start" fill="#111" textLength="28.5" lengthAdjust="spacingAndGlyphs">(b)</text>
<text transform="translate(359.6 218) rotate(-90)" font-size="17" fill="#111">I<tspan font-size="11" dy="7.6">732</tspan><tspan dy="-7.6"> / I</tspan><tspan font-size="11" dy="7.6">682</tspan></text>
<polyline points="657.0,269.3 658.7,269.1 660.4,268.5 662.1,267.7 663.8,266.8 665.5,265.8 667.2,264.4 668.9,262.5 670.6,260.4 672.3,258.4 674.0,256.9 675.7,255.6 677.4,254.4 679.1,253.2 680.8,251.8 682.5,250.1 684.2,248.1 685.8,245.9 687.5,243.4 689.2,240.7 690.9,237.6 692.6,234.3 694.3,230.8 696.0,227.2 697.7,223.3 699.4,219.1 701.1,214.6 702.8,209.6 704.5,204.4 706.2,199.1 707.9,193.6 709.6,188.0 711.3,182.2 713.0,176.5 714.7,170.6 716.4,164.6 718.0,158.6 719.7,152.4 721.4,146.1 723.1,139.9 724.8,133.8 726.5,127.1 728.2,118.9 729.9,106.4 731.6,96.0 733.3,88.9 735.0,83.1 736.7,78.3 738.4,74.1 740.1,70.8 741.8,68.4 743.5,66.3 745.2,65.1 746.9,65.3 748.6,66.6 750.2,68.8 751.9,71.4 753.6,75.8 755.3,81.5 757.0,87.4 758.7,93.9 760.4,100.9 762.1,108.1 763.8,115.6 765.5,123.2 767.2,130.9 768.9,138.9 770.6,145.8 772.3,151.5 774.0,156.7 775.7,161.3 777.4,165.7 779.1,169.9 780.8,173.7 782.4,177.0 784.1,179.7 785.8,182.1 787.5,184.2 789.2,186.0 790.9,187.6 792.6,189.0 794.3,190.3 796.0,191.4 797.7,192.4 799.4,193.1 801.1,193.8 802.8,194.5 804.5,195.0 806.2,195.3 807.9,195.4 809.6,195.3 811.3,195.2 813.0,195.0 814.6,194.7 816.3,194.4 818.0,193.9 819.7,193.2 821.4,192.3 823.1,191.3 824.8,190.2 826.5,189.1 828.2,188.0 829.9,187.0 831.6,186.1 833.3,185.2 835.0,184.3 836.7,183.4 838.4,182.5 840.1,181.6 841.8,180.7 843.5,179.8 845.2,179.0 846.9,178.2 848.5,177.5 850.2,176.7 851.9,176.0 853.6,175.3 855.3,174.6 857.0,173.9 858.7,173.3 860.4,172.7 862.1,172.1 863.8,171.6 865.5,171.0 867.2,170.4 868.9,169.8 870.6,169.4 872.3,169.3 874.0,169.4 875.7,169.5 877.4,169.7 879.1,170.0 880.7,170.4 882.4,170.9 884.1,171.7 885.8,172.7 887.5,173.7 889.2,174.9 890.9,176.3 892.6,177.8 894.3,179.6 896.0,181.5 897.7,183.6 899.4,185.9 901.1,188.4 902.8,190.8 904.5,193.2 906.2,195.8 907.9,198.3 909.6,201.0 911.3,203.6 912.9,206.1 914.6,208.6 916.3,211.1 918.0,213.6 919.7,216.0 921.4,218.4 923.1,220.7 924.8,222.9 926.5,225.1 928.2,227.2 929.9,229.3 931.6,231.4 933.3,233.4 935.0,235.4 936.7,237.5 938.4,239.5 940.1,241.5 941.8,243.5 943.5,245.4 945.1,247.3 946.8,249.1 948.5,250.8 950.2,252.4 951.9,254.0 953.6,255.5 955.3,256.9 957.0,258.3 958.7,259.7 960.4,260.9 962.1,262.1 963.8,263.3 965.5,264.4 967.2,265.4 968.9,266.5 970.6,267.5 972.3,268.4 974.0,269.4 975.7,270.3 977.3,271.2 979.0,272.0 980.7,272.9 982.4,273.7 984.1,274.5 985.8,275.2 987.5,276.0 989.2,276.7 990.9,277.4 992.6,278.1 994.3,278.7" fill="none" stroke="#2a8c8c" stroke-width="1.5" stroke-linejoin="round"/>
<polyline points="657.0,278.1 662.1,277.4 667.2,277.1 672.2,277.4 677.3,277.8 682.4,278.1 687.5,278.1 692.5,278.1 697.6,278.1 702.7,278.0 707.8,277.1 712.8,276.3 717.9,275.5 723.0,275.4 728.0,275.4 733.1,275.5 738.2,276.1 743.3,276.3 748.3,274.6 753.4,274.5 758.5,275.7 763.5,275.6 768.6,275.3 773.7,275.0 778.8,274.8 783.8,274.3 788.9,273.6 794.0,271.9 799.0,270.3 804.1,269.0 809.2,267.7 814.3,266.4 819.3,265.0 824.4,263.6 829.5,262.2 834.5,260.8 839.6,260.1 844.7,259.8 849.8,259.6 854.8,259.6 859.9,259.6 865.0,259.6 870.0,260.1 875.1,261.5 880.2,262.6 885.3,263.9 890.3,265.4 895.4,267.6 900.5,270.3 905.5,272.6 910.6,274.7 915.7,276.5 920.8,278.0 925.8,279.4 930.9,281.0 936.0,282.8 941.0,284.4 946.1,285.4 951.2,286.2 956.3,286.9 961.3,287.6 966.4,288.3 971.5,288.9 976.5,289.5 981.6,290.0 986.7,290.4 991.8,290.8" fill="none" stroke="#000" stroke-width="1"/>
<rect x="655.2" y="276.3" width="3.6" height="3.6" fill="#000"/>
<rect x="660.3" y="275.6" width="3.6" height="3.6" fill="#000"/>
<rect x="665.4" y="275.3" width="3.6" height="3.6" fill="#000"/>
<rect x="670.4" y="275.6" width="3.6" height="3.6" fill="#000"/>
<rect x="675.5" y="276.0" width="3.6" height="3.6" fill="#000"/>
<rect x="680.6" y="276.3" width="3.6" height="3.6" fill="#000"/>
<rect x="685.7" y="276.3" width="3.6" height="3.6" fill="#000"/>
<rect x="690.7" y="276.3" width="3.6" height="3.6" fill="#000"/>
<rect x="695.8" y="276.3" width="3.6" height="3.6" fill="#000"/>
<rect x="700.9" y="276.2" width="3.6" height="3.6" fill="#000"/>
<rect x="706.0" y="275.3" width="3.6" height="3.6" fill="#000"/>
<rect x="711.0" y="274.5" width="3.6" height="3.6" fill="#000"/>
<rect x="716.1" y="273.7" width="3.6" height="3.6" fill="#000"/>
<rect x="721.2" y="273.6" width="3.6" height="3.6" fill="#000"/>
<rect x="726.2" y="273.6" width="3.6" height="3.6" fill="#000"/>
<rect x="731.3" y="273.7" width="3.6" height="3.6" fill="#000"/>
<rect x="736.4" y="274.3" width="3.6" height="3.6" fill="#000"/>
<rect x="741.5" y="274.5" width="3.6" height="3.6" fill="#000"/>
<rect x="746.5" y="272.8" width="3.6" height="3.6" fill="#000"/>
<rect x="751.6" y="272.7" width="3.6" height="3.6" fill="#000"/>
<rect x="756.7" y="273.9" width="3.6" height="3.6" fill="#000"/>
<rect x="761.7" y="273.8" width="3.6" height="3.6" fill="#000"/>
<rect x="766.8" y="273.5" width="3.6" height="3.6" fill="#000"/>
<rect x="771.9" y="273.2" width="3.6" height="3.6" fill="#000"/>
<rect x="777.0" y="273.0" width="3.6" height="3.6" fill="#000"/>
<rect x="782.0" y="272.5" width="3.6" height="3.6" fill="#000"/>
<rect x="787.1" y="271.8" width="3.6" height="3.6" fill="#000"/>
<rect x="792.2" y="270.1" width="3.6" height="3.6" fill="#000"/>
<rect x="797.2" y="268.5" width="3.6" height="3.6" fill="#000"/>
<rect x="802.3" y="267.2" width="3.6" height="3.6" fill="#000"/>
<rect x="807.4" y="265.9" width="3.6" height="3.6" fill="#000"/>
<rect x="812.5" y="264.6" width="3.6" height="3.6" fill="#000"/>
<rect x="817.5" y="263.2" width="3.6" height="3.6" fill="#000"/>
<rect x="822.6" y="261.8" width="3.6" height="3.6" fill="#000"/>
<rect x="827.7" y="260.4" width="3.6" height="3.6" fill="#000"/>
<rect x="832.7" y="259.0" width="3.6" height="3.6" fill="#000"/>
<rect x="837.8" y="258.3" width="3.6" height="3.6" fill="#000"/>
<rect x="842.9" y="258.0" width="3.6" height="3.6" fill="#000"/>
<rect x="848.0" y="257.8" width="3.6" height="3.6" fill="#000"/>
<rect x="853.0" y="257.8" width="3.6" height="3.6" fill="#000"/>
<rect x="858.1" y="257.8" width="3.6" height="3.6" fill="#000"/>
<rect x="863.2" y="257.8" width="3.6" height="3.6" fill="#000"/>
<rect x="868.2" y="258.3" width="3.6" height="3.6" fill="#000"/>
<rect x="873.3" y="259.7" width="3.6" height="3.6" fill="#000"/>
<rect x="878.4" y="260.8" width="3.6" height="3.6" fill="#000"/>
<rect x="883.5" y="262.1" width="3.6" height="3.6" fill="#000"/>
<rect x="888.5" y="263.6" width="3.6" height="3.6" fill="#000"/>
<rect x="893.6" y="265.8" width="3.6" height="3.6" fill="#000"/>
<rect x="898.7" y="268.5" width="3.6" height="3.6" fill="#000"/>
<rect x="903.7" y="270.8" width="3.6" height="3.6" fill="#000"/>
<rect x="908.8" y="272.9" width="3.6" height="3.6" fill="#000"/>
<rect x="913.9" y="274.7" width="3.6" height="3.6" fill="#000"/>
<rect x="919.0" y="276.2" width="3.6" height="3.6" fill="#000"/>
<rect x="924.0" y="277.6" width="3.6" height="3.6" fill="#000"/>
<rect x="929.1" y="279.2" width="3.6" height="3.6" fill="#000"/>
<rect x="934.2" y="281.0" width="3.6" height="3.6" fill="#000"/>
<rect x="939.2" y="282.6" width="3.6" height="3.6" fill="#000"/>
<rect x="944.3" y="283.6" width="3.6" height="3.6" fill="#000"/>
<rect x="949.4" y="284.4" width="3.6" height="3.6" fill="#000"/>
<rect x="954.5" y="285.1" width="3.6" height="3.6" fill="#000"/>
<rect x="959.5" y="285.8" width="3.6" height="3.6" fill="#000"/>
<rect x="964.6" y="286.5" width="3.6" height="3.6" fill="#000"/>
<rect x="969.7" y="287.1" width="3.6" height="3.6" fill="#000"/>
<rect x="974.7" y="287.7" width="3.6" height="3.6" fill="#000"/>
<rect x="979.8" y="288.2" width="3.6" height="3.6" fill="#000"/>
<rect x="984.9" y="288.6" width="3.6" height="3.6" fill="#000"/>
<rect x="990.0" y="289.0" width="3.6" height="3.6" fill="#000"/>
<polyline points="657.0,291.3 662.1,291.2 667.2,291.0 672.2,290.6 677.3,289.7 682.4,287.9 687.5,285.7 692.5,282.7 697.6,279.6 702.7,276.3 707.8,271.2 712.8,264.3 717.9,257.6 723.0,250.9 728.0,242.6 733.1,234.4 738.2,227.3 743.3,222.8 748.3,221.6 753.4,222.2 758.5,225.4 763.5,231.2 768.6,237.5 773.7,242.8 778.8,246.7 783.8,249.7 788.9,252.0 794.0,253.1 799.0,253.8 804.1,253.8 809.2,253.1 814.3,252.2 819.3,251.3 824.4,250.0 829.5,248.7 834.5,247.1 839.6,245.2 844.7,243.3 849.8,241.9 854.8,240.7 859.9,239.6 865.0,238.4 870.0,237.1 875.1,236.4 880.2,236.4 885.3,236.4 890.3,237.1 895.4,238.6 900.5,241.4 905.5,244.7 910.6,248.6 915.7,252.7 920.8,256.5 925.8,260.3 930.9,263.9 936.0,267.2 941.0,270.1 946.1,272.6 951.2,274.9 956.3,276.8 961.3,278.6 966.4,280.3 971.5,281.6 976.5,282.7 981.6,283.7 986.7,284.5 991.8,285.2" fill="none" stroke="#f00" stroke-width="1"/>
<circle cx="657.0" cy="291.3" r="1.85" fill="#f00"/>
<circle cx="662.1" cy="291.2" r="1.85" fill="#f00"/>
<circle cx="667.2" cy="291.0" r="1.85" fill="#f00"/>
<circle cx="672.2" cy="290.6" r="1.85" fill="#f00"/>
<circle cx="677.3" cy="289.7" r="1.85" fill="#f00"/>
<circle cx="682.4" cy="287.9" r="1.85" fill="#f00"/>
<circle cx="687.5" cy="285.7" r="1.85" fill="#f00"/>
<circle cx="692.5" cy="282.7" r="1.85" fill="#f00"/>
<circle cx="697.6" cy="279.6" r="1.85" fill="#f00"/>
<circle cx="702.7" cy="276.3" r="1.85" fill="#f00"/>
<circle cx="707.8" cy="271.2" r="1.85" fill="#f00"/>
<circle cx="712.8" cy="264.3" r="1.85" fill="#f00"/>
<circle cx="717.9" cy="257.6" r="1.85" fill="#f00"/>
<circle cx="723.0" cy="250.9" r="1.85" fill="#f00"/>
<circle cx="728.0" cy="242.6" r="1.85" fill="#f00"/>
<circle cx="733.1" cy="234.4" r="1.85" fill="#f00"/>
<circle cx="738.2" cy="227.3" r="1.85" fill="#f00"/>
<circle cx="743.3" cy="222.8" r="1.85" fill="#f00"/>
<circle cx="748.3" cy="221.6" r="1.85" fill="#f00"/>
<circle cx="753.4" cy="222.2" r="1.85" fill="#f00"/>
<circle cx="758.5" cy="225.4" r="1.85" fill="#f00"/>
<circle cx="763.5" cy="231.2" r="1.85" fill="#f00"/>
<circle cx="768.6" cy="237.5" r="1.85" fill="#f00"/>
<circle cx="773.7" cy="242.8" r="1.85" fill="#f00"/>
<circle cx="778.8" cy="246.7" r="1.85" fill="#f00"/>
<circle cx="783.8" cy="249.7" r="1.85" fill="#f00"/>
<circle cx="788.9" cy="252.0" r="1.85" fill="#f00"/>
<circle cx="794.0" cy="253.1" r="1.85" fill="#f00"/>
<circle cx="799.0" cy="253.8" r="1.85" fill="#f00"/>
<circle cx="804.1" cy="253.8" r="1.85" fill="#f00"/>
<circle cx="809.2" cy="253.1" r="1.85" fill="#f00"/>
<circle cx="814.3" cy="252.2" r="1.85" fill="#f00"/>
<circle cx="819.3" cy="251.3" r="1.85" fill="#f00"/>
<circle cx="824.4" cy="250.0" r="1.85" fill="#f00"/>
<circle cx="829.5" cy="248.7" r="1.85" fill="#f00"/>
<circle cx="834.5" cy="247.1" r="1.85" fill="#f00"/>
<circle cx="839.6" cy="245.2" r="1.85" fill="#f00"/>
<circle cx="844.7" cy="243.3" r="1.85" fill="#f00"/>
<circle cx="849.8" cy="241.9" r="1.85" fill="#f00"/>
<circle cx="854.8" cy="240.7" r="1.85" fill="#f00"/>
<circle cx="859.9" cy="239.6" r="1.85" fill="#f00"/>
<circle cx="865.0" cy="238.4" r="1.85" fill="#f00"/>
<circle cx="870.0" cy="237.1" r="1.85" fill="#f00"/>
<circle cx="875.1" cy="236.4" r="1.85" fill="#f00"/>
<circle cx="880.2" cy="236.4" r="1.85" fill="#f00"/>
<circle cx="885.3" cy="236.4" r="1.85" fill="#f00"/>
<circle cx="890.3" cy="237.1" r="1.85" fill="#f00"/>
<circle cx="895.4" cy="238.6" r="1.85" fill="#f00"/>
<circle cx="900.5" cy="241.4" r="1.85" fill="#f00"/>
<circle cx="905.5" cy="244.7" r="1.85" fill="#f00"/>
<circle cx="910.6" cy="248.6" r="1.85" fill="#f00"/>
<circle cx="915.7" cy="252.7" r="1.85" fill="#f00"/>
<circle cx="920.8" cy="256.5" r="1.85" fill="#f00"/>
<circle cx="925.8" cy="260.3" r="1.85" fill="#f00"/>
<circle cx="930.9" cy="263.9" r="1.85" fill="#f00"/>
<circle cx="936.0" cy="267.2" r="1.85" fill="#f00"/>
<circle cx="941.0" cy="270.1" r="1.85" fill="#f00"/>
<circle cx="946.1" cy="272.6" r="1.85" fill="#f00"/>
<circle cx="951.2" cy="274.9" r="1.85" fill="#f00"/>
<circle cx="956.3" cy="276.8" r="1.85" fill="#f00"/>
<circle cx="961.3" cy="278.6" r="1.85" fill="#f00"/>
<circle cx="966.4" cy="280.3" r="1.85" fill="#f00"/>
<circle cx="971.5" cy="281.6" r="1.85" fill="#f00"/>
<circle cx="976.5" cy="282.7" r="1.85" fill="#f00"/>
<circle cx="981.6" cy="283.7" r="1.85" fill="#f00"/>
<circle cx="986.7" cy="284.5" r="1.85" fill="#f00"/>
<circle cx="991.8" cy="285.2" r="1.85" fill="#f00"/>
<polyline points="657.0,278.9 662.1,276.1 667.2,272.9 672.2,269.3 677.3,265.3 682.4,260.7 687.5,255.7 692.5,250.3 697.6,244.1 702.7,236.2 707.8,225.2 712.8,211.7 717.9,197.8 723.0,184.3 728.0,170.8 733.1,158.0 738.2,150.0 743.3,147.1 748.3,148.6 753.4,157.9 758.5,172.0 763.5,188.5 768.6,202.9 773.7,213.6 778.8,224.1 783.8,231.7 788.9,236.8 794.0,240.9 799.0,244.1 804.1,246.5 809.2,247.9 814.3,248.8 819.3,248.9 824.4,248.6 829.5,248.1 834.5,247.4 839.6,246.2 844.7,244.9 849.8,244.1 854.8,243.4 859.9,242.8 865.0,242.4 870.0,242.1 875.1,241.9 880.2,242.6 885.3,244.1 890.3,246.0 895.4,248.6 900.5,251.5 905.5,254.5 910.6,257.7 915.7,260.9 920.8,264.1 925.8,267.1 930.9,269.6 936.0,271.9 941.0,274.0 946.1,276.0 951.2,277.8 956.3,279.4 961.3,280.9 966.4,282.3 971.5,283.5 976.5,284.6 981.6,285.6 986.7,286.5 991.8,287.3" fill="none" stroke="#1010ff" stroke-width="1"/>
<polygon points="657.0,276.3 654.6,280.8 659.4,280.8" fill="#1010ff"/>
<polygon points="662.1,273.5 659.7,278.0 664.5,278.0" fill="#1010ff"/>
<polygon points="667.2,270.3 664.8,274.8 669.6,274.8" fill="#1010ff"/>
<polygon points="672.2,266.7 669.8,271.2 674.6,271.2" fill="#1010ff"/>
<polygon points="677.3,262.7 674.9,267.2 679.7,267.2" fill="#1010ff"/>
<polygon points="682.4,258.1 680.0,262.6 684.8,262.6" fill="#1010ff"/>
<polygon points="687.5,253.1 685.1,257.6 689.9,257.6" fill="#1010ff"/>
<polygon points="692.5,247.7 690.1,252.2 694.9,252.2" fill="#1010ff"/>
<polygon points="697.6,241.5 695.2,246.0 700.0,246.0" fill="#1010ff"/>
<polygon points="702.7,233.6 700.3,238.1 705.1,238.1" fill="#1010ff"/>
<polygon points="707.8,222.6 705.4,227.1 710.2,227.1" fill="#1010ff"/>
<polygon points="712.8,209.1 710.4,213.6 715.2,213.6" fill="#1010ff"/>
<polygon points="717.9,195.2 715.5,199.7 720.3,199.7" fill="#1010ff"/>
<polygon points="723.0,181.7 720.6,186.2 725.4,186.2" fill="#1010ff"/>
<polygon points="728.0,168.2 725.6,172.7 730.4,172.7" fill="#1010ff"/>
<polygon points="733.1,155.4 730.7,159.9 735.5,159.9" fill="#1010ff"/>
<polygon points="738.2,147.4 735.8,151.9 740.6,151.9" fill="#1010ff"/>
<polygon points="743.3,144.5 740.9,149.0 745.7,149.0" fill="#1010ff"/>
<polygon points="748.3,146.0 745.9,150.5 750.7,150.5" fill="#1010ff"/>
<polygon points="753.4,155.3 751.0,159.8 755.8,159.8" fill="#1010ff"/>
<polygon points="758.5,169.4 756.1,173.9 760.9,173.9" fill="#1010ff"/>
<polygon points="763.5,185.9 761.1,190.4 765.9,190.4" fill="#1010ff"/>
<polygon points="768.6,200.3 766.2,204.8 771.0,204.8" fill="#1010ff"/>
<polygon points="773.7,211.0 771.3,215.5 776.1,215.5" fill="#1010ff"/>
<polygon points="778.8,221.5 776.4,226.0 781.2,226.0" fill="#1010ff"/>
<polygon points="783.8,229.1 781.4,233.6 786.2,233.6" fill="#1010ff"/>
<polygon points="788.9,234.2 786.5,238.7 791.3,238.7" fill="#1010ff"/>
<polygon points="794.0,238.3 791.6,242.8 796.4,242.8" fill="#1010ff"/>
<polygon points="799.0,241.5 796.6,246.0 801.4,246.0" fill="#1010ff"/>
<polygon points="804.1,243.9 801.7,248.4 806.5,248.4" fill="#1010ff"/>
<polygon points="809.2,245.3 806.8,249.8 811.6,249.8" fill="#1010ff"/>
<polygon points="814.3,246.2 811.9,250.7 816.7,250.7" fill="#1010ff"/>
<polygon points="819.3,246.3 816.9,250.8 821.7,250.8" fill="#1010ff"/>
<polygon points="824.4,246.0 822.0,250.5 826.8,250.5" fill="#1010ff"/>
<polygon points="829.5,245.5 827.1,250.0 831.9,250.0" fill="#1010ff"/>
<polygon points="834.5,244.8 832.1,249.3 836.9,249.3" fill="#1010ff"/>
<polygon points="839.6,243.6 837.2,248.1 842.0,248.1" fill="#1010ff"/>
<polygon points="844.7,242.3 842.3,246.8 847.1,246.8" fill="#1010ff"/>
<polygon points="849.8,241.5 847.4,246.0 852.2,246.0" fill="#1010ff"/>
<polygon points="854.8,240.8 852.4,245.3 857.2,245.3" fill="#1010ff"/>
<polygon points="859.9,240.2 857.5,244.7 862.3,244.7" fill="#1010ff"/>
<polygon points="865.0,239.8 862.6,244.3 867.4,244.3" fill="#1010ff"/>
<polygon points="870.0,239.5 867.6,244.0 872.4,244.0" fill="#1010ff"/>
<polygon points="875.1,239.3 872.7,243.8 877.5,243.8" fill="#1010ff"/>
<polygon points="880.2,240.0 877.8,244.5 882.6,244.5" fill="#1010ff"/>
<polygon points="885.3,241.5 882.9,246.0 887.7,246.0" fill="#1010ff"/>
<polygon points="890.3,243.4 887.9,247.9 892.7,247.9" fill="#1010ff"/>
<polygon points="895.4,246.0 893.0,250.5 897.8,250.5" fill="#1010ff"/>
<polygon points="900.5,248.9 898.1,253.4 902.9,253.4" fill="#1010ff"/>
<polygon points="905.5,251.9 903.1,256.4 907.9,256.4" fill="#1010ff"/>
<polygon points="910.6,255.1 908.2,259.6 913.0,259.6" fill="#1010ff"/>
<polygon points="915.7,258.3 913.3,262.8 918.1,262.8" fill="#1010ff"/>
<polygon points="920.8,261.5 918.4,266.0 923.2,266.0" fill="#1010ff"/>
<polygon points="925.8,264.5 923.4,269.0 928.2,269.0" fill="#1010ff"/>
<polygon points="930.9,267.0 928.5,271.5 933.3,271.5" fill="#1010ff"/>
<polygon points="936.0,269.3 933.6,273.8 938.4,273.8" fill="#1010ff"/>
<polygon points="941.0,271.4 938.6,275.9 943.4,275.9" fill="#1010ff"/>
<polygon points="946.1,273.4 943.7,277.9 948.5,277.9" fill="#1010ff"/>
<polygon points="951.2,275.2 948.8,279.7 953.6,279.7" fill="#1010ff"/>
<polygon points="956.3,276.8 953.9,281.3 958.7,281.3" fill="#1010ff"/>
<polygon points="961.3,278.3 958.9,282.8 963.7,282.8" fill="#1010ff"/>
<polygon points="966.4,279.7 964.0,284.2 968.8,284.2" fill="#1010ff"/>
<polygon points="971.5,280.9 969.1,285.4 973.9,285.4" fill="#1010ff"/>
<polygon points="976.5,282.0 974.1,286.5 978.9,286.5" fill="#1010ff"/>
<polygon points="981.6,283.0 979.2,287.5 984.0,287.5" fill="#1010ff"/>
<polygon points="986.7,283.9 984.3,288.4 989.1,288.4" fill="#1010ff"/>
<polygon points="991.8,284.7 989.4,289.2 994.2,289.2" fill="#1010ff"/>
<rect x="640" y="40" width="15" height="260" fill="#fff"/>
<rect x="650" y="292.2" width="350" height="6" fill="#fff"/>
<path d="M655.8 51.8 V291.3 H994.9" fill="none" stroke="#111" stroke-width="1.4"/>
<line x1="664.6" y1="291.3" x2="664.6" y2="288.3" stroke="#111" stroke-width="1.2"/>
<line x1="690.0" y1="291.3" x2="690.0" y2="286.3" stroke="#111" stroke-width="1.2"/>
<text x="690.0" y="306.6" font-size="12.2" text-anchor="middle" fill="#111" textLength="20.6" lengthAdjust="spacingAndGlyphs">660</text>
<line x1="715.4" y1="291.3" x2="715.4" y2="288.3" stroke="#111" stroke-width="1.2"/>
<line x1="740.7" y1="291.3" x2="740.7" y2="286.3" stroke="#111" stroke-width="1.2"/>
<text x="740.7" y="306.6" font-size="12.2" text-anchor="middle" fill="#111" textLength="20.6" lengthAdjust="spacingAndGlyphs">680</text>
<line x1="766.1" y1="291.3" x2="766.1" y2="288.3" stroke="#111" stroke-width="1.2"/>
<line x1="791.4" y1="291.3" x2="791.4" y2="286.3" stroke="#111" stroke-width="1.2"/>
<text x="791.4" y="306.6" font-size="12.2" text-anchor="middle" fill="#111" textLength="20.6" lengthAdjust="spacingAndGlyphs">700</text>
<line x1="816.8" y1="291.3" x2="816.8" y2="288.3" stroke="#111" stroke-width="1.2"/>
<line x1="842.1" y1="291.3" x2="842.1" y2="286.3" stroke="#111" stroke-width="1.2"/>
<text x="842.1" y="306.6" font-size="12.2" text-anchor="middle" fill="#111" textLength="20.6" lengthAdjust="spacingAndGlyphs">720</text>
<line x1="867.5" y1="291.3" x2="867.5" y2="288.3" stroke="#111" stroke-width="1.2"/>
<line x1="892.9" y1="291.3" x2="892.9" y2="286.3" stroke="#111" stroke-width="1.2"/>
<text x="892.9" y="306.6" font-size="12.2" text-anchor="middle" fill="#111" textLength="20.6" lengthAdjust="spacingAndGlyphs">740</text>
<line x1="918.2" y1="291.3" x2="918.2" y2="288.3" stroke="#111" stroke-width="1.2"/>
<line x1="943.6" y1="291.3" x2="943.6" y2="286.3" stroke="#111" stroke-width="1.2"/>
<text x="943.6" y="306.6" font-size="12.2" text-anchor="middle" fill="#111" textLength="20.6" lengthAdjust="spacingAndGlyphs">760</text>
<line x1="968.9" y1="291.3" x2="968.9" y2="288.3" stroke="#111" stroke-width="1.2"/>
<line x1="994.3" y1="291.3" x2="994.3" y2="286.3" stroke="#111" stroke-width="1.2"/>
<text x="994.3" y="306.6" font-size="12.2" text-anchor="middle" fill="#111" textLength="20.6" lengthAdjust="spacingAndGlyphs">780</text>
<line x1="655.8" y1="291.3" x2="660.8" y2="291.3" stroke="#111" stroke-width="1.2"/>
<text x="649.2" y="295.5" font-size="12.2" text-anchor="end" fill="#111">0</text>
<line x1="655.8" y1="251.5" x2="658.8" y2="251.5" stroke="#111" stroke-width="1.2"/>
<line x1="655.8" y1="211.7" x2="660.8" y2="211.7" stroke="#111" stroke-width="1.2"/>
<text x="649.2" y="215.9" font-size="12.2" text-anchor="end" fill="#111">50</text>
<line x1="655.8" y1="171.8" x2="658.8" y2="171.8" stroke="#111" stroke-width="1.2"/>
<line x1="655.8" y1="132.0" x2="660.8" y2="132.0" stroke="#111" stroke-width="1.2"/>
<text x="649.2" y="136.2" font-size="12.2" text-anchor="end" fill="#111">100</text>
<line x1="655.8" y1="92.2" x2="658.8" y2="92.2" stroke="#111" stroke-width="1.2"/>
<line x1="655.8" y1="52.4" x2="660.8" y2="52.4" stroke="#111" stroke-width="1.2"/>
<text x="649.2" y="56.6" font-size="12.2" text-anchor="end" fill="#111">150</text>
<text x="824.5" y="329.2" font-size="15" text-anchor="middle" fill="#111" textLength="114.4" lengthAdjust="spacingAndGlyphs">wavelength / nm</text>
<text x="625.0" y="182.0" font-size="15" text-anchor="middle" fill="#111" transform="rotate(-90 625.0 182.0)" textLength="64.4" lengthAdjust="spacingAndGlyphs">amplitude</text>
<text x="660.8" y="49.9" font-size="21.5" text-anchor="start" fill="#111" textLength="27.3" lengthAdjust="spacingAndGlyphs">(c)</text>
<rect x="864.3" y="54.4" width="123.3" height="61.2" fill="#fff" stroke="#111" stroke-width="1.2"/>
<text x="877.4" y="70.2" font-size="12.3" text-anchor="start" fill="#111" textLength="103.8" lengthAdjust="spacingAndGlyphs">lifetime component</text>
<line x1="876.8" y1="80.3" x2="905.1" y2="80.3" stroke="#000" stroke-width="1"/>
<rect x="889.1" y="78.3" width="4" height="4" fill="#000"/>
<text x="908.9" y="84.6" font-size="12.3" text-anchor="start" fill="#111">70 ps</text>
<line x1="876.8" y1="94.3" x2="905.1" y2="94.3" stroke="#f00" stroke-width="1"/>
<circle cx="891.1" cy="94.3" r="2" fill="#f00"/>
<text x="908.9" y="98.6" font-size="12.3" text-anchor="start" fill="#111">605 ps</text>
<line x1="876.8" y1="108.3" x2="905.1" y2="108.3" stroke="#1010ff" stroke-width="1"/>
<polygon points="891.1,105.7 888.7,110.2 893.5,110.2" fill="#1010ff"/>
<text x="908.9" y="112.6" font-size="12.3" text-anchor="start" fill="#111">1465 ps</text>
<text x="894.3" y="174.0" font-size="12" text-anchor="start" fill="#2a8c8c" textLength="34.0" lengthAdjust="spacingAndGlyphs">sum =</text>
<text x="917.9" y="188.1" font-size="12" text-anchor="start" fill="#2a8c8c" textLength="66.0" lengthAdjust="spacingAndGlyphs">steady state</text>
<text x="863.8" y="277.0" font-size="12" text-anchor="start" fill="#333">x2</text>
</svg>
</body></html>
